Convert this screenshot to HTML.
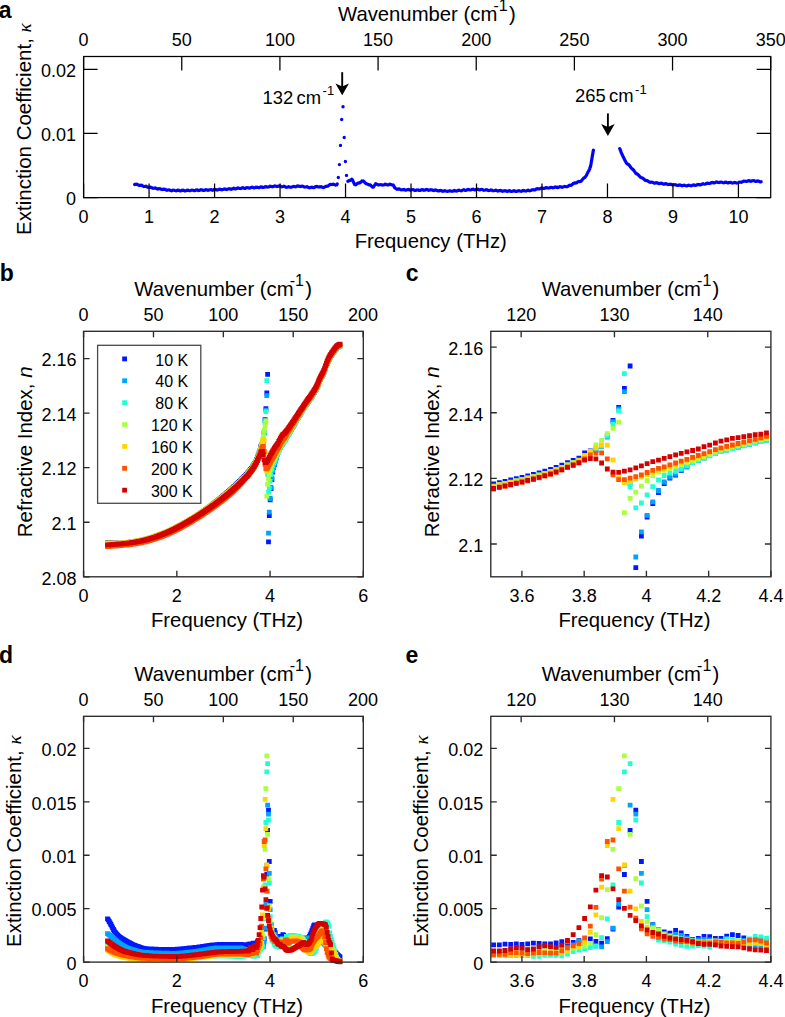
<!DOCTYPE html>
<html><head><meta charset="utf-8"><style>html,body{margin:0;padding:0;background:#fff;overflow:hidden;}svg{display:block;}</style></head><body>
<svg width="785" height="1017" viewBox="0 0 785 1017" font-family="Liberation Sans, sans-serif">
<rect width="785" height="1017" fill="#fff"/>
<path d="M134.7 184.5h.01M135.9 184.3h.01M137.0 184.2h.01M138.2 184.9h.01M139.3 185.4h.01M140.5 185.2h.01M141.6 185.2h.01M142.7 185.9h.01M143.9 186.5h.01M145.0 186.4h.01M146.1 186.3h.01M147.3 187.0h.01M148.4 187.5h.01M149.6 187.3h.01M150.7 187.2h.01M151.9 187.8h.01M153.0 188.3h.01M154.2 188.1h.01M155.4 188.0h.01M156.5 188.6h.01M157.7 189.0h.01M158.8 188.8h.01M160.0 188.6h.01M161.2 189.2h.01M162.3 189.5h.01M163.5 189.3h.01M164.7 189.2h.01M165.8 189.8h.01M167.0 190.2h.01M168.1 189.9h.01M169.3 189.9h.01M170.5 190.4h.01M171.6 190.7h.01M172.8 190.2h.01M174.0 190.1h.01M175.1 190.6h.01M176.3 190.8h.01M177.5 190.3h.01M178.7 190.2h.01M179.8 190.7h.01M181.0 190.8h.01M182.2 190.3h.01M183.3 190.2h.01M184.5 190.7h.01M185.7 190.7h.01M186.9 190.2h.01M188.0 190.2h.01M189.2 190.6h.01M190.4 190.6h.01M191.5 190.1h.01M192.7 190.1h.01M193.9 190.6h.01M195.1 190.5h.01M196.2 190.0h.01M197.4 190.0h.01M198.6 190.5h.01M199.7 190.3h.01M200.9 189.8h.01M202.1 190.0h.01M203.3 190.4h.01M204.4 190.2h.01M205.6 189.7h.01M206.8 189.9h.01M207.9 190.3h.01M209.1 190.0h.01M210.3 189.6h.01M211.4 189.8h.01M212.6 190.2h.01M213.8 189.8h.01M215.0 189.4h.01M216.1 189.7h.01M217.3 190.0h.01M218.5 189.6h.01M219.6 189.2h.01M220.8 189.5h.01M222.0 189.8h.01M223.2 189.4h.01M224.3 189.0h.01M225.5 189.3h.01M226.7 189.5h.01M227.8 189.1h.01M229.0 188.7h.01M230.2 189.0h.01M231.3 189.2h.01M232.5 188.7h.01M233.7 188.3h.01M234.8 188.7h.01M236.0 188.8h.01M237.2 188.3h.01M238.3 188.0h.01M239.5 188.4h.01M240.7 188.5h.01M241.9 188.0h.01M243.0 187.8h.01M244.2 188.2h.01M245.4 188.3h.01M246.5 187.7h.01M247.7 187.6h.01M248.9 188.0h.01M250.0 188.0h.01M251.2 187.4h.01M252.4 187.3h.01M253.6 187.8h.01M254.7 187.7h.01M255.9 187.2h.01M257.1 187.2h.01M258.2 187.6h.01M259.4 187.5h.01M260.6 187.0h.01M261.7 187.0h.01M262.9 187.4h.01M264.1 187.2h.01M265.3 186.7h.01M266.4 186.7h.01M267.6 187.1h.01M268.8 186.9h.01M269.9 186.3h.01M271.1 186.4h.01M272.3 186.8h.01M273.4 186.5h.01M274.6 186.0h.01M275.8 186.1h.01M276.9 186.6h.01M278.1 186.3h.01M279.3 185.9h.01M280.5 186.2h.01M281.6 186.7h.01M282.8 186.6h.01M283.9 186.3h.01M285.1 186.8h.01M286.3 187.3h.01M287.4 187.1h.01M288.6 186.8h.01M289.8 187.1h.01M290.9 187.3h.01M292.1 186.9h.01M293.3 186.4h.01M294.4 186.6h.01M295.6 186.8h.01M296.8 186.3h.01M297.9 185.9h.01M299.1 186.3h.01M300.3 186.6h.01M301.4 186.3h.01M302.6 186.1h.01M303.8 186.7h.01M304.9 187.1h.01M306.1 186.9h.01M307.2 186.8h.01M308.4 187.4h.01M309.6 187.7h.01M310.7 187.4h.01M311.9 187.2h.01M313.1 187.5h.01M314.2 187.5h.01M315.4 186.8h.01M316.5 186.4h.01M317.7 186.8h.01M318.9 187.1h.01M320.0 186.7h.01M321.2 186.7h.01M322.4 187.3h.01M323.5 187.5h.01M324.7 186.9h.01M325.8 186.4h.01M326.9 186.3h.01M327.9 186.1h.01M329.0 185.3h.01M330.1 184.5h.01M331.2 184.4h.01M332.3 184.5h.01M333.5 184.3h.01M334.4 184.6h.01M335.5 185.1h.01M336.5 184.9h.01M337.2 184.0h.01M338.3 177.5h.01M339.4 164.6h.01M340.5 145.4h.01M341.7 119.5h.01M343.0 106.8h.01M344.2 137.5h.01M345.4 161.5h.01M346.5 175.4h.01M347.9 181.2h.01M348.9 180.7h.01M349.9 180.5h.01M350.8 179.9h.01M351.8 179.2h.01M352.5 179.9h.01M352.9 180.9h.01M353.4 182.0h.01M354.0 183.2h.01M354.7 184.5h.01M355.7 184.8h.01M356.8 184.0h.01M357.8 183.2h.01M358.9 183.0h.01M359.9 182.8h.01M361.0 182.0h.01M362.0 181.0h.01M363.1 180.9h.01M364.2 181.7h.01M364.9 182.6h.01M365.6 183.3h.01M366.5 183.7h.01M367.6 184.1h.01M368.8 184.7h.01M369.9 184.9h.01M370.7 185.3h.01M371.5 186.1h.01M372.4 187.1h.01M373.4 187.1h.01M374.1 186.1h.01M374.8 184.9h.01M375.7 183.8h.01M376.8 184.1h.01M378.0 184.8h.01M379.1 184.9h.01M380.3 184.6h.01M381.5 184.7h.01M382.6 185.1h.01M383.8 184.9h.01M385.0 184.3h.01M386.2 184.5h.01M387.3 184.9h.01M388.5 184.7h.01M389.7 184.3h.01M390.9 184.5h.01M392.0 184.9h.01M393.1 185.0h.01M393.7 185.8h.01M394.2 186.7h.01M394.8 187.7h.01M395.9 188.6h.01M397.0 189.2h.01M398.2 189.0h.01M399.3 189.0h.01M400.5 189.6h.01M401.7 189.9h.01M402.8 189.6h.01M404.0 189.5h.01M405.2 190.0h.01M406.3 190.1h.01M407.5 189.6h.01M408.7 189.5h.01M409.9 190.0h.01M411.0 190.1h.01M412.2 189.6h.01M413.4 189.7h.01M414.6 190.3h.01M415.7 190.4h.01M416.9 189.9h.01M418.1 190.0h.01M419.2 190.4h.01M420.4 190.3h.01M421.6 189.7h.01M422.8 189.7h.01M423.9 190.2h.01M425.1 190.0h.01M426.3 189.5h.01M427.5 189.7h.01M428.6 190.2h.01M429.8 190.0h.01M431.0 189.6h.01M432.2 189.9h.01M433.3 190.5h.01M434.5 190.3h.01M435.7 190.0h.01M436.8 190.4h.01M438.0 190.9h.01M439.2 190.7h.01M440.3 190.4h.01M441.5 190.8h.01M442.7 191.3h.01M443.9 191.0h.01M445.0 190.7h.01M446.2 191.1h.01M447.4 191.4h.01M448.6 191.1h.01M449.7 190.7h.01M450.9 191.1h.01M452.1 191.3h.01M453.3 190.9h.01M454.4 190.5h.01M455.6 190.9h.01M456.8 191.0h.01M457.9 190.5h.01M459.1 190.2h.01M460.3 190.6h.01M461.5 190.7h.01M462.6 190.1h.01M463.8 189.8h.01M465.0 190.2h.01M466.1 190.3h.01M467.3 189.7h.01M468.5 189.5h.01M469.7 189.9h.01M470.8 189.9h.01M472.0 189.4h.01M473.2 189.3h.01M474.4 189.8h.01M475.5 189.7h.01M476.7 189.2h.01M477.9 189.3h.01M479.1 189.8h.01M480.2 189.8h.01M481.4 189.4h.01M482.6 189.6h.01M483.7 190.2h.01M484.9 190.1h.01M486.1 189.7h.01M487.3 190.0h.01M488.4 190.5h.01M489.6 190.4h.01M490.8 190.0h.01M492.0 190.2h.01M493.1 190.8h.01M494.3 190.6h.01M495.5 190.2h.01M496.6 190.5h.01M497.8 191.0h.01M499.0 190.8h.01M500.2 190.4h.01M501.3 190.8h.01M502.5 191.2h.01M503.7 190.9h.01M504.9 190.6h.01M506.0 191.0h.01M507.2 191.4h.01M508.4 191.0h.01M509.6 190.7h.01M510.7 191.2h.01M511.9 191.4h.01M513.1 191.0h.01M514.3 190.7h.01M515.4 191.2h.01M516.6 191.4h.01M517.8 190.9h.01M519.0 190.7h.01M520.1 191.1h.01M521.3 191.2h.01M522.5 190.7h.01M523.7 190.5h.01M524.8 190.9h.01M526.0 191.0h.01M527.2 190.4h.01M528.3 190.3h.01M529.5 190.7h.01M530.7 190.6h.01M531.8 189.9h.01M533.0 189.6h.01M534.1 189.9h.01M535.3 189.7h.01M536.4 188.9h.01M537.6 188.7h.01M538.7 188.9h.01M539.9 188.8h.01M541.1 188.1h.01M542.2 188.0h.01M543.4 188.4h.01M544.6 188.3h.01M545.8 187.7h.01M546.9 187.7h.01M548.1 188.1h.01M549.3 187.9h.01M550.4 187.4h.01M551.6 187.4h.01M552.8 187.8h.01M554.0 187.6h.01M555.1 187.0h.01M556.3 187.2h.01M557.5 187.5h.01M558.6 187.2h.01M559.8 186.7h.01M561.0 186.9h.01M562.2 187.3h.01M563.3 186.9h.01M564.5 186.4h.01M565.7 186.6h.01M566.8 186.8h.01M568.0 186.3h.01M569.1 185.5h.01M570.2 185.3h.01M571.2 185.2h.01M572.3 184.5h.01M573.3 183.5h.01M574.4 183.0h.01M575.4 183.0h.01M576.6 182.7h.01M577.7 181.9h.01M578.8 181.5h.01M579.9 181.6h.01M581.0 181.2h.01M581.9 180.2h.01M582.8 179.1h.01M583.6 178.3h.01M584.4 177.8h.01M585.2 177.1h.01M585.9 176.1h.01M586.6 174.9h.01M587.2 173.6h.01M587.8 172.5h.01M588.3 171.6h.01M588.8 170.8h.01M589.3 169.9h.01M589.7 168.9h.01M590.0 167.8h.01M590.4 166.7h.01M590.7 165.4h.01M591.0 164.1h.01M591.2 162.9h.01M591.4 161.6h.01M591.6 160.4h.01M591.8 159.2h.01M592.0 158.0h.01M592.2 156.8h.01M592.4 155.7h.01M592.6 154.5h.01M592.8 153.4h.01M593.0 152.3h.01M593.2 151.3h.01M593.4 150.2h.01M619.7 148.6h.01M620.2 149.7h.01M620.7 150.9h.01M621.1 152.2h.01M621.6 153.4h.01M622.1 154.5h.01M622.6 155.6h.01M623.0 156.5h.01M623.5 157.4h.01M623.9 158.3h.01M624.4 159.3h.01M625.0 160.4h.01M625.6 161.6h.01M626.3 162.8h.01M627.1 163.7h.01M627.9 164.3h.01M628.7 164.8h.01M629.6 165.7h.01M630.4 166.8h.01M631.2 167.9h.01M632.0 168.7h.01M632.7 169.3h.01M633.5 170.0h.01M634.2 171.0h.01M635.0 172.1h.01M635.8 173.2h.01M636.7 173.9h.01M637.5 174.3h.01M638.4 175.0h.01M639.3 176.0h.01M640.2 177.0h.01M641.2 177.6h.01M642.2 177.9h.01M643.2 178.4h.01M644.2 179.4h.01M645.2 180.2h.01M646.2 180.5h.01M647.2 180.7h.01M648.3 181.3h.01M649.4 182.1h.01M650.5 182.3h.01M651.7 182.1h.01M652.8 182.4h.01M654.0 183.0h.01M655.2 183.0h.01M656.3 182.7h.01M657.5 183.0h.01M658.7 183.5h.01M659.8 183.5h.01M661.0 183.2h.01M662.1 183.5h.01M663.3 184.0h.01M664.5 184.0h.01M665.6 183.7h.01M666.8 184.0h.01M668.0 184.5h.01M669.1 184.4h.01M670.3 184.1h.01M671.5 184.5h.01M672.6 184.9h.01M673.8 184.8h.01M675.0 184.6h.01M676.1 185.0h.01M677.3 185.4h.01M678.5 185.2h.01M679.6 185.0h.01M680.8 185.3h.01M682.0 185.7h.01M683.1 185.5h.01M684.3 185.3h.01M685.5 185.6h.01M686.6 185.9h.01M687.8 185.5h.01M689.0 185.3h.01M690.2 185.6h.01M691.3 185.7h.01M692.5 185.3h.01M693.7 185.0h.01M694.8 185.2h.01M696.0 185.3h.01M697.2 184.8h.01M698.3 184.5h.01M699.5 184.7h.01M700.6 184.7h.01M701.8 184.2h.01M703.0 183.8h.01M704.1 184.1h.01M705.3 184.1h.01M706.4 183.5h.01M707.6 183.2h.01M708.7 183.4h.01M709.9 183.4h.01M711.1 182.8h.01M712.2 182.5h.01M713.4 182.7h.01M714.5 182.7h.01M715.7 182.2h.01M716.9 182.0h.01M718.0 182.4h.01M719.2 182.5h.01M720.4 182.1h.01M721.6 182.1h.01M722.7 182.6h.01M723.9 182.7h.01M725.1 182.3h.01M726.2 182.3h.01M727.4 182.8h.01M728.6 182.8h.01M729.7 182.4h.01M730.9 182.5h.01M732.1 183.0h.01M733.2 182.9h.01M734.4 182.5h.01M735.6 182.6h.01M736.8 183.1h.01M737.9 182.9h.01M739.1 182.3h.01M740.2 182.1h.01M741.3 182.2h.01M742.4 181.7h.01M743.6 181.1h.01M744.8 181.1h.01M745.9 181.4h.01M747.1 181.2h.01M748.3 180.7h.01M749.4 180.8h.01M750.6 181.2h.01M751.8 181.0h.01M752.9 180.6h.01M754.1 180.8h.01M755.3 181.3h.01M756.4 181.2h.01M757.6 180.9h.01M758.8 181.2h.01M759.9 181.7h.01M761.1 181.7h.01" fill="none" stroke="#0000ff" stroke-width="3.4" stroke-linecap="round"/>
<path d="M105.1 540.2h4.8v4.8h-4.8zM106.0 540.2h4.8v4.8h-4.8zM106.8 540.2h4.8v4.8h-4.8zM107.7 540.3h4.8v4.8h-4.8zM108.5 540.3h4.8v4.8h-4.8zM109.4 540.4h4.8v4.8h-4.8zM110.2 540.4h4.8v4.8h-4.8zM111.1 540.5h4.8v4.8h-4.8zM111.9 540.5h4.8v4.8h-4.8zM112.8 540.6h4.8v4.8h-4.8zM113.6 540.6h4.8v4.8h-4.8zM114.5 540.7h4.8v4.8h-4.8zM115.3 540.7h4.8v4.8h-4.8zM116.2 540.8h4.8v4.8h-4.8zM117.0 540.8h4.8v4.8h-4.8zM117.9 540.8h4.8v4.8h-4.8zM118.7 540.9h4.8v4.8h-4.8zM119.6 540.8h4.8v4.8h-4.8zM120.4 540.7h4.8v4.8h-4.8zM121.3 540.6h4.8v4.8h-4.8zM122.1 540.5h4.8v4.8h-4.8zM123.0 540.4h4.8v4.8h-4.8zM123.8 540.4h4.8v4.8h-4.8zM124.7 540.3h4.8v4.8h-4.8zM125.5 540.2h4.8v4.8h-4.8zM126.4 540.1h4.8v4.8h-4.8zM127.2 539.9h4.8v4.8h-4.8zM128.1 539.8h4.8v4.8h-4.8zM128.9 539.7h4.8v4.8h-4.8zM129.8 539.6h4.8v4.8h-4.8zM130.7 539.5h4.8v4.8h-4.8zM131.5 539.3h4.8v4.8h-4.8zM132.4 539.2h4.8v4.8h-4.8zM133.2 539.1h4.8v4.8h-4.8zM134.1 538.9h4.8v4.8h-4.8zM134.9 538.7h4.8v4.8h-4.8zM135.8 538.6h4.8v4.8h-4.8zM136.6 538.4h4.8v4.8h-4.8zM137.5 538.3h4.8v4.8h-4.8zM138.3 538.1h4.8v4.8h-4.8zM139.2 537.9h4.8v4.8h-4.8zM140.0 537.7h4.8v4.8h-4.8zM140.9 537.5h4.8v4.8h-4.8zM141.7 537.3h4.8v4.8h-4.8zM142.6 537.1h4.8v4.8h-4.8zM143.4 536.9h4.8v4.8h-4.8zM144.3 536.7h4.8v4.8h-4.8zM145.1 536.4h4.8v4.8h-4.8zM146.0 536.2h4.8v4.8h-4.8zM146.8 536.0h4.8v4.8h-4.8zM147.7 535.7h4.8v4.8h-4.8zM148.5 535.5h4.8v4.8h-4.8zM149.4 535.2h4.8v4.8h-4.8zM150.2 534.9h4.8v4.8h-4.8zM151.1 534.7h4.8v4.8h-4.8zM151.9 534.4h4.8v4.8h-4.8zM152.8 534.1h4.8v4.8h-4.8zM153.6 533.8h4.8v4.8h-4.8zM154.5 533.5h4.8v4.8h-4.8zM155.4 533.2h4.8v4.8h-4.8zM156.2 532.9h4.8v4.8h-4.8zM157.1 532.6h4.8v4.8h-4.8zM157.9 532.3h4.8v4.8h-4.8zM158.8 531.9h4.8v4.8h-4.8zM159.6 531.6h4.8v4.8h-4.8zM160.5 531.3h4.8v4.8h-4.8zM161.3 530.9h4.8v4.8h-4.8zM162.2 530.6h4.8v4.8h-4.8zM163.0 530.2h4.8v4.8h-4.8zM163.9 529.9h4.8v4.8h-4.8zM164.7 529.5h4.8v4.8h-4.8zM165.6 529.1h4.8v4.8h-4.8zM166.4 528.7h4.8v4.8h-4.8zM167.3 528.3h4.8v4.8h-4.8zM168.1 527.9h4.8v4.8h-4.8zM169.0 527.5h4.8v4.8h-4.8zM169.8 527.1h4.8v4.8h-4.8zM170.7 526.7h4.8v4.8h-4.8zM171.5 526.3h4.8v4.8h-4.8zM172.4 525.9h4.8v4.8h-4.8zM173.2 525.5h4.8v4.8h-4.8zM174.1 525.0h4.8v4.8h-4.8zM174.9 524.6h4.8v4.8h-4.8zM175.8 524.2h4.8v4.8h-4.8zM176.6 523.7h4.8v4.8h-4.8zM177.5 523.3h4.8v4.8h-4.8zM178.3 522.8h4.8v4.8h-4.8zM179.2 522.4h4.8v4.8h-4.8zM180.0 521.9h4.8v4.8h-4.8zM180.9 521.4h4.8v4.8h-4.8zM181.8 521.0h4.8v4.8h-4.8zM182.6 520.5h4.8v4.8h-4.8zM183.5 520.0h4.8v4.8h-4.8zM184.3 519.5h4.8v4.8h-4.8zM185.2 519.0h4.8v4.8h-4.8zM186.0 518.5h4.8v4.8h-4.8zM186.9 518.0h4.8v4.8h-4.8zM187.7 517.5h4.8v4.8h-4.8zM188.6 517.0h4.8v4.8h-4.8zM189.4 516.5h4.8v4.8h-4.8zM190.3 516.0h4.8v4.8h-4.8zM191.1 515.5h4.8v4.8h-4.8zM192.0 514.9h4.8v4.8h-4.8zM192.8 514.4h4.8v4.8h-4.8zM193.7 513.9h4.8v4.8h-4.8zM194.5 513.3h4.8v4.8h-4.8zM195.4 512.8h4.8v4.8h-4.8zM196.2 512.3h4.8v4.8h-4.8zM197.1 511.7h4.8v4.8h-4.8zM197.9 511.2h4.8v4.8h-4.8zM198.8 510.6h4.8v4.8h-4.8zM199.6 510.0h4.8v4.8h-4.8zM200.5 509.4h4.8v4.8h-4.8zM201.3 508.8h4.8v4.8h-4.8zM202.2 508.1h4.8v4.8h-4.8zM203.0 507.5h4.8v4.8h-4.8zM203.9 506.9h4.8v4.8h-4.8zM204.7 506.3h4.8v4.8h-4.8zM205.6 505.7h4.8v4.8h-4.8zM206.5 505.0h4.8v4.8h-4.8zM207.3 504.4h4.8v4.8h-4.8zM208.2 503.8h4.8v4.8h-4.8zM209.0 503.1h4.8v4.8h-4.8zM209.9 502.5h4.8v4.8h-4.8zM210.7 501.8h4.8v4.8h-4.8zM211.6 501.2h4.8v4.8h-4.8zM212.4 500.5h4.8v4.8h-4.8zM213.3 499.8h4.8v4.8h-4.8zM214.1 499.2h4.8v4.8h-4.8zM215.0 498.5h4.8v4.8h-4.8zM215.8 497.8h4.8v4.8h-4.8zM216.7 497.1h4.8v4.8h-4.8zM217.5 496.4h4.8v4.8h-4.8zM218.4 495.7h4.8v4.8h-4.8zM219.2 495.0h4.8v4.8h-4.8zM220.1 494.3h4.8v4.8h-4.8zM220.9 493.6h4.8v4.8h-4.8zM221.8 492.9h4.8v4.8h-4.8zM222.6 492.2h4.8v4.8h-4.8zM223.5 491.5h4.8v4.8h-4.8zM224.3 490.7h4.8v4.8h-4.8zM225.2 490.0h4.8v4.8h-4.8zM226.0 489.2h4.8v4.8h-4.8zM226.9 488.5h4.8v4.8h-4.8zM227.7 487.7h4.8v4.8h-4.8zM228.6 486.9h4.8v4.8h-4.8zM229.4 486.2h4.8v4.8h-4.8zM230.3 485.4h4.8v4.8h-4.8zM231.2 484.6h4.8v4.8h-4.8zM232.0 483.9h4.8v4.8h-4.8zM232.9 483.1h4.8v4.8h-4.8zM233.7 482.3h4.8v4.8h-4.8zM234.6 481.5h4.8v4.8h-4.8zM235.4 480.7h4.8v4.8h-4.8zM236.3 479.9h4.8v4.8h-4.8zM237.1 479.1h4.8v4.8h-4.8zM238.0 478.2h4.8v4.8h-4.8zM238.8 477.4h4.8v4.8h-4.8zM239.7 476.5h4.8v4.8h-4.8zM240.5 475.7h4.8v4.8h-4.8zM241.4 474.8h4.8v4.8h-4.8zM242.2 473.9h4.8v4.8h-4.8zM243.1 473.0h4.8v4.8h-4.8zM243.9 472.0h4.8v4.8h-4.8zM244.8 471.5h4.8v4.8h-4.8zM245.6 470.3h4.8v4.8h-4.8zM246.5 469.2h4.8v4.8h-4.8zM247.3 468.2h4.8v4.8h-4.8zM248.2 467.1h4.8v4.8h-4.8zM249.0 465.9h4.8v4.8h-4.8zM249.9 464.8h4.8v4.8h-4.8zM250.7 463.6h4.8v4.8h-4.8zM251.6 462.3h4.8v4.8h-4.8zM252.4 460.9h4.8v4.8h-4.8zM253.3 459.4h4.8v4.8h-4.8zM254.1 457.3h4.8v4.8h-4.8zM255.0 455.1h4.8v4.8h-4.8zM255.8 452.7h4.8v4.8h-4.8zM256.7 450.5h4.8v4.8h-4.8zM257.6 448.5h4.8v4.8h-4.8zM258.4 444.2h4.8v4.8h-4.8zM259.3 442.6h4.8v4.8h-4.8zM260.1 441.7h4.8v4.8h-4.8zM261.0 438.4h4.8v4.8h-4.8zM261.8 430.1h4.8v4.8h-4.8zM262.7 417.2h4.8v4.8h-4.8zM263.5 406.2h4.8v4.8h-4.8zM264.4 390.6h4.8v4.8h-4.8zM265.2 371.9h4.8v4.8h-4.8zM266.1 539.5h4.8v4.8h-4.8zM266.9 513.2h4.8v4.8h-4.8zM267.8 497.4h4.8v4.8h-4.8zM268.6 486.2h4.8v4.8h-4.8zM269.5 477.2h4.8v4.8h-4.8zM270.3 469.6h4.8v4.8h-4.8zM271.2 465.0h4.8v4.8h-4.8zM272.0 462.5h4.8v4.8h-4.8zM272.9 458.8h4.8v4.8h-4.8zM273.7 455.3h4.8v4.8h-4.8zM274.6 451.9h4.8v4.8h-4.8zM275.4 450.0h4.8v4.8h-4.8zM276.3 448.2h4.8v4.8h-4.8zM277.1 446.4h4.8v4.8h-4.8zM278.0 444.6h4.8v4.8h-4.8zM278.8 442.7h4.8v4.8h-4.8zM279.7 441.6h4.8v4.8h-4.8zM280.5 440.4h4.8v4.8h-4.8zM281.4 439.2h4.8v4.8h-4.8zM282.3 438.0h4.8v4.8h-4.8zM283.1 436.6h4.8v4.8h-4.8zM284.0 435.3h4.8v4.8h-4.8zM284.8 433.4h4.8v4.8h-4.8zM285.7 432.1h4.8v4.8h-4.8zM286.5 430.7h4.8v4.8h-4.8zM287.4 429.3h4.8v4.8h-4.8zM288.2 427.9h4.8v4.8h-4.8zM289.1 426.5h4.8v4.8h-4.8zM289.9 425.1h4.8v4.8h-4.8zM290.8 423.6h4.8v4.8h-4.8zM291.6 422.2h4.8v4.8h-4.8zM292.5 420.7h4.8v4.8h-4.8zM293.3 419.2h4.8v4.8h-4.8zM294.2 417.7h4.8v4.8h-4.8zM295.0 416.3h4.8v4.8h-4.8zM295.9 414.8h4.8v4.8h-4.8zM296.7 413.3h4.8v4.8h-4.8zM297.6 411.9h4.8v4.8h-4.8zM298.4 410.4h4.8v4.8h-4.8zM299.3 409.0h4.8v4.8h-4.8zM300.1 407.5h4.8v4.8h-4.8zM301.0 406.1h4.8v4.8h-4.8zM301.8 404.8h4.8v4.8h-4.8zM302.7 403.5h4.8v4.8h-4.8zM303.5 402.3h4.8v4.8h-4.8zM304.4 401.0h4.8v4.8h-4.8zM305.2 399.8h4.8v4.8h-4.8zM306.1 398.6h4.8v4.8h-4.8zM307.0 397.4h4.8v4.8h-4.8zM307.8 396.2h4.8v4.8h-4.8zM308.7 394.9h4.8v4.8h-4.8zM309.5 393.6h4.8v4.8h-4.8zM310.4 392.3h4.8v4.8h-4.8zM311.2 391.0h4.8v4.8h-4.8zM312.1 389.6h4.8v4.8h-4.8zM312.9 388.2h4.8v4.8h-4.8zM313.8 386.6h4.8v4.8h-4.8zM314.6 384.8h4.8v4.8h-4.8zM315.5 382.7h4.8v4.8h-4.8zM316.3 380.6h4.8v4.8h-4.8zM317.2 378.5h4.8v4.8h-4.8zM318.0 376.7h4.8v4.8h-4.8zM318.9 375.1h4.8v4.8h-4.8zM319.7 373.5h4.8v4.8h-4.8zM320.6 371.8h4.8v4.8h-4.8zM321.4 370.0h4.8v4.8h-4.8zM322.3 367.8h4.8v4.8h-4.8zM323.1 365.4h4.8v4.8h-4.8zM324.0 363.0h4.8v4.8h-4.8zM324.8 360.8h4.8v4.8h-4.8zM325.7 358.8h4.8v4.8h-4.8zM326.5 356.9h4.8v4.8h-4.8zM327.4 355.3h4.8v4.8h-4.8zM328.2 353.9h4.8v4.8h-4.8zM329.1 352.6h4.8v4.8h-4.8zM329.9 351.4h4.8v4.8h-4.8zM330.8 350.1h4.8v4.8h-4.8zM331.6 348.9h4.8v4.8h-4.8zM332.5 347.7h4.8v4.8h-4.8zM333.4 346.6h4.8v4.8h-4.8zM334.2 345.6h4.8v4.8h-4.8zM335.1 345.0h4.8v4.8h-4.8zM335.9 344.4h4.8v4.8h-4.8zM336.8 343.9h4.8v4.8h-4.8zM337.6 343.6h4.8v4.8h-4.8z" fill="#0018ff"/>
<path d="M105.1 541.2h4.8v4.8h-4.8zM106.0 541.2h4.8v4.8h-4.8zM106.8 541.2h4.8v4.8h-4.8zM107.7 541.2h4.8v4.8h-4.8zM108.5 541.2h4.8v4.8h-4.8zM109.4 541.2h4.8v4.8h-4.8zM110.2 541.2h4.8v4.8h-4.8zM111.1 541.2h4.8v4.8h-4.8zM111.9 541.2h4.8v4.8h-4.8zM112.8 541.2h4.8v4.8h-4.8zM113.6 541.2h4.8v4.8h-4.8zM114.5 541.2h4.8v4.8h-4.8zM115.3 541.2h4.8v4.8h-4.8zM116.2 541.2h4.8v4.8h-4.8zM117.0 541.2h4.8v4.8h-4.8zM117.9 541.2h4.8v4.8h-4.8zM118.7 541.1h4.8v4.8h-4.8zM119.6 541.1h4.8v4.8h-4.8zM120.4 541.0h4.8v4.8h-4.8zM121.3 540.9h4.8v4.8h-4.8zM122.1 540.8h4.8v4.8h-4.8zM123.0 540.7h4.8v4.8h-4.8zM123.8 540.6h4.8v4.8h-4.8zM124.7 540.5h4.8v4.8h-4.8zM125.5 540.4h4.8v4.8h-4.8zM126.4 540.3h4.8v4.8h-4.8zM127.2 540.2h4.8v4.8h-4.8zM128.1 540.1h4.8v4.8h-4.8zM128.9 540.0h4.8v4.8h-4.8zM129.8 539.9h4.8v4.8h-4.8zM130.7 539.7h4.8v4.8h-4.8zM131.5 539.6h4.8v4.8h-4.8zM132.4 539.5h4.8v4.8h-4.8zM133.2 539.3h4.8v4.8h-4.8zM134.1 539.2h4.8v4.8h-4.8zM134.9 539.0h4.8v4.8h-4.8zM135.8 538.9h4.8v4.8h-4.8zM136.6 538.7h4.8v4.8h-4.8zM137.5 538.5h4.8v4.8h-4.8zM138.3 538.4h4.8v4.8h-4.8zM139.2 538.2h4.8v4.8h-4.8zM140.0 538.0h4.8v4.8h-4.8zM140.9 537.8h4.8v4.8h-4.8zM141.7 537.6h4.8v4.8h-4.8zM142.6 537.4h4.8v4.8h-4.8zM143.4 537.2h4.8v4.8h-4.8zM144.3 536.9h4.8v4.8h-4.8zM145.1 536.7h4.8v4.8h-4.8zM146.0 536.5h4.8v4.8h-4.8zM146.8 536.2h4.8v4.8h-4.8zM147.7 536.0h4.8v4.8h-4.8zM148.5 535.7h4.8v4.8h-4.8zM149.4 535.5h4.8v4.8h-4.8zM150.2 535.2h4.8v4.8h-4.8zM151.1 534.9h4.8v4.8h-4.8zM151.9 534.7h4.8v4.8h-4.8zM152.8 534.4h4.8v4.8h-4.8zM153.6 534.1h4.8v4.8h-4.8zM154.5 533.8h4.8v4.8h-4.8zM155.4 533.5h4.8v4.8h-4.8zM156.2 533.2h4.8v4.8h-4.8zM157.1 532.9h4.8v4.8h-4.8zM157.9 532.5h4.8v4.8h-4.8zM158.8 532.2h4.8v4.8h-4.8zM159.6 531.9h4.8v4.8h-4.8zM160.5 531.5h4.8v4.8h-4.8zM161.3 531.2h4.8v4.8h-4.8zM162.2 530.8h4.8v4.8h-4.8zM163.0 530.5h4.8v4.8h-4.8zM163.9 530.1h4.8v4.8h-4.8zM164.7 529.8h4.8v4.8h-4.8zM165.6 529.4h4.8v4.8h-4.8zM166.4 529.0h4.8v4.8h-4.8zM167.3 528.6h4.8v4.8h-4.8zM168.1 528.2h4.8v4.8h-4.8zM169.0 527.8h4.8v4.8h-4.8zM169.8 527.4h4.8v4.8h-4.8zM170.7 527.0h4.8v4.8h-4.8zM171.5 526.6h4.8v4.8h-4.8zM172.4 526.2h4.8v4.8h-4.8zM173.2 525.7h4.8v4.8h-4.8zM174.1 525.3h4.8v4.8h-4.8zM174.9 524.9h4.8v4.8h-4.8zM175.8 524.4h4.8v4.8h-4.8zM176.6 524.0h4.8v4.8h-4.8zM177.5 523.5h4.8v4.8h-4.8zM178.3 523.1h4.8v4.8h-4.8zM179.2 522.6h4.8v4.8h-4.8zM180.0 522.2h4.8v4.8h-4.8zM180.9 521.7h4.8v4.8h-4.8zM181.8 521.2h4.8v4.8h-4.8zM182.6 520.7h4.8v4.8h-4.8zM183.5 520.3h4.8v4.8h-4.8zM184.3 519.8h4.8v4.8h-4.8zM185.2 519.3h4.8v4.8h-4.8zM186.0 518.8h4.8v4.8h-4.8zM186.9 518.3h4.8v4.8h-4.8zM187.7 517.8h4.8v4.8h-4.8zM188.6 517.3h4.8v4.8h-4.8zM189.4 516.8h4.8v4.8h-4.8zM190.3 516.3h4.8v4.8h-4.8zM191.1 515.7h4.8v4.8h-4.8zM192.0 515.2h4.8v4.8h-4.8zM192.8 514.7h4.8v4.8h-4.8zM193.7 514.2h4.8v4.8h-4.8zM194.5 513.6h4.8v4.8h-4.8zM195.4 513.1h4.8v4.8h-4.8zM196.2 512.5h4.8v4.8h-4.8zM197.1 512.0h4.8v4.8h-4.8zM197.9 511.4h4.8v4.8h-4.8zM198.8 510.9h4.8v4.8h-4.8zM199.6 510.3h4.8v4.8h-4.8zM200.5 509.7h4.8v4.8h-4.8zM201.3 509.1h4.8v4.8h-4.8zM202.2 508.5h4.8v4.8h-4.8zM203.0 507.9h4.8v4.8h-4.8zM203.9 507.3h4.8v4.8h-4.8zM204.7 506.7h4.8v4.8h-4.8zM205.6 506.1h4.8v4.8h-4.8zM206.5 505.5h4.8v4.8h-4.8zM207.3 504.9h4.8v4.8h-4.8zM208.2 504.3h4.8v4.8h-4.8zM209.0 503.7h4.8v4.8h-4.8zM209.9 503.0h4.8v4.8h-4.8zM210.7 502.4h4.8v4.8h-4.8zM211.6 501.8h4.8v4.8h-4.8zM212.4 501.1h4.8v4.8h-4.8zM213.3 500.5h4.8v4.8h-4.8zM214.1 499.8h4.8v4.8h-4.8zM215.0 499.2h4.8v4.8h-4.8zM215.8 498.5h4.8v4.8h-4.8zM216.7 497.9h4.8v4.8h-4.8zM217.5 497.2h4.8v4.8h-4.8zM218.4 496.5h4.8v4.8h-4.8zM219.2 495.9h4.8v4.8h-4.8zM220.1 495.2h4.8v4.8h-4.8zM220.9 494.5h4.8v4.8h-4.8zM221.8 493.8h4.8v4.8h-4.8zM222.6 493.1h4.8v4.8h-4.8zM223.5 492.4h4.8v4.8h-4.8zM224.3 491.7h4.8v4.8h-4.8zM225.2 490.9h4.8v4.8h-4.8zM226.0 490.2h4.8v4.8h-4.8zM226.9 489.5h4.8v4.8h-4.8zM227.7 488.7h4.8v4.8h-4.8zM228.6 488.0h4.8v4.8h-4.8zM229.4 487.2h4.8v4.8h-4.8zM230.3 486.5h4.8v4.8h-4.8zM231.2 485.7h4.8v4.8h-4.8zM232.0 485.0h4.8v4.8h-4.8zM232.9 484.2h4.8v4.8h-4.8zM233.7 483.4h4.8v4.8h-4.8zM234.6 482.6h4.8v4.8h-4.8zM235.4 481.9h4.8v4.8h-4.8zM236.3 481.0h4.8v4.8h-4.8zM237.1 480.2h4.8v4.8h-4.8zM238.0 479.4h4.8v4.8h-4.8zM238.8 478.6h4.8v4.8h-4.8zM239.7 477.7h4.8v4.8h-4.8zM240.5 476.9h4.8v4.8h-4.8zM241.4 476.0h4.8v4.8h-4.8zM242.2 475.1h4.8v4.8h-4.8zM243.1 474.2h4.8v4.8h-4.8zM243.9 473.3h4.8v4.8h-4.8zM244.8 472.7h4.8v4.8h-4.8zM245.6 471.6h4.8v4.8h-4.8zM246.5 470.5h4.8v4.8h-4.8zM247.3 469.4h4.8v4.8h-4.8zM248.2 468.3h4.8v4.8h-4.8zM249.0 467.2h4.8v4.8h-4.8zM249.9 466.0h4.8v4.8h-4.8zM250.7 464.8h4.8v4.8h-4.8zM251.6 463.5h4.8v4.8h-4.8zM252.4 462.1h4.8v4.8h-4.8zM253.3 460.6h4.8v4.8h-4.8zM254.1 458.8h4.8v4.8h-4.8zM255.0 456.8h4.8v4.8h-4.8zM255.8 454.5h4.8v4.8h-4.8zM256.7 452.5h4.8v4.8h-4.8zM257.6 450.5h4.8v4.8h-4.8zM258.4 446.7h4.8v4.8h-4.8zM259.3 443.8h4.8v4.8h-4.8zM260.1 442.2h4.8v4.8h-4.8zM261.0 438.8h4.8v4.8h-4.8zM261.8 430.9h4.8v4.8h-4.8zM262.7 418.1h4.8v4.8h-4.8zM263.5 407.7h4.8v4.8h-4.8zM264.4 393.2h4.8v4.8h-4.8zM265.2 469.7h4.8v4.8h-4.8zM266.1 530.7h4.8v4.8h-4.8zM266.9 509.7h4.8v4.8h-4.8zM267.8 496.1h4.8v4.8h-4.8zM268.6 484.9h4.8v4.8h-4.8zM269.5 475.4h4.8v4.8h-4.8zM270.3 468.3h4.8v4.8h-4.8zM271.2 464.2h4.8v4.8h-4.8zM272.0 461.8h4.8v4.8h-4.8zM272.9 458.4h4.8v4.8h-4.8zM273.7 455.9h4.8v4.8h-4.8zM274.6 452.0h4.8v4.8h-4.8zM275.4 450.1h4.8v4.8h-4.8zM276.3 448.3h4.8v4.8h-4.8zM277.1 446.5h4.8v4.8h-4.8zM278.0 444.6h4.8v4.8h-4.8zM278.8 442.8h4.8v4.8h-4.8zM279.7 441.6h4.8v4.8h-4.8zM280.5 440.5h4.8v4.8h-4.8zM281.4 439.3h4.8v4.8h-4.8zM282.3 438.1h4.8v4.8h-4.8zM283.1 436.7h4.8v4.8h-4.8zM284.0 435.4h4.8v4.8h-4.8zM284.8 433.4h4.8v4.8h-4.8zM285.7 432.2h4.8v4.8h-4.8zM286.5 430.8h4.8v4.8h-4.8zM287.4 429.4h4.8v4.8h-4.8zM288.2 428.0h4.8v4.8h-4.8zM289.1 426.6h4.8v4.8h-4.8zM289.9 425.2h4.8v4.8h-4.8zM290.8 423.7h4.8v4.8h-4.8zM291.6 422.2h4.8v4.8h-4.8zM292.5 420.8h4.8v4.8h-4.8zM293.3 419.3h4.8v4.8h-4.8zM294.2 417.8h4.8v4.8h-4.8zM295.0 416.3h4.8v4.8h-4.8zM295.9 414.9h4.8v4.8h-4.8zM296.7 413.4h4.8v4.8h-4.8zM297.6 411.9h4.8v4.8h-4.8zM298.4 410.5h4.8v4.8h-4.8zM299.3 409.0h4.8v4.8h-4.8zM300.1 407.6h4.8v4.8h-4.8zM301.0 406.1h4.8v4.8h-4.8zM301.8 404.8h4.8v4.8h-4.8zM302.7 403.5h4.8v4.8h-4.8zM303.5 402.3h4.8v4.8h-4.8zM304.4 401.1h4.8v4.8h-4.8zM305.2 399.9h4.8v4.8h-4.8zM306.1 398.7h4.8v4.8h-4.8zM307.0 397.5h4.8v4.8h-4.8zM307.8 396.2h4.8v4.8h-4.8zM308.7 394.9h4.8v4.8h-4.8zM309.5 393.6h4.8v4.8h-4.8zM310.4 392.3h4.8v4.8h-4.8zM311.2 391.0h4.8v4.8h-4.8zM312.1 389.6h4.8v4.8h-4.8zM312.9 388.2h4.8v4.8h-4.8zM313.8 386.6h4.8v4.8h-4.8zM314.6 384.8h4.8v4.8h-4.8zM315.5 382.8h4.8v4.8h-4.8zM316.3 380.6h4.8v4.8h-4.8zM317.2 378.6h4.8v4.8h-4.8zM318.0 376.8h4.8v4.8h-4.8zM318.9 375.1h4.8v4.8h-4.8zM319.7 373.5h4.8v4.8h-4.8zM320.6 371.9h4.8v4.8h-4.8zM321.4 370.0h4.8v4.8h-4.8zM322.3 367.9h4.8v4.8h-4.8zM323.1 365.4h4.8v4.8h-4.8zM324.0 363.0h4.8v4.8h-4.8zM324.8 360.9h4.8v4.8h-4.8zM325.7 358.8h4.8v4.8h-4.8zM326.5 356.9h4.8v4.8h-4.8zM327.4 355.3h4.8v4.8h-4.8zM328.2 353.9h4.8v4.8h-4.8zM329.1 352.6h4.8v4.8h-4.8zM329.9 351.4h4.8v4.8h-4.8zM330.8 350.2h4.8v4.8h-4.8zM331.6 348.9h4.8v4.8h-4.8zM332.5 347.7h4.8v4.8h-4.8zM333.4 346.6h4.8v4.8h-4.8zM334.2 345.7h4.8v4.8h-4.8zM335.1 345.0h4.8v4.8h-4.8zM335.9 344.4h4.8v4.8h-4.8zM336.8 343.9h4.8v4.8h-4.8zM337.6 343.6h4.8v4.8h-4.8z" fill="#00a4ff"/>
<path d="M105.1 541.5h4.8v4.8h-4.8zM106.0 541.5h4.8v4.8h-4.8zM106.8 541.4h4.8v4.8h-4.8zM107.7 541.4h4.8v4.8h-4.8zM108.5 541.4h4.8v4.8h-4.8zM109.4 541.4h4.8v4.8h-4.8zM110.2 541.3h4.8v4.8h-4.8zM111.1 541.3h4.8v4.8h-4.8zM111.9 541.3h4.8v4.8h-4.8zM112.8 541.3h4.8v4.8h-4.8zM113.6 541.3h4.8v4.8h-4.8zM114.5 541.3h4.8v4.8h-4.8zM115.3 541.2h4.8v4.8h-4.8zM116.2 541.2h4.8v4.8h-4.8zM117.0 541.2h4.8v4.8h-4.8zM117.9 541.2h4.8v4.8h-4.8zM118.7 541.1h4.8v4.8h-4.8zM119.6 541.1h4.8v4.8h-4.8zM120.4 541.0h4.8v4.8h-4.8zM121.3 540.9h4.8v4.8h-4.8zM122.1 540.8h4.8v4.8h-4.8zM123.0 540.7h4.8v4.8h-4.8zM123.8 540.6h4.8v4.8h-4.8zM124.7 540.5h4.8v4.8h-4.8zM125.5 540.4h4.8v4.8h-4.8zM126.4 540.3h4.8v4.8h-4.8zM127.2 540.2h4.8v4.8h-4.8zM128.1 540.1h4.8v4.8h-4.8zM128.9 540.0h4.8v4.8h-4.8zM129.8 539.9h4.8v4.8h-4.8zM130.7 539.7h4.8v4.8h-4.8zM131.5 539.6h4.8v4.8h-4.8zM132.4 539.5h4.8v4.8h-4.8zM133.2 539.3h4.8v4.8h-4.8zM134.1 539.2h4.8v4.8h-4.8zM134.9 539.0h4.8v4.8h-4.8zM135.8 538.9h4.8v4.8h-4.8zM136.6 538.7h4.8v4.8h-4.8zM137.5 538.5h4.8v4.8h-4.8zM138.3 538.4h4.8v4.8h-4.8zM139.2 538.2h4.8v4.8h-4.8zM140.0 538.0h4.8v4.8h-4.8zM140.9 537.8h4.8v4.8h-4.8zM141.7 537.6h4.8v4.8h-4.8zM142.6 537.4h4.8v4.8h-4.8zM143.4 537.2h4.8v4.8h-4.8zM144.3 536.9h4.8v4.8h-4.8zM145.1 536.7h4.8v4.8h-4.8zM146.0 536.5h4.8v4.8h-4.8zM146.8 536.2h4.8v4.8h-4.8zM147.7 536.0h4.8v4.8h-4.8zM148.5 535.7h4.8v4.8h-4.8zM149.4 535.5h4.8v4.8h-4.8zM150.2 535.2h4.8v4.8h-4.8zM151.1 534.9h4.8v4.8h-4.8zM151.9 534.7h4.8v4.8h-4.8zM152.8 534.4h4.8v4.8h-4.8zM153.6 534.1h4.8v4.8h-4.8zM154.5 533.8h4.8v4.8h-4.8zM155.4 533.5h4.8v4.8h-4.8zM156.2 533.2h4.8v4.8h-4.8zM157.1 532.9h4.8v4.8h-4.8zM157.9 532.5h4.8v4.8h-4.8zM158.8 532.2h4.8v4.8h-4.8zM159.6 531.9h4.8v4.8h-4.8zM160.5 531.5h4.8v4.8h-4.8zM161.3 531.2h4.8v4.8h-4.8zM162.2 530.8h4.8v4.8h-4.8zM163.0 530.5h4.8v4.8h-4.8zM163.9 530.1h4.8v4.8h-4.8zM164.7 529.8h4.8v4.8h-4.8zM165.6 529.4h4.8v4.8h-4.8zM166.4 529.0h4.8v4.8h-4.8zM167.3 528.6h4.8v4.8h-4.8zM168.1 528.2h4.8v4.8h-4.8zM169.0 527.8h4.8v4.8h-4.8zM169.8 527.4h4.8v4.8h-4.8zM170.7 527.0h4.8v4.8h-4.8zM171.5 526.6h4.8v4.8h-4.8zM172.4 526.2h4.8v4.8h-4.8zM173.2 525.7h4.8v4.8h-4.8zM174.1 525.3h4.8v4.8h-4.8zM174.9 524.9h4.8v4.8h-4.8zM175.8 524.4h4.8v4.8h-4.8zM176.6 524.0h4.8v4.8h-4.8zM177.5 523.5h4.8v4.8h-4.8zM178.3 523.1h4.8v4.8h-4.8zM179.2 522.6h4.8v4.8h-4.8zM180.0 522.2h4.8v4.8h-4.8zM180.9 521.7h4.8v4.8h-4.8zM181.8 521.2h4.8v4.8h-4.8zM182.6 520.7h4.8v4.8h-4.8zM183.5 520.3h4.8v4.8h-4.8zM184.3 519.8h4.8v4.8h-4.8zM185.2 519.3h4.8v4.8h-4.8zM186.0 518.8h4.8v4.8h-4.8zM186.9 518.3h4.8v4.8h-4.8zM187.7 517.8h4.8v4.8h-4.8zM188.6 517.3h4.8v4.8h-4.8zM189.4 516.8h4.8v4.8h-4.8zM190.3 516.3h4.8v4.8h-4.8zM191.1 515.7h4.8v4.8h-4.8zM192.0 515.2h4.8v4.8h-4.8zM192.8 514.7h4.8v4.8h-4.8zM193.7 514.2h4.8v4.8h-4.8zM194.5 513.6h4.8v4.8h-4.8zM195.4 513.1h4.8v4.8h-4.8zM196.2 512.5h4.8v4.8h-4.8zM197.1 512.0h4.8v4.8h-4.8zM197.9 511.4h4.8v4.8h-4.8zM198.8 510.9h4.8v4.8h-4.8zM199.6 510.3h4.8v4.8h-4.8zM200.5 509.7h4.8v4.8h-4.8zM201.3 509.1h4.8v4.8h-4.8zM202.2 508.6h4.8v4.8h-4.8zM203.0 508.0h4.8v4.8h-4.8zM203.9 507.4h4.8v4.8h-4.8zM204.7 506.8h4.8v4.8h-4.8zM205.6 506.2h4.8v4.8h-4.8zM206.5 505.6h4.8v4.8h-4.8zM207.3 505.0h4.8v4.8h-4.8zM208.2 504.4h4.8v4.8h-4.8zM209.0 503.8h4.8v4.8h-4.8zM209.9 503.1h4.8v4.8h-4.8zM210.7 502.5h4.8v4.8h-4.8zM211.6 501.9h4.8v4.8h-4.8zM212.4 501.3h4.8v4.8h-4.8zM213.3 500.6h4.8v4.8h-4.8zM214.1 500.0h4.8v4.8h-4.8zM215.0 499.3h4.8v4.8h-4.8zM215.8 498.7h4.8v4.8h-4.8zM216.7 498.0h4.8v4.8h-4.8zM217.5 497.4h4.8v4.8h-4.8zM218.4 496.7h4.8v4.8h-4.8zM219.2 496.0h4.8v4.8h-4.8zM220.1 495.4h4.8v4.8h-4.8zM220.9 494.7h4.8v4.8h-4.8zM221.8 494.0h4.8v4.8h-4.8zM222.6 493.3h4.8v4.8h-4.8zM223.5 492.6h4.8v4.8h-4.8zM224.3 491.9h4.8v4.8h-4.8zM225.2 491.2h4.8v4.8h-4.8zM226.0 490.5h4.8v4.8h-4.8zM226.9 489.7h4.8v4.8h-4.8zM227.7 489.0h4.8v4.8h-4.8zM228.6 488.3h4.8v4.8h-4.8zM229.4 487.5h4.8v4.8h-4.8zM230.3 486.7h4.8v4.8h-4.8zM231.2 486.0h4.8v4.8h-4.8zM232.0 485.2h4.8v4.8h-4.8zM232.9 484.4h4.8v4.8h-4.8zM233.7 483.6h4.8v4.8h-4.8zM234.6 482.8h4.8v4.8h-4.8zM235.4 482.0h4.8v4.8h-4.8zM236.3 481.2h4.8v4.8h-4.8zM237.1 480.3h4.8v4.8h-4.8zM238.0 479.5h4.8v4.8h-4.8zM238.8 478.6h4.8v4.8h-4.8zM239.7 477.8h4.8v4.8h-4.8zM240.5 476.9h4.8v4.8h-4.8zM241.4 476.0h4.8v4.8h-4.8zM242.2 475.1h4.8v4.8h-4.8zM243.1 474.1h4.8v4.8h-4.8zM243.9 473.2h4.8v4.8h-4.8zM244.8 472.6h4.8v4.8h-4.8zM245.6 471.5h4.8v4.8h-4.8zM246.5 470.4h4.8v4.8h-4.8zM247.3 469.3h4.8v4.8h-4.8zM248.2 468.2h4.8v4.8h-4.8zM249.0 467.1h4.8v4.8h-4.8zM249.9 465.9h4.8v4.8h-4.8zM250.7 464.7h4.8v4.8h-4.8zM251.6 463.4h4.8v4.8h-4.8zM252.4 462.0h4.8v4.8h-4.8zM253.3 460.5h4.8v4.8h-4.8zM254.1 458.7h4.8v4.8h-4.8zM255.0 456.6h4.8v4.8h-4.8zM255.8 454.4h4.8v4.8h-4.8zM256.7 452.4h4.8v4.8h-4.8zM257.6 450.4h4.8v4.8h-4.8zM258.4 446.7h4.8v4.8h-4.8zM259.3 443.8h4.8v4.8h-4.8zM260.1 442.0h4.8v4.8h-4.8zM261.0 438.4h4.8v4.8h-4.8zM261.8 430.3h4.8v4.8h-4.8zM262.7 420.4h4.8v4.8h-4.8zM263.5 409.2h4.8v4.8h-4.8zM264.4 378.3h4.8v4.8h-4.8zM265.2 472.1h4.8v4.8h-4.8zM266.1 489.8h4.8v4.8h-4.8zM266.9 485.8h4.8v4.8h-4.8zM267.8 479.0h4.8v4.8h-4.8zM268.6 472.2h4.8v4.8h-4.8zM269.5 466.7h4.8v4.8h-4.8zM270.3 462.9h4.8v4.8h-4.8zM271.2 461.0h4.8v4.8h-4.8zM272.0 459.4h4.8v4.8h-4.8zM272.9 457.6h4.8v4.8h-4.8zM273.7 454.9h4.8v4.8h-4.8zM274.6 452.1h4.8v4.8h-4.8zM275.4 450.3h4.8v4.8h-4.8zM276.3 448.5h4.8v4.8h-4.8zM277.1 446.6h4.8v4.8h-4.8zM278.0 444.8h4.8v4.8h-4.8zM278.8 443.0h4.8v4.8h-4.8zM279.7 441.8h4.8v4.8h-4.8zM280.5 440.6h4.8v4.8h-4.8zM281.4 439.5h4.8v4.8h-4.8zM282.3 438.3h4.8v4.8h-4.8zM283.1 436.9h4.8v4.8h-4.8zM284.0 435.6h4.8v4.8h-4.8zM284.8 433.6h4.8v4.8h-4.8zM285.7 432.3h4.8v4.8h-4.8zM286.5 430.9h4.8v4.8h-4.8zM287.4 429.5h4.8v4.8h-4.8zM288.2 428.1h4.8v4.8h-4.8zM289.1 426.7h4.8v4.8h-4.8zM289.9 425.3h4.8v4.8h-4.8zM290.8 423.8h4.8v4.8h-4.8zM291.6 422.4h4.8v4.8h-4.8zM292.5 420.9h4.8v4.8h-4.8zM293.3 419.4h4.8v4.8h-4.8zM294.2 417.9h4.8v4.8h-4.8zM295.0 416.4h4.8v4.8h-4.8zM295.9 415.0h4.8v4.8h-4.8zM296.7 413.5h4.8v4.8h-4.8zM297.6 412.0h4.8v4.8h-4.8zM298.4 410.6h4.8v4.8h-4.8zM299.3 409.1h4.8v4.8h-4.8zM300.1 407.7h4.8v4.8h-4.8zM301.0 406.2h4.8v4.8h-4.8zM301.8 404.9h4.8v4.8h-4.8zM302.7 403.6h4.8v4.8h-4.8zM303.5 402.4h4.8v4.8h-4.8zM304.4 401.2h4.8v4.8h-4.8zM305.2 400.0h4.8v4.8h-4.8zM306.1 398.7h4.8v4.8h-4.8zM307.0 397.5h4.8v4.8h-4.8zM307.8 396.3h4.8v4.8h-4.8zM308.7 395.0h4.8v4.8h-4.8zM309.5 393.7h4.8v4.8h-4.8zM310.4 392.4h4.8v4.8h-4.8zM311.2 391.1h4.8v4.8h-4.8zM312.1 389.7h4.8v4.8h-4.8zM312.9 388.3h4.8v4.8h-4.8zM313.8 386.7h4.8v4.8h-4.8zM314.6 384.9h4.8v4.8h-4.8zM315.5 382.8h4.8v4.8h-4.8zM316.3 380.7h4.8v4.8h-4.8zM317.2 378.6h4.8v4.8h-4.8zM318.0 376.8h4.8v4.8h-4.8zM318.9 375.2h4.8v4.8h-4.8zM319.7 373.6h4.8v4.8h-4.8zM320.6 371.9h4.8v4.8h-4.8zM321.4 370.1h4.8v4.8h-4.8zM322.3 367.9h4.8v4.8h-4.8zM323.1 365.5h4.8v4.8h-4.8zM324.0 363.1h4.8v4.8h-4.8zM324.8 360.9h4.8v4.8h-4.8zM325.7 358.9h4.8v4.8h-4.8zM326.5 357.0h4.8v4.8h-4.8zM327.4 355.4h4.8v4.8h-4.8zM328.2 354.0h4.8v4.8h-4.8zM329.1 352.7h4.8v4.8h-4.8zM329.9 351.4h4.8v4.8h-4.8zM330.8 350.2h4.8v4.8h-4.8zM331.6 349.0h4.8v4.8h-4.8zM332.5 347.8h4.8v4.8h-4.8zM333.4 346.6h4.8v4.8h-4.8zM334.2 345.7h4.8v4.8h-4.8zM335.1 345.0h4.8v4.8h-4.8zM335.9 344.4h4.8v4.8h-4.8zM336.8 344.0h4.8v4.8h-4.8zM337.6 343.6h4.8v4.8h-4.8z" fill="#22ffd4"/>
<path d="M105.1 541.5h4.8v4.8h-4.8zM106.0 541.5h4.8v4.8h-4.8zM106.8 541.4h4.8v4.8h-4.8zM107.7 541.4h4.8v4.8h-4.8zM108.5 541.4h4.8v4.8h-4.8zM109.4 541.4h4.8v4.8h-4.8zM110.2 541.3h4.8v4.8h-4.8zM111.1 541.3h4.8v4.8h-4.8zM111.9 541.3h4.8v4.8h-4.8zM112.8 541.3h4.8v4.8h-4.8zM113.6 541.3h4.8v4.8h-4.8zM114.5 541.3h4.8v4.8h-4.8zM115.3 541.2h4.8v4.8h-4.8zM116.2 541.2h4.8v4.8h-4.8zM117.0 541.2h4.8v4.8h-4.8zM117.9 541.2h4.8v4.8h-4.8zM118.7 541.1h4.8v4.8h-4.8zM119.6 541.1h4.8v4.8h-4.8zM120.4 541.0h4.8v4.8h-4.8zM121.3 540.9h4.8v4.8h-4.8zM122.1 540.8h4.8v4.8h-4.8zM123.0 540.7h4.8v4.8h-4.8zM123.8 540.6h4.8v4.8h-4.8zM124.7 540.5h4.8v4.8h-4.8zM125.5 540.4h4.8v4.8h-4.8zM126.4 540.3h4.8v4.8h-4.8zM127.2 540.2h4.8v4.8h-4.8zM128.1 540.1h4.8v4.8h-4.8zM128.9 540.0h4.8v4.8h-4.8zM129.8 539.9h4.8v4.8h-4.8zM130.7 539.7h4.8v4.8h-4.8zM131.5 539.6h4.8v4.8h-4.8zM132.4 539.5h4.8v4.8h-4.8zM133.2 539.3h4.8v4.8h-4.8zM134.1 539.2h4.8v4.8h-4.8zM134.9 539.0h4.8v4.8h-4.8zM135.8 538.9h4.8v4.8h-4.8zM136.6 538.7h4.8v4.8h-4.8zM137.5 538.5h4.8v4.8h-4.8zM138.3 538.4h4.8v4.8h-4.8zM139.2 538.2h4.8v4.8h-4.8zM140.0 538.0h4.8v4.8h-4.8zM140.9 537.8h4.8v4.8h-4.8zM141.7 537.6h4.8v4.8h-4.8zM142.6 537.4h4.8v4.8h-4.8zM143.4 537.2h4.8v4.8h-4.8zM144.3 536.9h4.8v4.8h-4.8zM145.1 536.7h4.8v4.8h-4.8zM146.0 536.5h4.8v4.8h-4.8zM146.8 536.2h4.8v4.8h-4.8zM147.7 536.0h4.8v4.8h-4.8zM148.5 535.7h4.8v4.8h-4.8zM149.4 535.5h4.8v4.8h-4.8zM150.2 535.2h4.8v4.8h-4.8zM151.1 534.9h4.8v4.8h-4.8zM151.9 534.7h4.8v4.8h-4.8zM152.8 534.4h4.8v4.8h-4.8zM153.6 534.1h4.8v4.8h-4.8zM154.5 533.8h4.8v4.8h-4.8zM155.4 533.5h4.8v4.8h-4.8zM156.2 533.2h4.8v4.8h-4.8zM157.1 532.9h4.8v4.8h-4.8zM157.9 532.5h4.8v4.8h-4.8zM158.8 532.2h4.8v4.8h-4.8zM159.6 531.9h4.8v4.8h-4.8zM160.5 531.5h4.8v4.8h-4.8zM161.3 531.2h4.8v4.8h-4.8zM162.2 530.8h4.8v4.8h-4.8zM163.0 530.5h4.8v4.8h-4.8zM163.9 530.1h4.8v4.8h-4.8zM164.7 529.8h4.8v4.8h-4.8zM165.6 529.4h4.8v4.8h-4.8zM166.4 529.0h4.8v4.8h-4.8zM167.3 528.6h4.8v4.8h-4.8zM168.1 528.2h4.8v4.8h-4.8zM169.0 527.8h4.8v4.8h-4.8zM169.8 527.4h4.8v4.8h-4.8zM170.7 527.0h4.8v4.8h-4.8zM171.5 526.6h4.8v4.8h-4.8zM172.4 526.2h4.8v4.8h-4.8zM173.2 525.7h4.8v4.8h-4.8zM174.1 525.3h4.8v4.8h-4.8zM174.9 524.9h4.8v4.8h-4.8zM175.8 524.4h4.8v4.8h-4.8zM176.6 524.0h4.8v4.8h-4.8zM177.5 523.5h4.8v4.8h-4.8zM178.3 523.1h4.8v4.8h-4.8zM179.2 522.6h4.8v4.8h-4.8zM180.0 522.2h4.8v4.8h-4.8zM180.9 521.7h4.8v4.8h-4.8zM181.8 521.2h4.8v4.8h-4.8zM182.6 520.7h4.8v4.8h-4.8zM183.5 520.3h4.8v4.8h-4.8zM184.3 519.8h4.8v4.8h-4.8zM185.2 519.3h4.8v4.8h-4.8zM186.0 518.8h4.8v4.8h-4.8zM186.9 518.3h4.8v4.8h-4.8zM187.7 517.8h4.8v4.8h-4.8zM188.6 517.3h4.8v4.8h-4.8zM189.4 516.8h4.8v4.8h-4.8zM190.3 516.3h4.8v4.8h-4.8zM191.1 515.7h4.8v4.8h-4.8zM192.0 515.2h4.8v4.8h-4.8zM192.8 514.7h4.8v4.8h-4.8zM193.7 514.2h4.8v4.8h-4.8zM194.5 513.6h4.8v4.8h-4.8zM195.4 513.1h4.8v4.8h-4.8zM196.2 512.5h4.8v4.8h-4.8zM197.1 512.0h4.8v4.8h-4.8zM197.9 511.4h4.8v4.8h-4.8zM198.8 510.9h4.8v4.8h-4.8zM199.6 510.3h4.8v4.8h-4.8zM200.5 509.7h4.8v4.8h-4.8zM201.3 509.1h4.8v4.8h-4.8zM202.2 508.6h4.8v4.8h-4.8zM203.0 508.0h4.8v4.8h-4.8zM203.9 507.4h4.8v4.8h-4.8zM204.7 506.8h4.8v4.8h-4.8zM205.6 506.2h4.8v4.8h-4.8zM206.5 505.6h4.8v4.8h-4.8zM207.3 505.0h4.8v4.8h-4.8zM208.2 504.4h4.8v4.8h-4.8zM209.0 503.8h4.8v4.8h-4.8zM209.9 503.1h4.8v4.8h-4.8zM210.7 502.5h4.8v4.8h-4.8zM211.6 501.9h4.8v4.8h-4.8zM212.4 501.3h4.8v4.8h-4.8zM213.3 500.6h4.8v4.8h-4.8zM214.1 500.0h4.8v4.8h-4.8zM215.0 499.3h4.8v4.8h-4.8zM215.8 498.7h4.8v4.8h-4.8zM216.7 498.0h4.8v4.8h-4.8zM217.5 497.4h4.8v4.8h-4.8zM218.4 496.7h4.8v4.8h-4.8zM219.2 496.0h4.8v4.8h-4.8zM220.1 495.4h4.8v4.8h-4.8zM220.9 494.7h4.8v4.8h-4.8zM221.8 494.0h4.8v4.8h-4.8zM222.6 493.3h4.8v4.8h-4.8zM223.5 492.6h4.8v4.8h-4.8zM224.3 491.9h4.8v4.8h-4.8zM225.2 491.2h4.8v4.8h-4.8zM226.0 490.5h4.8v4.8h-4.8zM226.9 489.7h4.8v4.8h-4.8zM227.7 489.0h4.8v4.8h-4.8zM228.6 488.3h4.8v4.8h-4.8zM229.4 487.5h4.8v4.8h-4.8zM230.3 486.7h4.8v4.8h-4.8zM231.2 486.0h4.8v4.8h-4.8zM232.0 485.2h4.8v4.8h-4.8zM232.9 484.4h4.8v4.8h-4.8zM233.7 483.6h4.8v4.8h-4.8zM234.6 482.8h4.8v4.8h-4.8zM235.4 482.0h4.8v4.8h-4.8zM236.3 481.1h4.8v4.8h-4.8zM237.1 480.3h4.8v4.8h-4.8zM238.0 479.4h4.8v4.8h-4.8zM238.8 478.6h4.8v4.8h-4.8zM239.7 477.7h4.8v4.8h-4.8zM240.5 476.8h4.8v4.8h-4.8zM241.4 475.9h4.8v4.8h-4.8zM242.2 475.0h4.8v4.8h-4.8zM243.1 474.1h4.8v4.8h-4.8zM243.9 473.1h4.8v4.8h-4.8zM244.8 472.5h4.8v4.8h-4.8zM245.6 471.4h4.8v4.8h-4.8zM246.5 470.3h4.8v4.8h-4.8zM247.3 469.2h4.8v4.8h-4.8zM248.2 468.1h4.8v4.8h-4.8zM249.0 467.0h4.8v4.8h-4.8zM249.9 465.8h4.8v4.8h-4.8zM250.7 464.6h4.8v4.8h-4.8zM251.6 463.3h4.8v4.8h-4.8zM252.4 461.9h4.8v4.8h-4.8zM253.3 460.4h4.8v4.8h-4.8zM254.1 458.5h4.8v4.8h-4.8zM255.0 456.5h4.8v4.8h-4.8zM255.8 454.2h4.8v4.8h-4.8zM256.7 452.2h4.8v4.8h-4.8zM257.6 450.2h4.8v4.8h-4.8zM258.4 447.1h4.8v4.8h-4.8zM259.3 443.8h4.8v4.8h-4.8zM260.1 437.5h4.8v4.8h-4.8zM261.0 433.8h4.8v4.8h-4.8zM261.8 428.1h4.8v4.8h-4.8zM262.7 423.7h4.8v4.8h-4.8zM263.5 418.6h4.8v4.8h-4.8zM264.4 493.8h4.8v4.8h-4.8zM265.2 481.9h4.8v4.8h-4.8zM266.1 476.8h4.8v4.8h-4.8zM266.9 471.8h4.8v4.8h-4.8zM267.8 467.1h4.8v4.8h-4.8zM268.6 462.9h4.8v4.8h-4.8zM269.5 460.1h4.8v4.8h-4.8zM270.3 458.7h4.8v4.8h-4.8zM271.2 457.1h4.8v4.8h-4.8zM272.0 455.6h4.8v4.8h-4.8zM272.9 454.0h4.8v4.8h-4.8zM273.7 452.4h4.8v4.8h-4.8zM274.6 450.9h4.8v4.8h-4.8zM275.4 449.1h4.8v4.8h-4.8zM276.3 447.2h4.8v4.8h-4.8zM277.1 445.4h4.8v4.8h-4.8zM278.0 443.6h4.8v4.8h-4.8zM278.8 441.7h4.8v4.8h-4.8zM279.7 440.5h4.8v4.8h-4.8zM280.5 439.3h4.8v4.8h-4.8zM281.4 438.2h4.8v4.8h-4.8zM282.3 437.0h4.8v4.8h-4.8zM283.1 435.5h4.8v4.8h-4.8zM284.0 434.2h4.8v4.8h-4.8zM284.8 432.2h4.8v4.8h-4.8zM285.7 430.9h4.8v4.8h-4.8zM286.5 429.6h4.8v4.8h-4.8zM287.4 428.2h4.8v4.8h-4.8zM288.2 426.8h4.8v4.8h-4.8zM289.1 425.5h4.8v4.8h-4.8zM289.9 424.1h4.8v4.8h-4.8zM290.8 422.7h4.8v4.8h-4.8zM291.6 421.3h4.8v4.8h-4.8zM292.5 419.8h4.8v4.8h-4.8zM293.3 418.4h4.8v4.8h-4.8zM294.2 416.9h4.8v4.8h-4.8zM295.0 415.5h4.8v4.8h-4.8zM295.9 414.1h4.8v4.8h-4.8zM296.7 412.6h4.8v4.8h-4.8zM297.6 411.2h4.8v4.8h-4.8zM298.4 409.8h4.8v4.8h-4.8zM299.3 408.4h4.8v4.8h-4.8zM300.1 407.0h4.8v4.8h-4.8zM301.0 405.6h4.8v4.8h-4.8zM301.8 404.2h4.8v4.8h-4.8zM302.7 403.0h4.8v4.8h-4.8zM303.5 401.8h4.8v4.8h-4.8zM304.4 400.5h4.8v4.8h-4.8zM305.2 399.3h4.8v4.8h-4.8zM306.1 398.1h4.8v4.8h-4.8zM307.0 396.9h4.8v4.8h-4.8zM307.8 395.7h4.8v4.8h-4.8zM308.7 394.4h4.8v4.8h-4.8zM309.5 393.1h4.8v4.8h-4.8zM310.4 391.8h4.8v4.8h-4.8zM311.2 390.5h4.8v4.8h-4.8zM312.1 389.1h4.8v4.8h-4.8zM312.9 387.7h4.8v4.8h-4.8zM313.8 386.1h4.8v4.8h-4.8zM314.6 384.3h4.8v4.8h-4.8zM315.5 382.3h4.8v4.8h-4.8zM316.3 380.1h4.8v4.8h-4.8zM317.2 378.1h4.8v4.8h-4.8zM318.0 376.3h4.8v4.8h-4.8zM318.9 374.6h4.8v4.8h-4.8zM319.7 373.1h4.8v4.8h-4.8zM320.6 371.4h4.8v4.8h-4.8zM321.4 369.6h4.8v4.8h-4.8zM322.3 367.4h4.8v4.8h-4.8zM323.1 365.0h4.8v4.8h-4.8zM324.0 362.6h4.8v4.8h-4.8zM324.8 360.4h4.8v4.8h-4.8zM325.7 358.4h4.8v4.8h-4.8zM326.5 356.5h4.8v4.8h-4.8zM327.4 354.9h4.8v4.8h-4.8zM328.2 353.5h4.8v4.8h-4.8zM329.1 352.2h4.8v4.8h-4.8zM329.9 351.0h4.8v4.8h-4.8zM330.8 349.8h4.8v4.8h-4.8zM331.6 348.5h4.8v4.8h-4.8zM332.5 347.3h4.8v4.8h-4.8zM333.4 346.2h4.8v4.8h-4.8zM334.2 345.3h4.8v4.8h-4.8zM335.1 344.6h4.8v4.8h-4.8zM335.9 344.0h4.8v4.8h-4.8zM336.8 343.5h4.8v4.8h-4.8zM337.6 343.2h4.8v4.8h-4.8z" fill="#aaff44"/>
<path d="M105.1 540.4h4.8v4.8h-4.8zM106.0 540.4h4.8v4.8h-4.8zM106.8 540.4h4.8v4.8h-4.8zM107.7 540.4h4.8v4.8h-4.8zM108.5 540.4h4.8v4.8h-4.8zM109.4 540.5h4.8v4.8h-4.8zM110.2 540.5h4.8v4.8h-4.8zM111.1 540.5h4.8v4.8h-4.8zM111.9 540.5h4.8v4.8h-4.8zM112.8 540.5h4.8v4.8h-4.8zM113.6 540.5h4.8v4.8h-4.8zM114.5 540.6h4.8v4.8h-4.8zM115.3 540.6h4.8v4.8h-4.8zM116.2 540.6h4.8v4.8h-4.8zM117.0 540.6h4.8v4.8h-4.8zM117.9 540.6h4.8v4.8h-4.8zM118.7 540.6h4.8v4.8h-4.8zM119.6 540.5h4.8v4.8h-4.8zM120.4 540.4h4.8v4.8h-4.8zM121.3 540.3h4.8v4.8h-4.8zM122.1 540.3h4.8v4.8h-4.8zM123.0 540.2h4.8v4.8h-4.8zM123.8 540.1h4.8v4.8h-4.8zM124.7 540.0h4.8v4.8h-4.8zM125.5 539.9h4.8v4.8h-4.8zM126.4 539.8h4.8v4.8h-4.8zM127.2 539.7h4.8v4.8h-4.8zM128.1 539.6h4.8v4.8h-4.8zM128.9 539.4h4.8v4.8h-4.8zM129.8 539.3h4.8v4.8h-4.8zM130.7 539.2h4.8v4.8h-4.8zM131.5 539.1h4.8v4.8h-4.8zM132.4 538.9h4.8v4.8h-4.8zM133.2 538.8h4.8v4.8h-4.8zM134.1 538.6h4.8v4.8h-4.8zM134.9 538.5h4.8v4.8h-4.8zM135.8 538.3h4.8v4.8h-4.8zM136.6 538.2h4.8v4.8h-4.8zM137.5 538.0h4.8v4.8h-4.8zM138.3 537.8h4.8v4.8h-4.8zM139.2 537.6h4.8v4.8h-4.8zM140.0 537.4h4.8v4.8h-4.8zM140.9 537.2h4.8v4.8h-4.8zM141.7 537.0h4.8v4.8h-4.8zM142.6 536.8h4.8v4.8h-4.8zM143.4 536.6h4.8v4.8h-4.8zM144.3 536.4h4.8v4.8h-4.8zM145.1 536.2h4.8v4.8h-4.8zM146.0 535.9h4.8v4.8h-4.8zM146.8 535.7h4.8v4.8h-4.8zM147.7 535.5h4.8v4.8h-4.8zM148.5 535.2h4.8v4.8h-4.8zM149.4 534.9h4.8v4.8h-4.8zM150.2 534.7h4.8v4.8h-4.8zM151.1 534.4h4.8v4.8h-4.8zM151.9 534.1h4.8v4.8h-4.8zM152.8 533.8h4.8v4.8h-4.8zM153.6 533.6h4.8v4.8h-4.8zM154.5 533.3h4.8v4.8h-4.8zM155.4 533.0h4.8v4.8h-4.8zM156.2 532.6h4.8v4.8h-4.8zM157.1 532.3h4.8v4.8h-4.8zM157.9 532.0h4.8v4.8h-4.8zM158.8 531.7h4.8v4.8h-4.8zM159.6 531.3h4.8v4.8h-4.8zM160.5 531.0h4.8v4.8h-4.8zM161.3 530.7h4.8v4.8h-4.8zM162.2 530.3h4.8v4.8h-4.8zM163.0 529.9h4.8v4.8h-4.8zM163.9 529.6h4.8v4.8h-4.8zM164.7 529.2h4.8v4.8h-4.8zM165.6 528.8h4.8v4.8h-4.8zM166.4 528.5h4.8v4.8h-4.8zM167.3 528.1h4.8v4.8h-4.8zM168.1 527.7h4.8v4.8h-4.8zM169.0 527.3h4.8v4.8h-4.8zM169.8 526.9h4.8v4.8h-4.8zM170.7 526.5h4.8v4.8h-4.8zM171.5 526.0h4.8v4.8h-4.8zM172.4 525.6h4.8v4.8h-4.8zM173.2 525.2h4.8v4.8h-4.8zM174.1 524.8h4.8v4.8h-4.8zM174.9 524.3h4.8v4.8h-4.8zM175.8 523.9h4.8v4.8h-4.8zM176.6 523.4h4.8v4.8h-4.8zM177.5 523.0h4.8v4.8h-4.8zM178.3 522.5h4.8v4.8h-4.8zM179.2 522.1h4.8v4.8h-4.8zM180.0 521.6h4.8v4.8h-4.8zM180.9 521.2h4.8v4.8h-4.8zM181.8 520.7h4.8v4.8h-4.8zM182.6 520.2h4.8v4.8h-4.8zM183.5 519.7h4.8v4.8h-4.8zM184.3 519.2h4.8v4.8h-4.8zM185.2 518.7h4.8v4.8h-4.8zM186.0 518.2h4.8v4.8h-4.8zM186.9 517.7h4.8v4.8h-4.8zM187.7 517.2h4.8v4.8h-4.8zM188.6 516.7h4.8v4.8h-4.8zM189.4 516.2h4.8v4.8h-4.8zM190.3 515.7h4.8v4.8h-4.8zM191.1 515.2h4.8v4.8h-4.8zM192.0 514.7h4.8v4.8h-4.8zM192.8 514.1h4.8v4.8h-4.8zM193.7 513.6h4.8v4.8h-4.8zM194.5 513.1h4.8v4.8h-4.8zM195.4 512.5h4.8v4.8h-4.8zM196.2 512.0h4.8v4.8h-4.8zM197.1 511.4h4.8v4.8h-4.8zM197.9 510.9h4.8v4.8h-4.8zM198.8 510.3h4.8v4.8h-4.8zM199.6 509.8h4.8v4.8h-4.8zM200.5 509.2h4.8v4.8h-4.8zM201.3 508.6h4.8v4.8h-4.8zM202.2 508.0h4.8v4.8h-4.8zM203.0 507.4h4.8v4.8h-4.8zM203.9 506.8h4.8v4.8h-4.8zM204.7 506.2h4.8v4.8h-4.8zM205.6 505.6h4.8v4.8h-4.8zM206.5 505.0h4.8v4.8h-4.8zM207.3 504.4h4.8v4.8h-4.8zM208.2 503.8h4.8v4.8h-4.8zM209.0 503.2h4.8v4.8h-4.8zM209.9 502.6h4.8v4.8h-4.8zM210.7 502.0h4.8v4.8h-4.8zM211.6 501.3h4.8v4.8h-4.8zM212.4 500.7h4.8v4.8h-4.8zM213.3 500.1h4.8v4.8h-4.8zM214.1 499.4h4.8v4.8h-4.8zM215.0 498.8h4.8v4.8h-4.8zM215.8 498.1h4.8v4.8h-4.8zM216.7 497.5h4.8v4.8h-4.8zM217.5 496.8h4.8v4.8h-4.8zM218.4 496.2h4.8v4.8h-4.8zM219.2 495.5h4.8v4.8h-4.8zM220.1 494.8h4.8v4.8h-4.8zM220.9 494.1h4.8v4.8h-4.8zM221.8 493.4h4.8v4.8h-4.8zM222.6 492.8h4.8v4.8h-4.8zM223.5 492.1h4.8v4.8h-4.8zM224.3 491.3h4.8v4.8h-4.8zM225.2 490.6h4.8v4.8h-4.8zM226.0 489.9h4.8v4.8h-4.8zM226.9 489.2h4.8v4.8h-4.8zM227.7 488.4h4.8v4.8h-4.8zM228.6 487.7h4.8v4.8h-4.8zM229.4 487.0h4.8v4.8h-4.8zM230.3 486.2h4.8v4.8h-4.8zM231.2 485.5h4.8v4.8h-4.8zM232.0 484.7h4.8v4.8h-4.8zM232.9 484.0h4.8v4.8h-4.8zM233.7 483.2h4.8v4.8h-4.8zM234.6 482.4h4.8v4.8h-4.8zM235.4 481.7h4.8v4.8h-4.8zM236.3 480.9h4.8v4.8h-4.8zM237.1 480.1h4.8v4.8h-4.8zM238.0 479.3h4.8v4.8h-4.8zM238.8 478.4h4.8v4.8h-4.8zM239.7 477.6h4.8v4.8h-4.8zM240.5 476.7h4.8v4.8h-4.8zM241.4 475.9h4.8v4.8h-4.8zM242.2 475.0h4.8v4.8h-4.8zM243.1 474.1h4.8v4.8h-4.8zM243.9 473.2h4.8v4.8h-4.8zM244.8 472.7h4.8v4.8h-4.8zM245.6 471.5h4.8v4.8h-4.8zM246.5 470.4h4.8v4.8h-4.8zM247.3 469.4h4.8v4.8h-4.8zM248.2 468.3h4.8v4.8h-4.8zM249.0 467.1h4.8v4.8h-4.8zM249.9 466.0h4.8v4.8h-4.8zM250.7 464.8h4.8v4.8h-4.8zM251.6 463.5h4.8v4.8h-4.8zM252.4 462.0h4.8v4.8h-4.8zM253.3 460.6h4.8v4.8h-4.8zM254.1 458.7h4.8v4.8h-4.8zM255.0 456.7h4.8v4.8h-4.8zM255.8 454.5h4.8v4.8h-4.8zM256.7 452.5h4.8v4.8h-4.8zM257.6 450.5h4.8v4.8h-4.8zM258.4 446.3h4.8v4.8h-4.8zM259.3 443.0h4.8v4.8h-4.8zM260.1 439.8h4.8v4.8h-4.8zM261.0 437.5h4.8v4.8h-4.8zM261.8 437.7h4.8v4.8h-4.8zM262.7 450.0h4.8v4.8h-4.8zM263.5 465.2h4.8v4.8h-4.8zM264.4 469.0h4.8v4.8h-4.8zM265.2 467.9h4.8v4.8h-4.8zM266.1 466.0h4.8v4.8h-4.8zM266.9 464.2h4.8v4.8h-4.8zM267.8 462.1h4.8v4.8h-4.8zM268.6 460.0h4.8v4.8h-4.8zM269.5 458.4h4.8v4.8h-4.8zM270.3 457.1h4.8v4.8h-4.8zM271.2 455.5h4.8v4.8h-4.8zM272.0 453.9h4.8v4.8h-4.8zM272.9 452.3h4.8v4.8h-4.8zM273.7 450.7h4.8v4.8h-4.8zM274.6 449.1h4.8v4.8h-4.8zM275.4 447.4h4.8v4.8h-4.8zM276.3 445.8h4.8v4.8h-4.8zM277.1 444.2h4.8v4.8h-4.8zM278.0 442.5h4.8v4.8h-4.8zM278.8 440.9h4.8v4.8h-4.8zM279.7 439.7h4.8v4.8h-4.8zM280.5 438.5h4.8v4.8h-4.8zM281.4 437.3h4.8v4.8h-4.8zM282.3 436.1h4.8v4.8h-4.8zM283.1 434.7h4.8v4.8h-4.8zM284.0 433.4h4.8v4.8h-4.8zM284.8 431.4h4.8v4.8h-4.8zM285.7 430.1h4.8v4.8h-4.8zM286.5 428.8h4.8v4.8h-4.8zM287.4 427.4h4.8v4.8h-4.8zM288.2 426.1h4.8v4.8h-4.8zM289.1 424.8h4.8v4.8h-4.8zM289.9 423.4h4.8v4.8h-4.8zM290.8 422.0h4.8v4.8h-4.8zM291.6 420.6h4.8v4.8h-4.8zM292.5 419.2h4.8v4.8h-4.8zM293.3 417.8h4.8v4.8h-4.8zM294.2 416.3h4.8v4.8h-4.8zM295.0 414.9h4.8v4.8h-4.8zM295.9 413.5h4.8v4.8h-4.8zM296.7 412.1h4.8v4.8h-4.8zM297.6 410.7h4.8v4.8h-4.8zM298.4 409.3h4.8v4.8h-4.8zM299.3 407.9h4.8v4.8h-4.8zM300.1 406.6h4.8v4.8h-4.8zM301.0 405.2h4.8v4.8h-4.8zM301.8 403.9h4.8v4.8h-4.8zM302.7 402.6h4.8v4.8h-4.8zM303.5 401.4h4.8v4.8h-4.8zM304.4 400.2h4.8v4.8h-4.8zM305.2 399.0h4.8v4.8h-4.8zM306.1 397.8h4.8v4.8h-4.8zM307.0 396.6h4.8v4.8h-4.8zM307.8 395.3h4.8v4.8h-4.8zM308.7 394.1h4.8v4.8h-4.8zM309.5 392.8h4.8v4.8h-4.8zM310.4 391.5h4.8v4.8h-4.8zM311.2 390.2h4.8v4.8h-4.8zM312.1 388.8h4.8v4.8h-4.8zM312.9 387.4h4.8v4.8h-4.8zM313.8 385.8h4.8v4.8h-4.8zM314.6 384.0h4.8v4.8h-4.8zM315.5 381.9h4.8v4.8h-4.8zM316.3 379.8h4.8v4.8h-4.8zM317.2 377.8h4.8v4.8h-4.8zM318.0 376.0h4.8v4.8h-4.8zM318.9 374.3h4.8v4.8h-4.8zM319.7 372.7h4.8v4.8h-4.8zM320.6 371.1h4.8v4.8h-4.8zM321.4 369.3h4.8v4.8h-4.8zM322.3 367.1h4.8v4.8h-4.8zM323.1 364.7h4.8v4.8h-4.8zM324.0 362.3h4.8v4.8h-4.8zM324.8 360.1h4.8v4.8h-4.8zM325.7 358.1h4.8v4.8h-4.8zM326.5 356.2h4.8v4.8h-4.8zM327.4 354.6h4.8v4.8h-4.8zM328.2 353.2h4.8v4.8h-4.8zM329.1 351.9h4.8v4.8h-4.8zM329.9 350.7h4.8v4.8h-4.8zM330.8 349.5h4.8v4.8h-4.8zM331.6 348.3h4.8v4.8h-4.8zM332.5 347.0h4.8v4.8h-4.8zM333.4 345.9h4.8v4.8h-4.8zM334.2 345.0h4.8v4.8h-4.8zM335.1 344.3h4.8v4.8h-4.8zM335.9 343.8h4.8v4.8h-4.8zM336.8 343.3h4.8v4.8h-4.8zM337.6 343.0h4.8v4.8h-4.8z" fill="#ffd500"/>
<path d="M105.1 544.2h4.8v4.8h-4.8zM106.0 544.1h4.8v4.8h-4.8zM106.8 544.0h4.8v4.8h-4.8zM107.7 544.0h4.8v4.8h-4.8zM108.5 543.9h4.8v4.8h-4.8zM109.4 543.8h4.8v4.8h-4.8zM110.2 543.8h4.8v4.8h-4.8zM111.1 543.7h4.8v4.8h-4.8zM111.9 543.6h4.8v4.8h-4.8zM112.8 543.6h4.8v4.8h-4.8zM113.6 543.5h4.8v4.8h-4.8zM114.5 543.4h4.8v4.8h-4.8zM115.3 543.4h4.8v4.8h-4.8zM116.2 543.3h4.8v4.8h-4.8zM117.0 543.2h4.8v4.8h-4.8zM117.9 543.1h4.8v4.8h-4.8zM118.7 543.1h4.8v4.8h-4.8zM119.6 543.0h4.8v4.8h-4.8zM120.4 542.9h4.8v4.8h-4.8zM121.3 542.8h4.8v4.8h-4.8zM122.1 542.8h4.8v4.8h-4.8zM123.0 542.7h4.8v4.8h-4.8zM123.8 542.6h4.8v4.8h-4.8zM124.7 542.5h4.8v4.8h-4.8zM125.5 542.4h4.8v4.8h-4.8zM126.4 542.3h4.8v4.8h-4.8zM127.2 542.2h4.8v4.8h-4.8zM128.1 542.1h4.8v4.8h-4.8zM128.9 541.9h4.8v4.8h-4.8zM129.8 541.8h4.8v4.8h-4.8zM130.7 541.7h4.8v4.8h-4.8zM131.5 541.6h4.8v4.8h-4.8zM132.4 541.4h4.8v4.8h-4.8zM133.2 541.3h4.8v4.8h-4.8zM134.1 541.1h4.8v4.8h-4.8zM134.9 541.0h4.8v4.8h-4.8zM135.8 540.8h4.8v4.8h-4.8zM136.6 540.7h4.8v4.8h-4.8zM137.5 540.5h4.8v4.8h-4.8zM138.3 540.3h4.8v4.8h-4.8zM139.2 540.2h4.8v4.8h-4.8zM140.0 540.0h4.8v4.8h-4.8zM140.9 539.8h4.8v4.8h-4.8zM141.7 539.6h4.8v4.8h-4.8zM142.6 539.4h4.8v4.8h-4.8zM143.4 539.2h4.8v4.8h-4.8zM144.3 538.9h4.8v4.8h-4.8zM145.1 538.7h4.8v4.8h-4.8zM146.0 538.5h4.8v4.8h-4.8zM146.8 538.2h4.8v4.8h-4.8zM147.7 538.0h4.8v4.8h-4.8zM148.5 537.7h4.8v4.8h-4.8zM149.4 537.5h4.8v4.8h-4.8zM150.2 537.2h4.8v4.8h-4.8zM151.1 537.0h4.8v4.8h-4.8zM151.9 536.7h4.8v4.8h-4.8zM152.8 536.4h4.8v4.8h-4.8zM153.6 536.1h4.8v4.8h-4.8zM154.5 535.8h4.8v4.8h-4.8zM155.4 535.5h4.8v4.8h-4.8zM156.2 535.2h4.8v4.8h-4.8zM157.1 534.9h4.8v4.8h-4.8zM157.9 534.6h4.8v4.8h-4.8zM158.8 534.2h4.8v4.8h-4.8zM159.6 533.9h4.8v4.8h-4.8zM160.5 533.6h4.8v4.8h-4.8zM161.3 533.2h4.8v4.8h-4.8zM162.2 532.9h4.8v4.8h-4.8zM163.0 532.5h4.8v4.8h-4.8zM163.9 532.2h4.8v4.8h-4.8zM164.7 531.8h4.8v4.8h-4.8zM165.6 531.4h4.8v4.8h-4.8zM166.4 531.0h4.8v4.8h-4.8zM167.3 530.7h4.8v4.8h-4.8zM168.1 530.3h4.8v4.8h-4.8zM169.0 529.9h4.8v4.8h-4.8zM169.8 529.5h4.8v4.8h-4.8zM170.7 529.1h4.8v4.8h-4.8zM171.5 528.6h4.8v4.8h-4.8zM172.4 528.2h4.8v4.8h-4.8zM173.2 527.8h4.8v4.8h-4.8zM174.1 527.4h4.8v4.8h-4.8zM174.9 526.9h4.8v4.8h-4.8zM175.8 526.5h4.8v4.8h-4.8zM176.6 526.1h4.8v4.8h-4.8zM177.5 525.6h4.8v4.8h-4.8zM178.3 525.2h4.8v4.8h-4.8zM179.2 524.7h4.8v4.8h-4.8zM180.0 524.2h4.8v4.8h-4.8zM180.9 523.8h4.8v4.8h-4.8zM181.8 523.3h4.8v4.8h-4.8zM182.6 522.8h4.8v4.8h-4.8zM183.5 522.3h4.8v4.8h-4.8zM184.3 521.9h4.8v4.8h-4.8zM185.2 521.4h4.8v4.8h-4.8zM186.0 520.9h4.8v4.8h-4.8zM186.9 520.4h4.8v4.8h-4.8zM187.7 519.9h4.8v4.8h-4.8zM188.6 519.4h4.8v4.8h-4.8zM189.4 518.9h4.8v4.8h-4.8zM190.3 518.3h4.8v4.8h-4.8zM191.1 517.8h4.8v4.8h-4.8zM192.0 517.3h4.8v4.8h-4.8zM192.8 516.8h4.8v4.8h-4.8zM193.7 516.3h4.8v4.8h-4.8zM194.5 515.7h4.8v4.8h-4.8zM195.4 515.2h4.8v4.8h-4.8zM196.2 514.6h4.8v4.8h-4.8zM197.1 514.1h4.8v4.8h-4.8zM197.9 513.6h4.8v4.8h-4.8zM198.8 513.0h4.8v4.8h-4.8zM199.6 512.4h4.8v4.8h-4.8zM200.5 511.9h4.8v4.8h-4.8zM201.3 511.3h4.8v4.8h-4.8zM202.2 510.8h4.8v4.8h-4.8zM203.0 510.2h4.8v4.8h-4.8zM203.9 509.6h4.8v4.8h-4.8zM204.7 509.0h4.8v4.8h-4.8zM205.6 508.5h4.8v4.8h-4.8zM206.5 507.9h4.8v4.8h-4.8zM207.3 507.3h4.8v4.8h-4.8zM208.2 506.7h4.8v4.8h-4.8zM209.0 506.1h4.8v4.8h-4.8zM209.9 505.5h4.8v4.8h-4.8zM210.7 504.9h4.8v4.8h-4.8zM211.6 504.3h4.8v4.8h-4.8zM212.4 503.6h4.8v4.8h-4.8zM213.3 503.0h4.8v4.8h-4.8zM214.1 502.4h4.8v4.8h-4.8zM215.0 501.8h4.8v4.8h-4.8zM215.8 501.1h4.8v4.8h-4.8zM216.7 500.5h4.8v4.8h-4.8zM217.5 499.9h4.8v4.8h-4.8zM218.4 499.2h4.8v4.8h-4.8zM219.2 498.6h4.8v4.8h-4.8zM220.1 497.9h4.8v4.8h-4.8zM220.9 497.2h4.8v4.8h-4.8zM221.8 496.6h4.8v4.8h-4.8zM222.6 495.9h4.8v4.8h-4.8zM223.5 495.2h4.8v4.8h-4.8zM224.3 494.5h4.8v4.8h-4.8zM225.2 493.8h4.8v4.8h-4.8zM226.0 493.1h4.8v4.8h-4.8zM226.9 492.4h4.8v4.8h-4.8zM227.7 491.7h4.8v4.8h-4.8zM228.6 490.9h4.8v4.8h-4.8zM229.4 490.2h4.8v4.8h-4.8zM230.3 489.5h4.8v4.8h-4.8zM231.2 488.6h4.8v4.8h-4.8zM232.0 487.8h4.8v4.8h-4.8zM232.9 486.9h4.8v4.8h-4.8zM233.7 486.1h4.8v4.8h-4.8zM234.6 485.2h4.8v4.8h-4.8zM235.4 484.3h4.8v4.8h-4.8zM236.3 483.4h4.8v4.8h-4.8zM237.1 482.5h4.8v4.8h-4.8zM238.0 481.6h4.8v4.8h-4.8zM238.8 480.6h4.8v4.8h-4.8zM239.7 479.7h4.8v4.8h-4.8zM240.5 478.7h4.8v4.8h-4.8zM241.4 477.8h4.8v4.8h-4.8zM242.2 476.8h4.8v4.8h-4.8zM243.1 475.8h4.8v4.8h-4.8zM243.9 474.8h4.8v4.8h-4.8zM244.8 474.2h4.8v4.8h-4.8zM245.6 473.0h4.8v4.8h-4.8zM246.5 471.9h4.8v4.8h-4.8zM247.3 470.8h4.8v4.8h-4.8zM248.2 469.7h4.8v4.8h-4.8zM249.0 468.6h4.8v4.8h-4.8zM249.9 467.4h4.8v4.8h-4.8zM250.7 466.3h4.8v4.8h-4.8zM251.6 464.9h4.8v4.8h-4.8zM252.4 463.5h4.8v4.8h-4.8zM253.3 462.0h4.8v4.8h-4.8zM254.1 460.4h4.8v4.8h-4.8zM255.0 458.5h4.8v4.8h-4.8zM255.8 456.4h4.8v4.8h-4.8zM256.7 454.6h4.8v4.8h-4.8zM257.6 452.6h4.8v4.8h-4.8zM258.4 449.2h4.8v4.8h-4.8zM259.3 445.9h4.8v4.8h-4.8zM260.1 444.3h4.8v4.8h-4.8zM261.0 444.1h4.8v4.8h-4.8zM261.8 449.1h4.8v4.8h-4.8zM262.7 462.3h4.8v4.8h-4.8zM263.5 466.4h4.8v4.8h-4.8zM264.4 466.4h4.8v4.8h-4.8zM265.2 465.2h4.8v4.8h-4.8zM266.1 463.8h4.8v4.8h-4.8zM266.9 462.3h4.8v4.8h-4.8zM267.8 460.4h4.8v4.8h-4.8zM268.6 458.6h4.8v4.8h-4.8zM269.5 457.0h4.8v4.8h-4.8zM270.3 455.7h4.8v4.8h-4.8zM271.2 454.1h4.8v4.8h-4.8zM272.0 452.6h4.8v4.8h-4.8zM272.9 451.0h4.8v4.8h-4.8zM273.7 449.5h4.8v4.8h-4.8zM274.6 447.9h4.8v4.8h-4.8zM275.4 446.3h4.8v4.8h-4.8zM276.3 444.7h4.8v4.8h-4.8zM277.1 443.1h4.8v4.8h-4.8zM278.0 441.5h4.8v4.8h-4.8zM278.8 439.9h4.8v4.8h-4.8zM279.7 438.7h4.8v4.8h-4.8zM280.5 437.5h4.8v4.8h-4.8zM281.4 436.4h4.8v4.8h-4.8zM282.3 435.2h4.8v4.8h-4.8zM283.1 433.8h4.8v4.8h-4.8zM284.0 432.4h4.8v4.8h-4.8zM284.8 430.5h4.8v4.8h-4.8zM285.7 429.2h4.8v4.8h-4.8zM286.5 427.9h4.8v4.8h-4.8zM287.4 426.6h4.8v4.8h-4.8zM288.2 425.3h4.8v4.8h-4.8zM289.1 423.9h4.8v4.8h-4.8zM289.9 422.6h4.8v4.8h-4.8zM290.8 421.3h4.8v4.8h-4.8zM291.6 419.9h4.8v4.8h-4.8zM292.5 418.5h4.8v4.8h-4.8zM293.3 417.1h4.8v4.8h-4.8zM294.2 415.7h4.8v4.8h-4.8zM295.0 414.3h4.8v4.8h-4.8zM295.9 412.9h4.8v4.8h-4.8zM296.7 411.6h4.8v4.8h-4.8zM297.6 410.2h4.8v4.8h-4.8zM298.4 408.8h4.8v4.8h-4.8zM299.3 407.5h4.8v4.8h-4.8zM300.1 406.1h4.8v4.8h-4.8zM301.0 404.8h4.8v4.8h-4.8zM301.8 403.5h4.8v4.8h-4.8zM302.7 402.2h4.8v4.8h-4.8zM303.5 401.0h4.8v4.8h-4.8zM304.4 399.8h4.8v4.8h-4.8zM305.2 398.6h4.8v4.8h-4.8zM306.1 397.4h4.8v4.8h-4.8zM307.0 396.2h4.8v4.8h-4.8zM307.8 395.0h4.8v4.8h-4.8zM308.7 393.7h4.8v4.8h-4.8zM309.5 392.4h4.8v4.8h-4.8zM310.4 391.1h4.8v4.8h-4.8zM311.2 389.8h4.8v4.8h-4.8zM312.1 388.4h4.8v4.8h-4.8zM312.9 387.0h4.8v4.8h-4.8zM313.8 385.4h4.8v4.8h-4.8zM314.6 383.6h4.8v4.8h-4.8zM315.5 381.6h4.8v4.8h-4.8zM316.3 379.5h4.8v4.8h-4.8zM317.2 377.4h4.8v4.8h-4.8zM318.0 375.6h4.8v4.8h-4.8zM318.9 374.0h4.8v4.8h-4.8zM319.7 372.4h4.8v4.8h-4.8zM320.6 370.8h4.8v4.8h-4.8zM321.4 368.9h4.8v4.8h-4.8zM322.3 366.8h4.8v4.8h-4.8zM323.1 364.4h4.8v4.8h-4.8zM324.0 362.0h4.8v4.8h-4.8zM324.8 359.8h4.8v4.8h-4.8zM325.7 357.8h4.8v4.8h-4.8zM326.5 355.9h4.8v4.8h-4.8zM327.4 354.3h4.8v4.8h-4.8zM328.2 352.9h4.8v4.8h-4.8zM329.1 351.6h4.8v4.8h-4.8zM329.9 350.4h4.8v4.8h-4.8zM330.8 349.2h4.8v4.8h-4.8zM331.6 348.0h4.8v4.8h-4.8zM332.5 346.7h4.8v4.8h-4.8zM333.4 345.6h4.8v4.8h-4.8zM334.2 344.7h4.8v4.8h-4.8zM335.1 344.0h4.8v4.8h-4.8zM335.9 343.5h4.8v4.8h-4.8zM336.8 343.0h4.8v4.8h-4.8zM337.6 342.7h4.8v4.8h-4.8z" fill="#ff5200"/>
<path d="M105.1 542.5h4.8v4.8h-4.8zM106.0 542.5h4.8v4.8h-4.8zM106.8 542.4h4.8v4.8h-4.8zM107.7 542.3h4.8v4.8h-4.8zM108.5 542.2h4.8v4.8h-4.8zM109.4 542.2h4.8v4.8h-4.8zM110.2 542.1h4.8v4.8h-4.8zM111.1 542.0h4.8v4.8h-4.8zM111.9 542.0h4.8v4.8h-4.8zM112.8 541.9h4.8v4.8h-4.8zM113.6 541.8h4.8v4.8h-4.8zM114.5 541.8h4.8v4.8h-4.8zM115.3 541.7h4.8v4.8h-4.8zM116.2 541.6h4.8v4.8h-4.8zM117.0 541.6h4.8v4.8h-4.8zM117.9 541.5h4.8v4.8h-4.8zM118.7 541.4h4.8v4.8h-4.8zM119.6 541.3h4.8v4.8h-4.8zM120.4 541.2h4.8v4.8h-4.8zM121.3 541.2h4.8v4.8h-4.8zM122.1 541.1h4.8v4.8h-4.8zM123.0 541.0h4.8v4.8h-4.8zM123.8 540.9h4.8v4.8h-4.8zM124.7 540.8h4.8v4.8h-4.8zM125.5 540.7h4.8v4.8h-4.8zM126.4 540.6h4.8v4.8h-4.8zM127.2 540.5h4.8v4.8h-4.8zM128.1 540.4h4.8v4.8h-4.8zM128.9 540.3h4.8v4.8h-4.8zM129.8 540.1h4.8v4.8h-4.8zM130.7 540.0h4.8v4.8h-4.8zM131.5 539.9h4.8v4.8h-4.8zM132.4 539.7h4.8v4.8h-4.8zM133.2 539.6h4.8v4.8h-4.8zM134.1 539.4h4.8v4.8h-4.8zM134.9 539.3h4.8v4.8h-4.8zM135.8 539.1h4.8v4.8h-4.8zM136.6 539.0h4.8v4.8h-4.8zM137.5 538.8h4.8v4.8h-4.8zM138.3 538.6h4.8v4.8h-4.8zM139.2 538.4h4.8v4.8h-4.8zM140.0 538.3h4.8v4.8h-4.8zM140.9 538.1h4.8v4.8h-4.8zM141.7 537.9h4.8v4.8h-4.8zM142.6 537.6h4.8v4.8h-4.8zM143.4 537.4h4.8v4.8h-4.8zM144.3 537.2h4.8v4.8h-4.8zM145.1 537.0h4.8v4.8h-4.8zM146.0 536.8h4.8v4.8h-4.8zM146.8 536.5h4.8v4.8h-4.8zM147.7 536.3h4.8v4.8h-4.8zM148.5 536.0h4.8v4.8h-4.8zM149.4 535.8h4.8v4.8h-4.8zM150.2 535.5h4.8v4.8h-4.8zM151.1 535.2h4.8v4.8h-4.8zM151.9 534.9h4.8v4.8h-4.8zM152.8 534.7h4.8v4.8h-4.8zM153.6 534.4h4.8v4.8h-4.8zM154.5 534.1h4.8v4.8h-4.8zM155.4 533.8h4.8v4.8h-4.8zM156.2 533.5h4.8v4.8h-4.8zM157.1 533.1h4.8v4.8h-4.8zM157.9 532.8h4.8v4.8h-4.8zM158.8 532.5h4.8v4.8h-4.8zM159.6 532.2h4.8v4.8h-4.8zM160.5 531.8h4.8v4.8h-4.8zM161.3 531.5h4.8v4.8h-4.8zM162.2 531.1h4.8v4.8h-4.8zM163.0 530.8h4.8v4.8h-4.8zM163.9 530.4h4.8v4.8h-4.8zM164.7 530.0h4.8v4.8h-4.8zM165.6 529.7h4.8v4.8h-4.8zM166.4 529.3h4.8v4.8h-4.8zM167.3 528.9h4.8v4.8h-4.8zM168.1 528.5h4.8v4.8h-4.8zM169.0 528.1h4.8v4.8h-4.8zM169.8 527.7h4.8v4.8h-4.8zM170.7 527.3h4.8v4.8h-4.8zM171.5 526.9h4.8v4.8h-4.8zM172.4 526.4h4.8v4.8h-4.8zM173.2 526.0h4.8v4.8h-4.8zM174.1 525.6h4.8v4.8h-4.8zM174.9 525.2h4.8v4.8h-4.8zM175.8 524.7h4.8v4.8h-4.8zM176.6 524.3h4.8v4.8h-4.8zM177.5 523.8h4.8v4.8h-4.8zM178.3 523.4h4.8v4.8h-4.8zM179.2 522.9h4.8v4.8h-4.8zM180.0 522.4h4.8v4.8h-4.8zM180.9 522.0h4.8v4.8h-4.8zM181.8 521.5h4.8v4.8h-4.8zM182.6 521.0h4.8v4.8h-4.8zM183.5 520.5h4.8v4.8h-4.8zM184.3 520.0h4.8v4.8h-4.8zM185.2 519.6h4.8v4.8h-4.8zM186.0 519.1h4.8v4.8h-4.8zM186.9 518.6h4.8v4.8h-4.8zM187.7 518.1h4.8v4.8h-4.8zM188.6 517.6h4.8v4.8h-4.8zM189.4 517.0h4.8v4.8h-4.8zM190.3 516.5h4.8v4.8h-4.8zM191.1 516.0h4.8v4.8h-4.8zM192.0 515.5h4.8v4.8h-4.8zM192.8 515.0h4.8v4.8h-4.8zM193.7 514.4h4.8v4.8h-4.8zM194.5 513.9h4.8v4.8h-4.8zM195.4 513.4h4.8v4.8h-4.8zM196.2 512.8h4.8v4.8h-4.8zM197.1 512.3h4.8v4.8h-4.8zM197.9 511.7h4.8v4.8h-4.8zM198.8 511.2h4.8v4.8h-4.8zM199.6 510.6h4.8v4.8h-4.8zM200.5 510.0h4.8v4.8h-4.8zM201.3 509.5h4.8v4.8h-4.8zM202.2 508.9h4.8v4.8h-4.8zM203.0 508.3h4.8v4.8h-4.8zM203.9 507.8h4.8v4.8h-4.8zM204.7 507.2h4.8v4.8h-4.8zM205.6 506.6h4.8v4.8h-4.8zM206.5 506.0h4.8v4.8h-4.8zM207.3 505.4h4.8v4.8h-4.8zM208.2 504.8h4.8v4.8h-4.8zM209.0 504.2h4.8v4.8h-4.8zM209.9 503.6h4.8v4.8h-4.8zM210.7 503.0h4.8v4.8h-4.8zM211.6 502.4h4.8v4.8h-4.8zM212.4 501.8h4.8v4.8h-4.8zM213.3 501.2h4.8v4.8h-4.8zM214.1 500.5h4.8v4.8h-4.8zM215.0 499.9h4.8v4.8h-4.8zM215.8 499.3h4.8v4.8h-4.8zM216.7 498.6h4.8v4.8h-4.8zM217.5 498.0h4.8v4.8h-4.8zM218.4 497.3h4.8v4.8h-4.8zM219.2 496.7h4.8v4.8h-4.8zM220.1 496.0h4.8v4.8h-4.8zM220.9 495.3h4.8v4.8h-4.8zM221.8 494.7h4.8v4.8h-4.8zM222.6 494.0h4.8v4.8h-4.8zM223.5 493.3h4.8v4.8h-4.8zM224.3 492.6h4.8v4.8h-4.8zM225.2 491.9h4.8v4.8h-4.8zM226.0 491.2h4.8v4.8h-4.8zM226.9 490.5h4.8v4.8h-4.8zM227.7 489.8h4.8v4.8h-4.8zM228.6 489.0h4.8v4.8h-4.8zM229.4 488.3h4.8v4.8h-4.8zM230.3 487.6h4.8v4.8h-4.8zM231.2 486.8h4.8v4.8h-4.8zM232.0 486.0h4.8v4.8h-4.8zM232.9 485.3h4.8v4.8h-4.8zM233.7 484.5h4.8v4.8h-4.8zM234.6 483.7h4.8v4.8h-4.8zM235.4 482.9h4.8v4.8h-4.8zM236.3 482.1h4.8v4.8h-4.8zM237.1 481.3h4.8v4.8h-4.8zM238.0 480.4h4.8v4.8h-4.8zM238.8 479.6h4.8v4.8h-4.8zM239.7 478.8h4.8v4.8h-4.8zM240.5 477.9h4.8v4.8h-4.8zM241.4 477.0h4.8v4.8h-4.8zM242.2 476.1h4.8v4.8h-4.8zM243.1 475.2h4.8v4.8h-4.8zM243.9 474.3h4.8v4.8h-4.8zM244.8 473.7h4.8v4.8h-4.8zM245.6 472.6h4.8v4.8h-4.8zM246.5 471.5h4.8v4.8h-4.8zM247.3 470.4h4.8v4.8h-4.8zM248.2 469.3h4.8v4.8h-4.8zM249.0 468.2h4.8v4.8h-4.8zM249.9 467.0h4.8v4.8h-4.8zM250.7 465.8h4.8v4.8h-4.8zM251.6 464.5h4.8v4.8h-4.8zM252.4 463.1h4.8v4.8h-4.8zM253.3 461.6h4.8v4.8h-4.8zM254.1 459.9h4.8v4.8h-4.8zM255.0 458.1h4.8v4.8h-4.8zM255.8 456.0h4.8v4.8h-4.8zM256.7 454.2h4.8v4.8h-4.8zM257.6 452.2h4.8v4.8h-4.8zM258.4 450.1h4.8v4.8h-4.8zM259.3 448.9h4.8v4.8h-4.8zM260.1 449.1h4.8v4.8h-4.8zM261.0 452.5h4.8v4.8h-4.8zM261.8 457.5h4.8v4.8h-4.8zM262.7 460.1h4.8v4.8h-4.8zM263.5 460.3h4.8v4.8h-4.8zM264.4 459.4h4.8v4.8h-4.8zM265.2 458.3h4.8v4.8h-4.8zM266.1 456.6h4.8v4.8h-4.8zM266.9 455.0h4.8v4.8h-4.8zM267.8 453.0h4.8v4.8h-4.8zM268.6 451.4h4.8v4.8h-4.8zM269.5 450.1h4.8v4.8h-4.8zM270.3 448.6h4.8v4.8h-4.8zM271.2 447.2h4.8v4.8h-4.8zM272.0 445.8h4.8v4.8h-4.8zM272.9 444.6h4.8v4.8h-4.8zM273.7 443.2h4.8v4.8h-4.8zM274.6 442.2h4.8v4.8h-4.8zM275.4 440.9h4.8v4.8h-4.8zM276.3 439.0h4.8v4.8h-4.8zM277.1 437.7h4.8v4.8h-4.8zM278.0 435.9h4.8v4.8h-4.8zM278.8 434.4h4.8v4.8h-4.8zM279.7 433.3h4.8v4.8h-4.8zM280.5 432.0h4.8v4.8h-4.8zM281.4 431.4h4.8v4.8h-4.8zM282.3 430.6h4.8v4.8h-4.8zM283.1 429.6h4.8v4.8h-4.8zM284.0 428.6h4.8v4.8h-4.8zM284.8 427.4h4.8v4.8h-4.8zM285.7 426.3h4.8v4.8h-4.8zM286.5 425.1h4.8v4.8h-4.8zM287.4 423.8h4.8v4.8h-4.8zM288.2 422.6h4.8v4.8h-4.8zM289.1 421.4h4.8v4.8h-4.8zM289.9 420.1h4.8v4.8h-4.8zM290.8 418.9h4.8v4.8h-4.8zM291.6 417.6h4.8v4.8h-4.8zM292.5 416.3h4.8v4.8h-4.8zM293.3 415.0h4.8v4.8h-4.8zM294.2 413.7h4.8v4.8h-4.8zM295.0 412.4h4.8v4.8h-4.8zM295.9 411.1h4.8v4.8h-4.8zM296.7 409.8h4.8v4.8h-4.8zM297.6 408.5h4.8v4.8h-4.8zM298.4 407.2h4.8v4.8h-4.8zM299.3 406.0h4.8v4.8h-4.8zM300.1 404.7h4.8v4.8h-4.8zM301.0 403.4h4.8v4.8h-4.8zM301.8 402.2h4.8v4.8h-4.8zM302.7 400.9h4.8v4.8h-4.8zM303.5 399.7h4.8v4.8h-4.8zM304.4 398.5h4.8v4.8h-4.8zM305.2 397.3h4.8v4.8h-4.8zM306.1 396.1h4.8v4.8h-4.8zM307.0 394.9h4.8v4.8h-4.8zM307.8 393.7h4.8v4.8h-4.8zM308.7 392.5h4.8v4.8h-4.8zM309.5 391.2h4.8v4.8h-4.8zM310.4 389.9h4.8v4.8h-4.8zM311.2 388.6h4.8v4.8h-4.8zM312.1 387.3h4.8v4.8h-4.8zM312.9 385.8h4.8v4.8h-4.8zM313.8 384.3h4.8v4.8h-4.8zM314.6 382.5h4.8v4.8h-4.8zM315.5 380.4h4.8v4.8h-4.8zM316.3 378.3h4.8v4.8h-4.8zM317.2 376.3h4.8v4.8h-4.8zM318.0 374.5h4.8v4.8h-4.8zM318.9 372.9h4.8v4.8h-4.8zM319.7 371.3h4.8v4.8h-4.8zM320.6 369.7h4.8v4.8h-4.8zM321.4 367.9h4.8v4.8h-4.8zM322.3 365.7h4.8v4.8h-4.8zM323.1 363.3h4.8v4.8h-4.8zM324.0 360.9h4.8v4.8h-4.8zM324.8 358.8h4.8v4.8h-4.8zM325.7 356.7h4.8v4.8h-4.8zM326.5 354.9h4.8v4.8h-4.8zM327.4 353.3h4.8v4.8h-4.8zM328.2 351.9h4.8v4.8h-4.8zM329.1 350.6h4.8v4.8h-4.8zM329.9 349.4h4.8v4.8h-4.8zM330.8 348.2h4.8v4.8h-4.8zM331.6 347.0h4.8v4.8h-4.8zM332.5 345.8h4.8v4.8h-4.8zM333.4 344.7h4.8v4.8h-4.8zM334.2 343.8h4.8v4.8h-4.8zM335.1 343.1h4.8v4.8h-4.8zM335.9 342.6h4.8v4.8h-4.8zM336.8 342.1h4.8v4.8h-4.8zM337.6 341.8h4.8v4.8h-4.8z" fill="#d40000"/>
<path d="M491.2 481.6h4.8v4.8h-4.8zM496.9 480.2h4.8v4.8h-4.8zM502.6 478.9h4.8v4.8h-4.8zM508.3 477.6h4.8v4.8h-4.8zM513.9 476.3h4.8v4.8h-4.8zM519.6 474.9h4.8v4.8h-4.8zM525.3 473.5h4.8v4.8h-4.8zM531.0 472.1h4.8v4.8h-4.8zM536.7 470.5h4.8v4.8h-4.8zM542.4 468.8h4.8v4.8h-4.8zM548.1 467.0h4.8v4.8h-4.8zM553.7 465.0h4.8v4.8h-4.8zM559.4 462.8h4.8v4.8h-4.8zM565.1 460.3h4.8v4.8h-4.8zM570.8 458.1h4.8v4.8h-4.8zM576.5 455.7h4.8v4.8h-4.8zM582.2 450.6h4.8v4.8h-4.8zM587.9 448.6h4.8v4.8h-4.8zM593.5 447.6h4.8v4.8h-4.8zM599.2 443.6h4.8v4.8h-4.8zM604.9 433.6h4.8v4.8h-4.8zM610.6 418.1h4.8v4.8h-4.8zM616.3 404.9h4.8v4.8h-4.8zM622.0 386.1h4.8v4.8h-4.8zM627.7 363.6h4.8v4.8h-4.8zM633.4 565.2h4.8v4.8h-4.8zM639.0 533.6h4.8v4.8h-4.8zM644.7 514.6h4.8v4.8h-4.8zM650.4 501.1h4.8v4.8h-4.8zM656.1 490.3h4.8v4.8h-4.8zM661.8 481.1h4.8v4.8h-4.8zM667.5 475.6h4.8v4.8h-4.8zM673.2 472.6h4.8v4.8h-4.8zM678.8 468.1h4.8v4.8h-4.8zM684.5 464.0h4.8v4.8h-4.8zM690.2 459.8h4.8v4.8h-4.8zM695.9 457.6h4.8v4.8h-4.8zM701.6 455.4h4.8v4.8h-4.8zM707.3 453.2h4.8v4.8h-4.8zM713.0 451.0h4.8v4.8h-4.8zM718.6 448.8h4.8v4.8h-4.8zM724.3 447.4h4.8v4.8h-4.8zM730.0 446.0h4.8v4.8h-4.8zM735.7 444.6h4.8v4.8h-4.8zM741.4 443.1h4.8v4.8h-4.8zM747.1 441.7h4.8v4.8h-4.8zM752.8 440.3h4.8v4.8h-4.8zM758.4 438.9h4.8v4.8h-4.8zM764.1 437.5h4.8v4.8h-4.8z" fill="#0018ff"/>
<path d="M491.2 484.1h4.8v4.8h-4.8zM496.9 482.7h4.8v4.8h-4.8zM502.6 481.4h4.8v4.8h-4.8zM508.3 480.1h4.8v4.8h-4.8zM513.9 478.8h4.8v4.8h-4.8zM519.6 477.4h4.8v4.8h-4.8zM525.3 476.0h4.8v4.8h-4.8zM531.0 474.6h4.8v4.8h-4.8zM536.7 473.0h4.8v4.8h-4.8zM542.4 471.3h4.8v4.8h-4.8zM548.1 469.5h4.8v4.8h-4.8zM553.7 467.5h4.8v4.8h-4.8zM559.4 465.3h4.8v4.8h-4.8zM565.1 462.8h4.8v4.8h-4.8zM570.8 460.6h4.8v4.8h-4.8zM576.5 458.2h4.8v4.8h-4.8zM582.2 453.6h4.8v4.8h-4.8zM587.9 450.1h4.8v4.8h-4.8zM593.5 448.1h4.8v4.8h-4.8zM599.2 444.1h4.8v4.8h-4.8zM604.9 434.6h4.8v4.8h-4.8zM610.6 419.2h4.8v4.8h-4.8zM616.3 406.6h4.8v4.8h-4.8zM622.0 389.2h4.8v4.8h-4.8zM627.7 481.2h4.8v4.8h-4.8zM633.4 554.6h4.8v4.8h-4.8zM639.0 529.4h4.8v4.8h-4.8zM644.7 513.0h4.8v4.8h-4.8zM650.4 499.5h4.8v4.8h-4.8zM656.1 488.1h4.8v4.8h-4.8zM661.8 479.6h4.8v4.8h-4.8zM667.5 474.6h4.8v4.8h-4.8zM673.2 471.7h4.8v4.8h-4.8zM678.8 467.6h4.8v4.8h-4.8zM684.5 464.6h4.8v4.8h-4.8zM690.2 459.9h4.8v4.8h-4.8zM695.9 457.7h4.8v4.8h-4.8zM701.6 455.5h4.8v4.8h-4.8zM707.3 453.3h4.8v4.8h-4.8zM713.0 451.1h4.8v4.8h-4.8zM718.6 448.9h4.8v4.8h-4.8zM724.3 447.5h4.8v4.8h-4.8zM730.0 446.1h4.8v4.8h-4.8zM735.7 444.7h4.8v4.8h-4.8zM741.4 443.2h4.8v4.8h-4.8zM747.1 441.8h4.8v4.8h-4.8zM752.8 440.4h4.8v4.8h-4.8zM758.4 439.0h4.8v4.8h-4.8zM764.1 437.6h4.8v4.8h-4.8z" fill="#00a4ff"/>
<path d="M491.2 483.9h4.8v4.8h-4.8zM496.9 482.5h4.8v4.8h-4.8zM502.6 481.2h4.8v4.8h-4.8zM508.3 479.9h4.8v4.8h-4.8zM513.9 478.6h4.8v4.8h-4.8zM519.6 477.2h4.8v4.8h-4.8zM525.3 475.8h4.8v4.8h-4.8zM531.0 474.4h4.8v4.8h-4.8zM536.7 472.8h4.8v4.8h-4.8zM542.4 471.1h4.8v4.8h-4.8zM548.1 469.3h4.8v4.8h-4.8zM553.7 467.3h4.8v4.8h-4.8zM559.4 465.1h4.8v4.8h-4.8zM565.1 462.6h4.8v4.8h-4.8zM570.8 460.4h4.8v4.8h-4.8zM576.5 458.0h4.8v4.8h-4.8zM582.2 453.6h4.8v4.8h-4.8zM587.9 450.1h4.8v4.8h-4.8zM593.5 447.9h4.8v4.8h-4.8zM599.2 443.6h4.8v4.8h-4.8zM604.9 433.8h4.8v4.8h-4.8zM610.6 421.9h4.8v4.8h-4.8zM616.3 408.4h4.8v4.8h-4.8zM622.0 371.3h4.8v4.8h-4.8zM627.7 484.1h4.8v4.8h-4.8zM633.4 505.4h4.8v4.8h-4.8zM639.0 500.6h4.8v4.8h-4.8zM644.7 492.4h4.8v4.8h-4.8zM650.4 484.2h4.8v4.8h-4.8zM656.1 477.6h4.8v4.8h-4.8zM661.8 473.1h4.8v4.8h-4.8zM667.5 470.8h4.8v4.8h-4.8zM673.2 468.9h4.8v4.8h-4.8zM678.8 466.7h4.8v4.8h-4.8zM684.5 463.4h4.8v4.8h-4.8zM690.2 460.1h4.8v4.8h-4.8zM695.9 457.9h4.8v4.8h-4.8zM701.6 455.7h4.8v4.8h-4.8zM707.3 453.5h4.8v4.8h-4.8zM713.0 451.3h4.8v4.8h-4.8zM718.6 449.1h4.8v4.8h-4.8zM724.3 447.7h4.8v4.8h-4.8zM730.0 446.3h4.8v4.8h-4.8zM735.7 444.9h4.8v4.8h-4.8zM741.4 443.5h4.8v4.8h-4.8zM747.1 442.0h4.8v4.8h-4.8zM752.8 440.6h4.8v4.8h-4.8zM758.4 439.2h4.8v4.8h-4.8zM764.1 437.8h4.8v4.8h-4.8z" fill="#22ffd4"/>
<path d="M491.2 483.7h4.8v4.8h-4.8zM496.9 482.3h4.8v4.8h-4.8zM502.6 481.0h4.8v4.8h-4.8zM508.3 479.7h4.8v4.8h-4.8zM513.9 478.4h4.8v4.8h-4.8zM519.6 477.0h4.8v4.8h-4.8zM525.3 475.6h4.8v4.8h-4.8zM531.0 474.2h4.8v4.8h-4.8zM536.7 472.6h4.8v4.8h-4.8zM542.4 470.9h4.8v4.8h-4.8zM548.1 469.1h4.8v4.8h-4.8zM553.7 467.1h4.8v4.8h-4.8zM559.4 464.9h4.8v4.8h-4.8zM565.1 462.4h4.8v4.8h-4.8zM570.8 460.2h4.8v4.8h-4.8zM576.5 457.8h4.8v4.8h-4.8zM582.2 454.1h4.8v4.8h-4.8zM587.9 450.1h4.8v4.8h-4.8zM593.5 442.5h4.8v4.8h-4.8zM599.2 438.0h4.8v4.8h-4.8zM604.9 431.2h4.8v4.8h-4.8zM610.6 425.9h4.8v4.8h-4.8zM616.3 419.8h4.8v4.8h-4.8zM622.0 510.3h4.8v4.8h-4.8zM627.7 495.9h4.8v4.8h-4.8zM633.4 489.8h4.8v4.8h-4.8zM639.0 483.8h4.8v4.8h-4.8zM644.7 478.1h4.8v4.8h-4.8zM650.4 473.1h4.8v4.8h-4.8zM656.1 469.7h4.8v4.8h-4.8zM661.8 468.0h4.8v4.8h-4.8zM667.5 466.1h4.8v4.8h-4.8zM673.2 464.2h4.8v4.8h-4.8zM678.8 462.4h4.8v4.8h-4.8zM684.5 460.5h4.8v4.8h-4.8zM690.2 458.6h4.8v4.8h-4.8zM695.9 456.4h4.8v4.8h-4.8zM701.6 454.2h4.8v4.8h-4.8zM707.3 452.0h4.8v4.8h-4.8zM713.0 449.8h4.8v4.8h-4.8zM718.6 447.6h4.8v4.8h-4.8zM724.3 446.2h4.8v4.8h-4.8zM730.0 444.7h4.8v4.8h-4.8zM735.7 443.3h4.8v4.8h-4.8zM741.4 441.9h4.8v4.8h-4.8zM747.1 440.4h4.8v4.8h-4.8zM752.8 439.0h4.8v4.8h-4.8zM758.4 437.5h4.8v4.8h-4.8zM764.1 436.1h4.8v4.8h-4.8z" fill="#aaff44"/>
<path d="M491.2 484.0h4.8v4.8h-4.8zM496.9 482.6h4.8v4.8h-4.8zM502.6 481.3h4.8v4.8h-4.8zM508.3 480.0h4.8v4.8h-4.8zM513.9 478.7h4.8v4.8h-4.8zM519.6 477.3h4.8v4.8h-4.8zM525.3 475.9h4.8v4.8h-4.8zM531.0 474.5h4.8v4.8h-4.8zM536.7 472.9h4.8v4.8h-4.8zM542.4 471.2h4.8v4.8h-4.8zM548.1 469.4h4.8v4.8h-4.8zM553.7 467.4h4.8v4.8h-4.8zM559.4 465.2h4.8v4.8h-4.8zM565.1 462.7h4.8v4.8h-4.8zM570.8 460.5h4.8v4.8h-4.8zM576.5 458.1h4.8v4.8h-4.8zM582.2 453.1h4.8v4.8h-4.8zM587.9 449.1h4.8v4.8h-4.8zM593.5 445.3h4.8v4.8h-4.8zM599.2 442.5h4.8v4.8h-4.8zM604.9 442.8h4.8v4.8h-4.8zM610.6 457.6h4.8v4.8h-4.8zM616.3 475.8h4.8v4.8h-4.8zM622.0 480.4h4.8v4.8h-4.8zM627.7 479.1h4.8v4.8h-4.8zM633.4 476.8h4.8v4.8h-4.8zM639.0 474.6h4.8v4.8h-4.8zM644.7 472.1h4.8v4.8h-4.8zM650.4 469.6h4.8v4.8h-4.8zM656.1 467.6h4.8v4.8h-4.8zM661.8 466.1h4.8v4.8h-4.8zM667.5 464.2h4.8v4.8h-4.8zM673.2 462.2h4.8v4.8h-4.8zM678.8 460.3h4.8v4.8h-4.8zM684.5 458.3h4.8v4.8h-4.8zM690.2 456.4h4.8v4.8h-4.8zM695.9 454.4h4.8v4.8h-4.8zM701.6 452.5h4.8v4.8h-4.8zM707.3 450.5h4.8v4.8h-4.8zM713.0 448.6h4.8v4.8h-4.8zM718.6 446.6h4.8v4.8h-4.8zM724.3 445.2h4.8v4.8h-4.8zM730.0 443.7h4.8v4.8h-4.8zM735.7 442.3h4.8v4.8h-4.8zM741.4 440.9h4.8v4.8h-4.8zM747.1 439.4h4.8v4.8h-4.8zM752.8 438.0h4.8v4.8h-4.8zM758.4 436.5h4.8v4.8h-4.8zM764.1 435.1h4.8v4.8h-4.8z" fill="#ffd500"/>
<path d="M491.2 486.6h4.8v4.8h-4.8zM496.9 485.2h4.8v4.8h-4.8zM502.6 483.9h4.8v4.8h-4.8zM508.3 482.6h4.8v4.8h-4.8zM513.9 481.3h4.8v4.8h-4.8zM519.6 479.9h4.8v4.8h-4.8zM525.3 478.5h4.8v4.8h-4.8zM531.0 477.1h4.8v4.8h-4.8zM536.7 475.5h4.8v4.8h-4.8zM542.4 473.8h4.8v4.8h-4.8zM548.1 472.0h4.8v4.8h-4.8zM553.7 470.0h4.8v4.8h-4.8zM559.4 467.8h4.8v4.8h-4.8zM565.1 465.3h4.8v4.8h-4.8zM570.8 463.1h4.8v4.8h-4.8zM576.5 460.7h4.8v4.8h-4.8zM582.2 456.6h4.8v4.8h-4.8zM587.9 452.6h4.8v4.8h-4.8zM593.5 450.7h4.8v4.8h-4.8zM599.2 450.4h4.8v4.8h-4.8zM604.9 456.5h4.8v4.8h-4.8zM610.6 472.4h4.8v4.8h-4.8zM616.3 477.3h4.8v4.8h-4.8zM622.0 477.3h4.8v4.8h-4.8zM627.7 475.8h4.8v4.8h-4.8zM633.4 474.2h4.8v4.8h-4.8zM639.0 472.4h4.8v4.8h-4.8zM644.7 470.1h4.8v4.8h-4.8zM650.4 467.9h4.8v4.8h-4.8zM656.1 466.0h4.8v4.8h-4.8zM661.8 464.4h4.8v4.8h-4.8zM667.5 462.5h4.8v4.8h-4.8zM673.2 460.6h4.8v4.8h-4.8zM678.8 458.8h4.8v4.8h-4.8zM684.5 456.9h4.8v4.8h-4.8zM690.2 455.0h4.8v4.8h-4.8zM695.9 453.1h4.8v4.8h-4.8zM701.6 451.2h4.8v4.8h-4.8zM707.3 449.2h4.8v4.8h-4.8zM713.0 447.3h4.8v4.8h-4.8zM718.6 445.4h4.8v4.8h-4.8zM724.3 444.0h4.8v4.8h-4.8zM730.0 442.6h4.8v4.8h-4.8zM735.7 441.1h4.8v4.8h-4.8zM741.4 439.7h4.8v4.8h-4.8zM747.1 438.3h4.8v4.8h-4.8zM752.8 436.9h4.8v4.8h-4.8zM758.4 435.4h4.8v4.8h-4.8zM764.1 434.0h4.8v4.8h-4.8z" fill="#ff5200"/>
<path d="M491.2 486.1h4.8v4.8h-4.8zM496.9 484.7h4.8v4.8h-4.8zM502.6 483.4h4.8v4.8h-4.8zM508.3 482.1h4.8v4.8h-4.8zM513.9 480.8h4.8v4.8h-4.8zM519.6 479.4h4.8v4.8h-4.8zM525.3 478.0h4.8v4.8h-4.8zM531.0 476.6h4.8v4.8h-4.8zM536.7 475.0h4.8v4.8h-4.8zM542.4 473.3h4.8v4.8h-4.8zM548.1 471.5h4.8v4.8h-4.8zM553.7 469.5h4.8v4.8h-4.8zM559.4 467.3h4.8v4.8h-4.8zM565.1 464.8h4.8v4.8h-4.8zM570.8 462.6h4.8v4.8h-4.8zM576.5 460.2h4.8v4.8h-4.8zM582.2 457.7h4.8v4.8h-4.8zM587.9 456.2h4.8v4.8h-4.8zM593.5 456.5h4.8v4.8h-4.8zM599.2 460.6h4.8v4.8h-4.8zM604.9 466.6h4.8v4.8h-4.8zM610.6 469.7h4.8v4.8h-4.8zM616.3 469.9h4.8v4.8h-4.8zM622.0 468.8h4.8v4.8h-4.8zM627.7 467.5h4.8v4.8h-4.8zM633.4 465.5h4.8v4.8h-4.8zM639.0 463.5h4.8v4.8h-4.8zM644.7 461.2h4.8v4.8h-4.8zM650.4 459.2h4.8v4.8h-4.8zM656.1 457.7h4.8v4.8h-4.8zM661.8 455.9h4.8v4.8h-4.8zM667.5 454.2h4.8v4.8h-4.8zM673.2 452.5h4.8v4.8h-4.8zM678.8 451.0h4.8v4.8h-4.8zM684.5 449.4h4.8v4.8h-4.8zM690.2 448.1h4.8v4.8h-4.8zM695.9 446.6h4.8v4.8h-4.8zM701.6 444.3h4.8v4.8h-4.8zM707.3 442.8h4.8v4.8h-4.8zM713.0 440.6h4.8v4.8h-4.8zM718.6 438.8h4.8v4.8h-4.8zM724.3 437.4h4.8v4.8h-4.8zM730.0 435.9h4.8v4.8h-4.8zM735.7 435.2h4.8v4.8h-4.8zM741.4 434.2h4.8v4.8h-4.8zM747.1 433.3h4.8v4.8h-4.8zM752.8 432.2h4.8v4.8h-4.8zM758.4 431.8h4.8v4.8h-4.8zM764.1 430.5h4.8v4.8h-4.8z" fill="#d40000"/>
<path d="M105.1 916.4h4.8v4.8h-4.8zM106.0 917.5h4.8v4.8h-4.8zM106.8 919.1h4.8v4.8h-4.8zM107.7 920.6h4.8v4.8h-4.8zM108.5 922.1h4.8v4.8h-4.8zM109.4 923.8h4.8v4.8h-4.8zM110.2 925.5h4.8v4.8h-4.8zM111.1 927.1h4.8v4.8h-4.8zM111.9 928.6h4.8v4.8h-4.8zM112.8 929.9h4.8v4.8h-4.8zM113.6 931.0h4.8v4.8h-4.8zM114.5 932.0h4.8v4.8h-4.8zM115.3 932.9h4.8v4.8h-4.8zM116.2 933.7h4.8v4.8h-4.8zM117.0 934.4h4.8v4.8h-4.8zM117.9 935.1h4.8v4.8h-4.8zM118.7 935.8h4.8v4.8h-4.8zM119.6 936.3h4.8v4.8h-4.8zM120.4 936.8h4.8v4.8h-4.8zM121.3 937.3h4.8v4.8h-4.8zM122.1 937.8h4.8v4.8h-4.8zM123.0 938.3h4.8v4.8h-4.8zM123.8 938.8h4.8v4.8h-4.8zM124.7 939.2h4.8v4.8h-4.8zM125.5 939.7h4.8v4.8h-4.8zM126.4 940.2h4.8v4.8h-4.8zM127.2 940.6h4.8v4.8h-4.8zM128.1 941.1h4.8v4.8h-4.8zM128.9 941.5h4.8v4.8h-4.8zM129.8 942.0h4.8v4.8h-4.8zM130.7 942.4h4.8v4.8h-4.8zM131.5 942.8h4.8v4.8h-4.8zM132.4 943.1h4.8v4.8h-4.8zM133.2 943.4h4.8v4.8h-4.8zM134.1 943.7h4.8v4.8h-4.8zM134.9 944.0h4.8v4.8h-4.8zM135.8 944.3h4.8v4.8h-4.8zM136.6 944.6h4.8v4.8h-4.8zM137.5 944.9h4.8v4.8h-4.8zM138.3 945.2h4.8v4.8h-4.8zM139.2 945.5h4.8v4.8h-4.8zM140.0 945.7h4.8v4.8h-4.8zM140.9 945.9h4.8v4.8h-4.8zM141.7 946.1h4.8v4.8h-4.8zM142.6 946.2h4.8v4.8h-4.8zM143.4 946.3h4.8v4.8h-4.8zM144.3 946.3h4.8v4.8h-4.8zM145.1 946.4h4.8v4.8h-4.8zM146.0 946.5h4.8v4.8h-4.8zM146.8 946.5h4.8v4.8h-4.8zM147.7 946.5h4.8v4.8h-4.8zM148.5 946.6h4.8v4.8h-4.8zM149.4 946.6h4.8v4.8h-4.8zM150.2 946.7h4.8v4.8h-4.8zM151.1 946.7h4.8v4.8h-4.8zM151.9 946.8h4.8v4.8h-4.8zM152.8 946.8h4.8v4.8h-4.8zM153.6 946.8h4.8v4.8h-4.8zM154.5 946.9h4.8v4.8h-4.8zM155.4 946.9h4.8v4.8h-4.8zM156.2 946.9h4.8v4.8h-4.8zM157.1 946.9h4.8v4.8h-4.8zM157.9 947.0h4.8v4.8h-4.8zM158.8 947.0h4.8v4.8h-4.8zM159.6 947.0h4.8v4.8h-4.8zM160.5 947.0h4.8v4.8h-4.8zM161.3 947.0h4.8v4.8h-4.8zM162.2 947.1h4.8v4.8h-4.8zM163.0 947.1h4.8v4.8h-4.8zM163.9 947.1h4.8v4.8h-4.8zM164.7 947.1h4.8v4.8h-4.8zM165.6 947.1h4.8v4.8h-4.8zM166.4 947.1h4.8v4.8h-4.8zM167.3 947.1h4.8v4.8h-4.8zM168.1 947.1h4.8v4.8h-4.8zM169.0 947.1h4.8v4.8h-4.8zM169.8 947.1h4.8v4.8h-4.8zM170.7 947.1h4.8v4.8h-4.8zM171.5 947.0h4.8v4.8h-4.8zM172.4 947.0h4.8v4.8h-4.8zM173.2 946.9h4.8v4.8h-4.8zM174.1 946.9h4.8v4.8h-4.8zM174.9 946.8h4.8v4.8h-4.8zM175.8 946.8h4.8v4.8h-4.8zM176.6 946.7h4.8v4.8h-4.8zM177.5 946.7h4.8v4.8h-4.8zM178.3 946.6h4.8v4.8h-4.8zM179.2 946.5h4.8v4.8h-4.8zM180.0 946.4h4.8v4.8h-4.8zM180.9 946.3h4.8v4.8h-4.8zM181.8 946.3h4.8v4.8h-4.8zM182.6 946.2h4.8v4.8h-4.8zM183.5 946.1h4.8v4.8h-4.8zM184.3 946.0h4.8v4.8h-4.8zM185.2 945.9h4.8v4.8h-4.8zM186.0 945.8h4.8v4.8h-4.8zM186.9 945.7h4.8v4.8h-4.8zM187.7 945.6h4.8v4.8h-4.8zM188.6 945.6h4.8v4.8h-4.8zM189.4 945.5h4.8v4.8h-4.8zM190.3 945.4h4.8v4.8h-4.8zM191.1 945.3h4.8v4.8h-4.8zM192.0 945.2h4.8v4.8h-4.8zM192.8 945.1h4.8v4.8h-4.8zM193.7 945.0h4.8v4.8h-4.8zM194.5 945.0h4.8v4.8h-4.8zM195.4 944.9h4.8v4.8h-4.8zM196.2 944.7h4.8v4.8h-4.8zM197.1 944.6h4.8v4.8h-4.8zM197.9 944.5h4.8v4.8h-4.8zM198.8 944.4h4.8v4.8h-4.8zM199.6 944.3h4.8v4.8h-4.8zM200.5 944.1h4.8v4.8h-4.8zM201.3 944.0h4.8v4.8h-4.8zM202.2 943.9h4.8v4.8h-4.8zM203.0 943.7h4.8v4.8h-4.8zM203.9 943.6h4.8v4.8h-4.8zM204.7 943.5h4.8v4.8h-4.8zM205.6 943.3h4.8v4.8h-4.8zM206.5 943.2h4.8v4.8h-4.8zM207.3 943.1h4.8v4.8h-4.8zM208.2 943.0h4.8v4.8h-4.8zM209.0 942.8h4.8v4.8h-4.8zM209.9 942.7h4.8v4.8h-4.8zM210.7 942.6h4.8v4.8h-4.8zM211.6 942.5h4.8v4.8h-4.8zM212.4 942.4h4.8v4.8h-4.8zM213.3 942.4h4.8v4.8h-4.8zM214.1 942.3h4.8v4.8h-4.8zM215.0 942.2h4.8v4.8h-4.8zM215.8 942.2h4.8v4.8h-4.8zM216.7 942.1h4.8v4.8h-4.8zM217.5 942.1h4.8v4.8h-4.8zM218.4 942.1h4.8v4.8h-4.8zM219.2 942.1h4.8v4.8h-4.8zM220.1 942.1h4.8v4.8h-4.8zM220.9 942.1h4.8v4.8h-4.8zM221.8 942.1h4.8v4.8h-4.8zM222.6 942.1h4.8v4.8h-4.8zM223.5 942.1h4.8v4.8h-4.8zM224.3 942.1h4.8v4.8h-4.8zM225.2 942.1h4.8v4.8h-4.8zM226.0 942.1h4.8v4.8h-4.8zM226.9 942.1h4.8v4.8h-4.8zM227.7 942.1h4.8v4.8h-4.8zM228.6 942.1h4.8v4.8h-4.8zM229.4 942.1h4.8v4.8h-4.8zM230.3 942.1h4.8v4.8h-4.8zM231.2 942.1h4.8v4.8h-4.8zM232.0 942.1h4.8v4.8h-4.8zM232.9 942.1h4.8v4.8h-4.8zM233.7 942.1h4.8v4.8h-4.8zM234.6 942.1h4.8v4.8h-4.8zM235.4 942.1h4.8v4.8h-4.8zM236.3 942.1h4.8v4.8h-4.8zM237.1 942.1h4.8v4.8h-4.8zM238.0 942.1h4.8v4.8h-4.8zM238.8 942.1h4.8v4.8h-4.8zM239.7 942.2h4.8v4.8h-4.8zM240.5 942.2h4.8v4.8h-4.8zM241.4 942.2h4.8v4.8h-4.8zM242.2 942.3h4.8v4.8h-4.8zM243.1 942.4h4.8v4.8h-4.8zM243.9 942.4h4.8v4.8h-4.8zM244.8 942.5h4.8v4.8h-4.8zM245.6 942.5h4.8v4.8h-4.8zM246.5 941.8h4.8v4.8h-4.8zM247.3 942.0h4.8v4.8h-4.8zM248.2 941.5h4.8v4.8h-4.8zM249.0 942.0h4.8v4.8h-4.8zM249.9 941.5h4.8v4.8h-4.8zM250.7 940.7h4.8v4.8h-4.8zM251.6 940.9h4.8v4.8h-4.8zM252.4 941.5h4.8v4.8h-4.8zM253.3 941.5h4.8v4.8h-4.8zM254.1 940.4h4.8v4.8h-4.8zM255.0 939.2h4.8v4.8h-4.8zM255.8 940.9h4.8v4.8h-4.8zM256.7 940.1h4.8v4.8h-4.8zM257.6 938.3h4.8v4.8h-4.8zM258.4 939.6h4.8v4.8h-4.8zM259.3 936.4h4.8v4.8h-4.8zM260.1 939.1h4.8v4.8h-4.8zM261.0 940.8h4.8v4.8h-4.8zM261.8 936.2h4.8v4.8h-4.8zM262.7 926.6h4.8v4.8h-4.8zM263.5 904.8h4.8v4.8h-4.8zM264.4 872.1h4.8v4.8h-4.8zM265.2 828.1h4.8v4.8h-4.8zM266.1 807.7h4.8v4.8h-4.8zM266.9 859.1h4.8v4.8h-4.8zM267.8 899.0h4.8v4.8h-4.8zM268.6 922.2h4.8v4.8h-4.8zM269.5 927.6h4.8v4.8h-4.8zM270.3 929.6h4.8v4.8h-4.8zM271.2 930.8h4.8v4.8h-4.8zM272.0 927.9h4.8v4.8h-4.8zM272.9 930.6h4.8v4.8h-4.8zM273.7 934.1h4.8v4.8h-4.8zM274.6 936.9h4.8v4.8h-4.8zM275.4 936.0h4.8v4.8h-4.8zM276.3 933.9h4.8v4.8h-4.8zM277.1 934.2h4.8v4.8h-4.8zM278.0 936.1h4.8v4.8h-4.8zM278.8 936.1h4.8v4.8h-4.8zM279.7 933.8h4.8v4.8h-4.8zM280.5 932.2h4.8v4.8h-4.8zM281.4 933.1h4.8v4.8h-4.8zM282.3 935.6h4.8v4.8h-4.8zM283.1 938.1h4.8v4.8h-4.8zM284.0 937.6h4.8v4.8h-4.8zM284.8 937.6h4.8v4.8h-4.8zM285.7 938.6h4.8v4.8h-4.8zM286.5 936.3h4.8v4.8h-4.8zM287.4 934.7h4.8v4.8h-4.8zM288.2 934.6h4.8v4.8h-4.8zM289.1 934.6h4.8v4.8h-4.8zM289.9 934.6h4.8v4.8h-4.8zM290.8 934.6h4.8v4.8h-4.8zM291.6 934.6h4.8v4.8h-4.8zM292.5 934.6h4.8v4.8h-4.8zM293.3 934.6h4.8v4.8h-4.8zM294.2 934.6h4.8v4.8h-4.8zM295.0 934.7h4.8v4.8h-4.8zM295.9 934.8h4.8v4.8h-4.8zM296.7 935.0h4.8v4.8h-4.8zM297.6 935.1h4.8v4.8h-4.8zM298.4 935.3h4.8v4.8h-4.8zM299.3 935.5h4.8v4.8h-4.8zM300.1 935.8h4.8v4.8h-4.8zM301.0 936.0h4.8v4.8h-4.8zM301.8 936.0h4.8v4.8h-4.8zM302.7 936.0h4.8v4.8h-4.8zM303.5 935.9h4.8v4.8h-4.8zM304.4 935.8h4.8v4.8h-4.8zM305.2 935.7h4.8v4.8h-4.8zM306.1 935.3h4.8v4.8h-4.8zM307.0 934.0h4.8v4.8h-4.8zM307.8 932.3h4.8v4.8h-4.8zM308.7 930.5h4.8v4.8h-4.8zM309.5 928.3h4.8v4.8h-4.8zM310.4 925.7h4.8v4.8h-4.8zM311.2 923.6h4.8v4.8h-4.8zM312.1 922.6h4.8v4.8h-4.8zM312.9 922.6h4.8v4.8h-4.8zM313.8 922.7h4.8v4.8h-4.8zM314.6 922.8h4.8v4.8h-4.8zM315.5 923.0h4.8v4.8h-4.8zM316.3 923.2h4.8v4.8h-4.8zM317.2 923.5h4.8v4.8h-4.8zM318.0 923.8h4.8v4.8h-4.8zM318.9 924.2h4.8v4.8h-4.8zM319.7 924.8h4.8v4.8h-4.8zM320.6 925.6h4.8v4.8h-4.8zM321.4 926.6h4.8v4.8h-4.8zM322.3 927.7h4.8v4.8h-4.8zM323.1 928.9h4.8v4.8h-4.8zM324.0 930.4h4.8v4.8h-4.8zM324.8 933.0h4.8v4.8h-4.8zM325.7 936.3h4.8v4.8h-4.8zM326.5 939.5h4.8v4.8h-4.8zM327.4 942.1h4.8v4.8h-4.8zM328.2 943.8h4.8v4.8h-4.8zM329.1 945.2h4.8v4.8h-4.8zM329.9 946.4h4.8v4.8h-4.8zM330.8 947.5h4.8v4.8h-4.8zM331.6 948.5h4.8v4.8h-4.8zM332.5 949.5h4.8v4.8h-4.8zM333.4 950.5h4.8v4.8h-4.8zM334.2 951.4h4.8v4.8h-4.8zM335.1 952.3h4.8v4.8h-4.8zM335.9 953.1h4.8v4.8h-4.8zM336.8 953.9h4.8v4.8h-4.8zM337.6 954.6h4.8v4.8h-4.8z" fill="#0018ff"/>
<path d="M105.1 931.2h4.8v4.8h-4.8zM106.0 931.7h4.8v4.8h-4.8zM106.8 932.4h4.8v4.8h-4.8zM107.7 933.0h4.8v4.8h-4.8zM108.5 933.7h4.8v4.8h-4.8zM109.4 934.4h4.8v4.8h-4.8zM110.2 935.1h4.8v4.8h-4.8zM111.1 935.9h4.8v4.8h-4.8zM111.9 936.7h4.8v4.8h-4.8zM112.8 937.5h4.8v4.8h-4.8zM113.6 938.3h4.8v4.8h-4.8zM114.5 939.1h4.8v4.8h-4.8zM115.3 939.9h4.8v4.8h-4.8zM116.2 940.6h4.8v4.8h-4.8zM117.0 941.2h4.8v4.8h-4.8zM117.9 941.8h4.8v4.8h-4.8zM118.7 942.3h4.8v4.8h-4.8zM119.6 942.8h4.8v4.8h-4.8zM120.4 943.3h4.8v4.8h-4.8zM121.3 943.8h4.8v4.8h-4.8zM122.1 944.3h4.8v4.8h-4.8zM123.0 944.7h4.8v4.8h-4.8zM123.8 945.1h4.8v4.8h-4.8zM124.7 945.5h4.8v4.8h-4.8zM125.5 945.9h4.8v4.8h-4.8zM126.4 946.2h4.8v4.8h-4.8zM127.2 946.5h4.8v4.8h-4.8zM128.1 946.8h4.8v4.8h-4.8zM128.9 947.0h4.8v4.8h-4.8zM129.8 947.3h4.8v4.8h-4.8zM130.7 947.5h4.8v4.8h-4.8zM131.5 947.8h4.8v4.8h-4.8zM132.4 948.0h4.8v4.8h-4.8zM133.2 948.3h4.8v4.8h-4.8zM134.1 948.5h4.8v4.8h-4.8zM134.9 948.7h4.8v4.8h-4.8zM135.8 948.9h4.8v4.8h-4.8zM136.6 949.1h4.8v4.8h-4.8zM137.5 949.3h4.8v4.8h-4.8zM138.3 949.4h4.8v4.8h-4.8zM139.2 949.6h4.8v4.8h-4.8zM140.0 949.7h4.8v4.8h-4.8zM140.9 949.9h4.8v4.8h-4.8zM141.7 950.0h4.8v4.8h-4.8zM142.6 950.0h4.8v4.8h-4.8zM143.4 950.1h4.8v4.8h-4.8zM144.3 950.1h4.8v4.8h-4.8zM145.1 950.2h4.8v4.8h-4.8zM146.0 950.2h4.8v4.8h-4.8zM146.8 950.3h4.8v4.8h-4.8zM147.7 950.3h4.8v4.8h-4.8zM148.5 950.3h4.8v4.8h-4.8zM149.4 950.4h4.8v4.8h-4.8zM150.2 950.4h4.8v4.8h-4.8zM151.1 950.5h4.8v4.8h-4.8zM151.9 950.5h4.8v4.8h-4.8zM152.8 950.5h4.8v4.8h-4.8zM153.6 950.5h4.8v4.8h-4.8zM154.5 950.6h4.8v4.8h-4.8zM155.4 950.6h4.8v4.8h-4.8zM156.2 950.6h4.8v4.8h-4.8zM157.1 950.7h4.8v4.8h-4.8zM157.9 950.7h4.8v4.8h-4.8zM158.8 950.7h4.8v4.8h-4.8zM159.6 950.7h4.8v4.8h-4.8zM160.5 950.8h4.8v4.8h-4.8zM161.3 950.8h4.8v4.8h-4.8zM162.2 950.8h4.8v4.8h-4.8zM163.0 950.8h4.8v4.8h-4.8zM163.9 950.8h4.8v4.8h-4.8zM164.7 950.8h4.8v4.8h-4.8zM165.6 950.9h4.8v4.8h-4.8zM166.4 950.9h4.8v4.8h-4.8zM167.3 950.9h4.8v4.8h-4.8zM168.1 950.9h4.8v4.8h-4.8zM169.0 950.9h4.8v4.8h-4.8zM169.8 950.9h4.8v4.8h-4.8zM170.7 950.9h4.8v4.8h-4.8zM171.5 950.9h4.8v4.8h-4.8zM172.4 950.9h4.8v4.8h-4.8zM173.2 950.9h4.8v4.8h-4.8zM174.1 950.9h4.8v4.8h-4.8zM174.9 950.9h4.8v4.8h-4.8zM175.8 950.8h4.8v4.8h-4.8zM176.6 950.8h4.8v4.8h-4.8zM177.5 950.7h4.8v4.8h-4.8zM178.3 950.7h4.8v4.8h-4.8zM179.2 950.6h4.8v4.8h-4.8zM180.0 950.5h4.8v4.8h-4.8zM180.9 950.5h4.8v4.8h-4.8zM181.8 950.4h4.8v4.8h-4.8zM182.6 950.3h4.8v4.8h-4.8zM183.5 950.2h4.8v4.8h-4.8zM184.3 950.1h4.8v4.8h-4.8zM185.2 950.0h4.8v4.8h-4.8zM186.0 949.9h4.8v4.8h-4.8zM186.9 949.8h4.8v4.8h-4.8zM187.7 949.7h4.8v4.8h-4.8zM188.6 949.6h4.8v4.8h-4.8zM189.4 949.5h4.8v4.8h-4.8zM190.3 949.4h4.8v4.8h-4.8zM191.1 949.3h4.8v4.8h-4.8zM192.0 949.2h4.8v4.8h-4.8zM192.8 949.1h4.8v4.8h-4.8zM193.7 949.0h4.8v4.8h-4.8zM194.5 948.9h4.8v4.8h-4.8zM195.4 948.8h4.8v4.8h-4.8zM196.2 948.7h4.8v4.8h-4.8zM197.1 948.5h4.8v4.8h-4.8zM197.9 948.4h4.8v4.8h-4.8zM198.8 948.3h4.8v4.8h-4.8zM199.6 948.1h4.8v4.8h-4.8zM200.5 947.9h4.8v4.8h-4.8zM201.3 947.8h4.8v4.8h-4.8zM202.2 947.6h4.8v4.8h-4.8zM203.0 947.4h4.8v4.8h-4.8zM203.9 947.3h4.8v4.8h-4.8zM204.7 947.1h4.8v4.8h-4.8zM205.6 947.0h4.8v4.8h-4.8zM206.5 946.8h4.8v4.8h-4.8zM207.3 946.6h4.8v4.8h-4.8zM208.2 946.5h4.8v4.8h-4.8zM209.0 946.3h4.8v4.8h-4.8zM209.9 946.2h4.8v4.8h-4.8zM210.7 946.1h4.8v4.8h-4.8zM211.6 945.9h4.8v4.8h-4.8zM212.4 945.8h4.8v4.8h-4.8zM213.3 945.7h4.8v4.8h-4.8zM214.1 945.6h4.8v4.8h-4.8zM215.0 945.6h4.8v4.8h-4.8zM215.8 945.5h4.8v4.8h-4.8zM216.7 945.4h4.8v4.8h-4.8zM217.5 945.4h4.8v4.8h-4.8zM218.4 945.4h4.8v4.8h-4.8zM219.2 945.4h4.8v4.8h-4.8zM220.1 945.4h4.8v4.8h-4.8zM220.9 945.4h4.8v4.8h-4.8zM221.8 945.4h4.8v4.8h-4.8zM222.6 945.4h4.8v4.8h-4.8zM223.5 945.4h4.8v4.8h-4.8zM224.3 945.4h4.8v4.8h-4.8zM225.2 945.4h4.8v4.8h-4.8zM226.0 945.4h4.8v4.8h-4.8zM226.9 945.4h4.8v4.8h-4.8zM227.7 945.4h4.8v4.8h-4.8zM228.6 945.4h4.8v4.8h-4.8zM229.4 945.5h4.8v4.8h-4.8zM230.3 945.5h4.8v4.8h-4.8zM231.2 945.5h4.8v4.8h-4.8zM232.0 945.5h4.8v4.8h-4.8zM232.9 945.5h4.8v4.8h-4.8zM233.7 945.5h4.8v4.8h-4.8zM234.6 945.5h4.8v4.8h-4.8zM235.4 945.6h4.8v4.8h-4.8zM236.3 945.6h4.8v4.8h-4.8zM237.1 945.6h4.8v4.8h-4.8zM238.0 945.6h4.8v4.8h-4.8zM238.8 945.8h4.8v4.8h-4.8zM239.7 946.0h4.8v4.8h-4.8zM240.5 946.4h4.8v4.8h-4.8zM241.4 946.8h4.8v4.8h-4.8zM242.2 947.3h4.8v4.8h-4.8zM243.1 947.9h4.8v4.8h-4.8zM243.9 948.4h4.8v4.8h-4.8zM244.8 948.9h4.8v4.8h-4.8zM245.6 948.9h4.8v4.8h-4.8zM246.5 948.4h4.8v4.8h-4.8zM247.3 946.9h4.8v4.8h-4.8zM248.2 945.5h4.8v4.8h-4.8zM249.0 946.1h4.8v4.8h-4.8zM249.9 947.6h4.8v4.8h-4.8zM250.7 946.9h4.8v4.8h-4.8zM251.6 944.8h4.8v4.8h-4.8zM252.4 943.8h4.8v4.8h-4.8zM253.3 944.5h4.8v4.8h-4.8zM254.1 945.3h4.8v4.8h-4.8zM255.0 943.1h4.8v4.8h-4.8zM255.8 939.4h4.8v4.8h-4.8zM256.7 942.6h4.8v4.8h-4.8zM257.6 939.1h4.8v4.8h-4.8zM258.4 942.6h4.8v4.8h-4.8zM259.3 941.6h4.8v4.8h-4.8zM260.1 943.6h4.8v4.8h-4.8zM261.0 944.4h4.8v4.8h-4.8zM261.8 939.3h4.8v4.8h-4.8zM262.7 925.7h4.8v4.8h-4.8zM263.5 901.8h4.8v4.8h-4.8zM264.4 863.1h4.8v4.8h-4.8zM265.2 802.8h4.8v4.8h-4.8zM266.1 811.8h4.8v4.8h-4.8zM266.9 870.9h4.8v4.8h-4.8zM267.8 907.2h4.8v4.8h-4.8zM268.6 922.6h4.8v4.8h-4.8zM269.5 928.6h4.8v4.8h-4.8zM270.3 932.6h4.8v4.8h-4.8zM271.2 933.6h4.8v4.8h-4.8zM272.0 931.9h4.8v4.8h-4.8zM272.9 933.1h4.8v4.8h-4.8zM273.7 935.6h4.8v4.8h-4.8zM274.6 937.6h4.8v4.8h-4.8zM275.4 937.6h4.8v4.8h-4.8zM276.3 937.1h4.8v4.8h-4.8zM277.1 937.6h4.8v4.8h-4.8zM278.0 938.6h4.8v4.8h-4.8zM278.8 938.6h4.8v4.8h-4.8zM279.7 938.6h4.8v4.8h-4.8zM280.5 938.6h4.8v4.8h-4.8zM281.4 939.6h4.8v4.8h-4.8zM282.3 940.6h4.8v4.8h-4.8zM283.1 943.6h4.8v4.8h-4.8zM284.0 943.6h4.8v4.8h-4.8zM284.8 943.6h4.8v4.8h-4.8zM285.7 944.1h4.8v4.8h-4.8zM286.5 941.8h4.8v4.8h-4.8zM287.4 939.9h4.8v4.8h-4.8zM288.2 938.7h4.8v4.8h-4.8zM289.1 938.6h4.8v4.8h-4.8zM289.9 938.6h4.8v4.8h-4.8zM290.8 938.6h4.8v4.8h-4.8zM291.6 938.6h4.8v4.8h-4.8zM292.5 938.6h4.8v4.8h-4.8zM293.3 938.5h4.8v4.8h-4.8zM294.2 938.2h4.8v4.8h-4.8zM295.0 937.8h4.8v4.8h-4.8zM295.9 937.3h4.8v4.8h-4.8zM296.7 936.9h4.8v4.8h-4.8zM297.6 936.6h4.8v4.8h-4.8zM298.4 936.4h4.8v4.8h-4.8zM299.3 936.2h4.8v4.8h-4.8zM300.1 936.1h4.8v4.8h-4.8zM301.0 935.9h4.8v4.8h-4.8zM301.8 935.8h4.8v4.8h-4.8zM302.7 935.7h4.8v4.8h-4.8zM303.5 935.6h4.8v4.8h-4.8zM304.4 935.5h4.8v4.8h-4.8zM305.2 935.5h4.8v4.8h-4.8zM306.1 935.5h4.8v4.8h-4.8zM307.0 935.5h4.8v4.8h-4.8zM307.8 935.6h4.8v4.8h-4.8zM308.7 935.6h4.8v4.8h-4.8zM309.5 935.6h4.8v4.8h-4.8zM310.4 935.5h4.8v4.8h-4.8zM311.2 935.2h4.8v4.8h-4.8zM312.1 934.9h4.8v4.8h-4.8zM312.9 934.7h4.8v4.8h-4.8zM313.8 934.6h4.8v4.8h-4.8zM314.6 934.8h4.8v4.8h-4.8zM315.5 935.3h4.8v4.8h-4.8zM316.3 935.9h4.8v4.8h-4.8zM317.2 936.7h4.8v4.8h-4.8zM318.0 937.5h4.8v4.8h-4.8zM318.9 938.4h4.8v4.8h-4.8zM319.7 939.2h4.8v4.8h-4.8zM320.6 940.1h4.8v4.8h-4.8zM321.4 941.0h4.8v4.8h-4.8zM322.3 942.0h4.8v4.8h-4.8zM323.1 942.9h4.8v4.8h-4.8zM324.0 943.8h4.8v4.8h-4.8zM324.8 944.5h4.8v4.8h-4.8zM325.7 945.2h4.8v4.8h-4.8zM326.5 945.8h4.8v4.8h-4.8zM327.4 946.5h4.8v4.8h-4.8zM328.2 947.2h4.8v4.8h-4.8zM329.1 948.0h4.8v4.8h-4.8zM329.9 949.1h4.8v4.8h-4.8zM330.8 950.5h4.8v4.8h-4.8zM331.6 952.3h4.8v4.8h-4.8zM332.5 954.0h4.8v4.8h-4.8zM333.4 955.3h4.8v4.8h-4.8zM334.2 956.2h4.8v4.8h-4.8zM335.1 957.0h4.8v4.8h-4.8zM335.9 957.7h4.8v4.8h-4.8zM336.8 958.3h4.8v4.8h-4.8zM337.6 958.6h4.8v4.8h-4.8z" fill="#00a4ff"/>
<path d="M105.1 940.6h4.8v4.8h-4.8zM106.0 941.1h4.8v4.8h-4.8zM106.8 941.8h4.8v4.8h-4.8zM107.7 942.4h4.8v4.8h-4.8zM108.5 943.1h4.8v4.8h-4.8zM109.4 943.7h4.8v4.8h-4.8zM110.2 944.2h4.8v4.8h-4.8zM111.1 944.7h4.8v4.8h-4.8zM111.9 945.2h4.8v4.8h-4.8zM112.8 945.7h4.8v4.8h-4.8zM113.6 946.1h4.8v4.8h-4.8zM114.5 946.5h4.8v4.8h-4.8zM115.3 946.9h4.8v4.8h-4.8zM116.2 947.3h4.8v4.8h-4.8zM117.0 947.7h4.8v4.8h-4.8zM117.9 948.0h4.8v4.8h-4.8zM118.7 948.4h4.8v4.8h-4.8zM119.6 948.7h4.8v4.8h-4.8zM120.4 949.0h4.8v4.8h-4.8zM121.3 949.2h4.8v4.8h-4.8zM122.1 949.5h4.8v4.8h-4.8zM123.0 949.7h4.8v4.8h-4.8zM123.8 949.9h4.8v4.8h-4.8zM124.7 950.1h4.8v4.8h-4.8zM125.5 950.3h4.8v4.8h-4.8zM126.4 950.5h4.8v4.8h-4.8zM127.2 950.7h4.8v4.8h-4.8zM128.1 950.9h4.8v4.8h-4.8zM128.9 951.1h4.8v4.8h-4.8zM129.8 951.2h4.8v4.8h-4.8zM130.7 951.4h4.8v4.8h-4.8zM131.5 951.6h4.8v4.8h-4.8zM132.4 951.7h4.8v4.8h-4.8zM133.2 951.9h4.8v4.8h-4.8zM134.1 952.0h4.8v4.8h-4.8zM134.9 952.1h4.8v4.8h-4.8zM135.8 952.3h4.8v4.8h-4.8zM136.6 952.4h4.8v4.8h-4.8zM137.5 952.5h4.8v4.8h-4.8zM138.3 952.6h4.8v4.8h-4.8zM139.2 952.7h4.8v4.8h-4.8zM140.0 952.8h4.8v4.8h-4.8zM140.9 952.9h4.8v4.8h-4.8zM141.7 953.0h4.8v4.8h-4.8zM142.6 953.0h4.8v4.8h-4.8zM143.4 953.1h4.8v4.8h-4.8zM144.3 953.1h4.8v4.8h-4.8zM145.1 953.2h4.8v4.8h-4.8zM146.0 953.2h4.8v4.8h-4.8zM146.8 953.3h4.8v4.8h-4.8zM147.7 953.3h4.8v4.8h-4.8zM148.5 953.4h4.8v4.8h-4.8zM149.4 953.4h4.8v4.8h-4.8zM150.2 953.5h4.8v4.8h-4.8zM151.1 953.5h4.8v4.8h-4.8zM151.9 953.6h4.8v4.8h-4.8zM152.8 953.6h4.8v4.8h-4.8zM153.6 953.6h4.8v4.8h-4.8zM154.5 953.7h4.8v4.8h-4.8zM155.4 953.7h4.8v4.8h-4.8zM156.2 953.7h4.8v4.8h-4.8zM157.1 953.8h4.8v4.8h-4.8zM157.9 953.8h4.8v4.8h-4.8zM158.8 953.8h4.8v4.8h-4.8zM159.6 953.9h4.8v4.8h-4.8zM160.5 953.9h4.8v4.8h-4.8zM161.3 953.9h4.8v4.8h-4.8zM162.2 953.9h4.8v4.8h-4.8zM163.0 954.0h4.8v4.8h-4.8zM163.9 954.0h4.8v4.8h-4.8zM164.7 954.0h4.8v4.8h-4.8zM165.6 954.0h4.8v4.8h-4.8zM166.4 954.0h4.8v4.8h-4.8zM167.3 954.1h4.8v4.8h-4.8zM168.1 954.1h4.8v4.8h-4.8zM169.0 954.1h4.8v4.8h-4.8zM169.8 954.1h4.8v4.8h-4.8zM170.7 954.1h4.8v4.8h-4.8zM171.5 954.1h4.8v4.8h-4.8zM172.4 954.1h4.8v4.8h-4.8zM173.2 954.1h4.8v4.8h-4.8zM174.1 954.1h4.8v4.8h-4.8zM174.9 954.1h4.8v4.8h-4.8zM175.8 954.1h4.8v4.8h-4.8zM176.6 954.1h4.8v4.8h-4.8zM177.5 954.1h4.8v4.8h-4.8zM178.3 954.1h4.8v4.8h-4.8zM179.2 954.1h4.8v4.8h-4.8zM180.0 954.1h4.8v4.8h-4.8zM180.9 954.1h4.8v4.8h-4.8zM181.8 954.0h4.8v4.8h-4.8zM182.6 954.0h4.8v4.8h-4.8zM183.5 954.0h4.8v4.8h-4.8zM184.3 954.0h4.8v4.8h-4.8zM185.2 954.0h4.8v4.8h-4.8zM186.0 954.0h4.8v4.8h-4.8zM186.9 954.0h4.8v4.8h-4.8zM187.7 954.0h4.8v4.8h-4.8zM188.6 954.0h4.8v4.8h-4.8zM189.4 953.9h4.8v4.8h-4.8zM190.3 953.9h4.8v4.8h-4.8zM191.1 953.9h4.8v4.8h-4.8zM192.0 953.9h4.8v4.8h-4.8zM192.8 953.9h4.8v4.8h-4.8zM193.7 953.9h4.8v4.8h-4.8zM194.5 953.9h4.8v4.8h-4.8zM195.4 953.9h4.8v4.8h-4.8zM196.2 953.8h4.8v4.8h-4.8zM197.1 953.8h4.8v4.8h-4.8zM197.9 953.8h4.8v4.8h-4.8zM198.8 953.8h4.8v4.8h-4.8zM199.6 953.8h4.8v4.8h-4.8zM200.5 953.8h4.8v4.8h-4.8zM201.3 953.8h4.8v4.8h-4.8zM202.2 953.7h4.8v4.8h-4.8zM203.0 953.7h4.8v4.8h-4.8zM203.9 953.7h4.8v4.8h-4.8zM204.7 953.7h4.8v4.8h-4.8zM205.6 953.7h4.8v4.8h-4.8zM206.5 953.7h4.8v4.8h-4.8zM207.3 953.7h4.8v4.8h-4.8zM208.2 953.7h4.8v4.8h-4.8zM209.0 953.7h4.8v4.8h-4.8zM209.9 953.6h4.8v4.8h-4.8zM210.7 953.6h4.8v4.8h-4.8zM211.6 953.6h4.8v4.8h-4.8zM212.4 953.6h4.8v4.8h-4.8zM213.3 953.6h4.8v4.8h-4.8zM214.1 953.6h4.8v4.8h-4.8zM215.0 953.6h4.8v4.8h-4.8zM215.8 953.6h4.8v4.8h-4.8zM216.7 953.6h4.8v4.8h-4.8zM217.5 953.6h4.8v4.8h-4.8zM218.4 953.6h4.8v4.8h-4.8zM219.2 953.6h4.8v4.8h-4.8zM220.1 953.6h4.8v4.8h-4.8zM220.9 953.6h4.8v4.8h-4.8zM221.8 953.6h4.8v4.8h-4.8zM222.6 953.7h4.8v4.8h-4.8zM223.5 953.7h4.8v4.8h-4.8zM224.3 953.7h4.8v4.8h-4.8zM225.2 953.7h4.8v4.8h-4.8zM226.0 953.8h4.8v4.8h-4.8zM226.9 953.8h4.8v4.8h-4.8zM227.7 953.8h4.8v4.8h-4.8zM228.6 953.9h4.8v4.8h-4.8zM229.4 953.9h4.8v4.8h-4.8zM230.3 953.9h4.8v4.8h-4.8zM231.2 954.0h4.8v4.8h-4.8zM232.0 954.0h4.8v4.8h-4.8zM232.9 954.0h4.8v4.8h-4.8zM233.7 954.0h4.8v4.8h-4.8zM234.6 954.1h4.8v4.8h-4.8zM235.4 954.1h4.8v4.8h-4.8zM236.3 954.1h4.8v4.8h-4.8zM237.1 954.1h4.8v4.8h-4.8zM238.0 954.1h4.8v4.8h-4.8zM238.8 954.1h4.8v4.8h-4.8zM239.7 954.0h4.8v4.8h-4.8zM240.5 953.9h4.8v4.8h-4.8zM241.4 953.7h4.8v4.8h-4.8zM242.2 953.6h4.8v4.8h-4.8zM243.1 953.4h4.8v4.8h-4.8zM243.9 953.3h4.8v4.8h-4.8zM244.8 953.1h4.8v4.8h-4.8zM245.6 953.1h4.8v4.8h-4.8zM246.5 953.1h4.8v4.8h-4.8zM247.3 953.1h4.8v4.8h-4.8zM248.2 953.1h4.8v4.8h-4.8zM249.0 953.1h4.8v4.8h-4.8zM249.9 953.1h4.8v4.8h-4.8zM250.7 953.9h4.8v4.8h-4.8zM251.6 953.9h4.8v4.8h-4.8zM252.4 952.9h4.8v4.8h-4.8zM253.3 952.9h4.8v4.8h-4.8zM254.1 952.9h4.8v4.8h-4.8zM255.0 953.4h4.8v4.8h-4.8zM255.8 951.6h4.8v4.8h-4.8zM256.7 949.3h4.8v4.8h-4.8zM257.6 947.6h4.8v4.8h-4.8zM258.4 946.2h4.8v4.8h-4.8zM259.3 945.1h4.8v4.8h-4.8zM260.1 943.8h4.8v4.8h-4.8zM261.0 935.2h4.8v4.8h-4.8zM261.8 916.5h4.8v4.8h-4.8zM262.7 882.5h4.8v4.8h-4.8zM263.5 820.1h4.8v4.8h-4.8zM264.4 769.4h4.8v4.8h-4.8zM265.2 761.2h4.8v4.8h-4.8zM266.1 817.6h4.8v4.8h-4.8zM266.9 880.6h4.8v4.8h-4.8zM267.8 914.2h4.8v4.8h-4.8zM268.6 929.6h4.8v4.8h-4.8zM269.5 937.7h4.8v4.8h-4.8zM270.3 938.1h4.8v4.8h-4.8zM271.2 939.6h4.8v4.8h-4.8zM272.0 941.6h4.8v4.8h-4.8zM272.9 943.0h4.8v4.8h-4.8zM273.7 944.0h4.8v4.8h-4.8zM274.6 943.6h4.8v4.8h-4.8zM275.4 943.1h4.8v4.8h-4.8zM276.3 943.6h4.8v4.8h-4.8zM277.1 944.6h4.8v4.8h-4.8zM278.0 942.6h4.8v4.8h-4.8zM278.8 939.6h4.8v4.8h-4.8zM279.7 936.6h4.8v4.8h-4.8zM280.5 937.6h4.8v4.8h-4.8zM281.4 938.6h4.8v4.8h-4.8zM282.3 938.6h4.8v4.8h-4.8zM283.1 936.6h4.8v4.8h-4.8zM284.0 934.1h4.8v4.8h-4.8zM284.8 934.6h4.8v4.8h-4.8zM285.7 936.1h4.8v4.8h-4.8zM286.5 934.5h4.8v4.8h-4.8zM287.4 933.3h4.8v4.8h-4.8zM288.2 933.0h4.8v4.8h-4.8zM289.1 933.0h4.8v4.8h-4.8zM289.9 933.1h4.8v4.8h-4.8zM290.8 933.2h4.8v4.8h-4.8zM291.6 933.3h4.8v4.8h-4.8zM292.5 933.4h4.8v4.8h-4.8zM293.3 933.6h4.8v4.8h-4.8zM294.2 933.7h4.8v4.8h-4.8zM295.0 933.8h4.8v4.8h-4.8zM295.9 934.0h4.8v4.8h-4.8zM296.7 934.3h4.8v4.8h-4.8zM297.6 934.6h4.8v4.8h-4.8zM298.4 935.1h4.8v4.8h-4.8zM299.3 936.0h4.8v4.8h-4.8zM300.1 937.1h4.8v4.8h-4.8zM301.0 938.3h4.8v4.8h-4.8zM301.8 939.7h4.8v4.8h-4.8zM302.7 941.1h4.8v4.8h-4.8zM303.5 942.5h4.8v4.8h-4.8zM304.4 944.1h4.8v4.8h-4.8zM305.2 946.1h4.8v4.8h-4.8zM306.1 948.2h4.8v4.8h-4.8zM307.0 950.0h4.8v4.8h-4.8zM307.8 951.1h4.8v4.8h-4.8zM308.7 951.3h4.8v4.8h-4.8zM309.5 951.1h4.8v4.8h-4.8zM310.4 950.7h4.8v4.8h-4.8zM311.2 950.2h4.8v4.8h-4.8zM312.1 949.5h4.8v4.8h-4.8zM312.9 948.3h4.8v4.8h-4.8zM313.8 945.9h4.8v4.8h-4.8zM314.6 942.9h4.8v4.8h-4.8zM315.5 940.0h4.8v4.8h-4.8zM316.3 937.4h4.8v4.8h-4.8zM317.2 934.7h4.8v4.8h-4.8zM318.0 932.0h4.8v4.8h-4.8zM318.9 929.5h4.8v4.8h-4.8zM319.7 927.3h4.8v4.8h-4.8zM320.6 925.1h4.8v4.8h-4.8zM321.4 923.0h4.8v4.8h-4.8zM322.3 921.1h4.8v4.8h-4.8zM323.1 919.8h4.8v4.8h-4.8zM324.0 919.5h4.8v4.8h-4.8zM324.8 920.2h4.8v4.8h-4.8zM325.7 921.7h4.8v4.8h-4.8zM326.5 923.9h4.8v4.8h-4.8zM327.4 930.5h4.8v4.8h-4.8zM328.2 934.6h4.8v4.8h-4.8zM329.1 937.6h4.8v4.8h-4.8zM329.9 940.4h4.8v4.8h-4.8zM330.8 943.0h4.8v4.8h-4.8zM331.6 945.8h4.8v4.8h-4.8zM332.5 948.9h4.8v4.8h-4.8zM333.4 952.1h4.8v4.8h-4.8zM334.2 954.8h4.8v4.8h-4.8zM335.1 956.4h4.8v4.8h-4.8zM335.9 957.7h4.8v4.8h-4.8zM336.8 958.7h4.8v4.8h-4.8zM337.6 959.1h4.8v4.8h-4.8z" fill="#22ffd4"/>
<path d="M105.1 944.6h4.8v4.8h-4.8zM106.0 945.0h4.8v4.8h-4.8zM106.8 945.6h4.8v4.8h-4.8zM107.7 946.1h4.8v4.8h-4.8zM108.5 946.6h4.8v4.8h-4.8zM109.4 947.1h4.8v4.8h-4.8zM110.2 947.5h4.8v4.8h-4.8zM111.1 947.9h4.8v4.8h-4.8zM111.9 948.3h4.8v4.8h-4.8zM112.8 948.7h4.8v4.8h-4.8zM113.6 949.0h4.8v4.8h-4.8zM114.5 949.3h4.8v4.8h-4.8zM115.3 949.6h4.8v4.8h-4.8zM116.2 949.9h4.8v4.8h-4.8zM117.0 950.2h4.8v4.8h-4.8zM117.9 950.4h4.8v4.8h-4.8zM118.7 950.7h4.8v4.8h-4.8zM119.6 950.9h4.8v4.8h-4.8zM120.4 951.1h4.8v4.8h-4.8zM121.3 951.3h4.8v4.8h-4.8zM122.1 951.5h4.8v4.8h-4.8zM123.0 951.7h4.8v4.8h-4.8zM123.8 951.8h4.8v4.8h-4.8zM124.7 952.0h4.8v4.8h-4.8zM125.5 952.2h4.8v4.8h-4.8zM126.4 952.3h4.8v4.8h-4.8zM127.2 952.5h4.8v4.8h-4.8zM128.1 952.7h4.8v4.8h-4.8zM128.9 952.8h4.8v4.8h-4.8zM129.8 953.0h4.8v4.8h-4.8zM130.7 953.1h4.8v4.8h-4.8zM131.5 953.2h4.8v4.8h-4.8zM132.4 953.4h4.8v4.8h-4.8zM133.2 953.5h4.8v4.8h-4.8zM134.1 953.6h4.8v4.8h-4.8zM134.9 953.7h4.8v4.8h-4.8zM135.8 953.9h4.8v4.8h-4.8zM136.6 954.0h4.8v4.8h-4.8zM137.5 954.1h4.8v4.8h-4.8zM138.3 954.2h4.8v4.8h-4.8zM139.2 954.2h4.8v4.8h-4.8zM140.0 954.3h4.8v4.8h-4.8zM140.9 954.4h4.8v4.8h-4.8zM141.7 954.5h4.8v4.8h-4.8zM142.6 954.5h4.8v4.8h-4.8zM143.4 954.6h4.8v4.8h-4.8zM144.3 954.6h4.8v4.8h-4.8zM145.1 954.7h4.8v4.8h-4.8zM146.0 954.7h4.8v4.8h-4.8zM146.8 954.8h4.8v4.8h-4.8zM147.7 954.8h4.8v4.8h-4.8zM148.5 954.9h4.8v4.8h-4.8zM149.4 954.9h4.8v4.8h-4.8zM150.2 955.0h4.8v4.8h-4.8zM151.1 955.0h4.8v4.8h-4.8zM151.9 955.0h4.8v4.8h-4.8zM152.8 955.1h4.8v4.8h-4.8zM153.6 955.1h4.8v4.8h-4.8zM154.5 955.2h4.8v4.8h-4.8zM155.4 955.2h4.8v4.8h-4.8zM156.2 955.2h4.8v4.8h-4.8zM157.1 955.3h4.8v4.8h-4.8zM157.9 955.3h4.8v4.8h-4.8zM158.8 955.3h4.8v4.8h-4.8zM159.6 955.4h4.8v4.8h-4.8zM160.5 955.4h4.8v4.8h-4.8zM161.3 955.4h4.8v4.8h-4.8zM162.2 955.4h4.8v4.8h-4.8zM163.0 955.5h4.8v4.8h-4.8zM163.9 955.5h4.8v4.8h-4.8zM164.7 955.5h4.8v4.8h-4.8zM165.6 955.5h4.8v4.8h-4.8zM166.4 955.5h4.8v4.8h-4.8zM167.3 955.6h4.8v4.8h-4.8zM168.1 955.6h4.8v4.8h-4.8zM169.0 955.6h4.8v4.8h-4.8zM169.8 955.6h4.8v4.8h-4.8zM170.7 955.6h4.8v4.8h-4.8zM171.5 955.6h4.8v4.8h-4.8zM172.4 955.6h4.8v4.8h-4.8zM173.2 955.6h4.8v4.8h-4.8zM174.1 955.6h4.8v4.8h-4.8zM174.9 955.6h4.8v4.8h-4.8zM175.8 955.6h4.8v4.8h-4.8zM176.6 955.6h4.8v4.8h-4.8zM177.5 955.5h4.8v4.8h-4.8zM178.3 955.5h4.8v4.8h-4.8zM179.2 955.5h4.8v4.8h-4.8zM180.0 955.5h4.8v4.8h-4.8zM180.9 955.4h4.8v4.8h-4.8zM181.8 955.4h4.8v4.8h-4.8zM182.6 955.4h4.8v4.8h-4.8zM183.5 955.3h4.8v4.8h-4.8zM184.3 955.3h4.8v4.8h-4.8zM185.2 955.2h4.8v4.8h-4.8zM186.0 955.2h4.8v4.8h-4.8zM186.9 955.1h4.8v4.8h-4.8zM187.7 955.1h4.8v4.8h-4.8zM188.6 955.0h4.8v4.8h-4.8zM189.4 955.0h4.8v4.8h-4.8zM190.3 954.9h4.8v4.8h-4.8zM191.1 954.9h4.8v4.8h-4.8zM192.0 954.8h4.8v4.8h-4.8zM192.8 954.7h4.8v4.8h-4.8zM193.7 954.7h4.8v4.8h-4.8zM194.5 954.6h4.8v4.8h-4.8zM195.4 954.6h4.8v4.8h-4.8zM196.2 954.5h4.8v4.8h-4.8zM197.1 954.4h4.8v4.8h-4.8zM197.9 954.4h4.8v4.8h-4.8zM198.8 954.3h4.8v4.8h-4.8zM199.6 954.2h4.8v4.8h-4.8zM200.5 954.2h4.8v4.8h-4.8zM201.3 954.1h4.8v4.8h-4.8zM202.2 954.1h4.8v4.8h-4.8zM203.0 954.0h4.8v4.8h-4.8zM203.9 953.9h4.8v4.8h-4.8zM204.7 953.9h4.8v4.8h-4.8zM205.6 953.8h4.8v4.8h-4.8zM206.5 953.8h4.8v4.8h-4.8zM207.3 953.7h4.8v4.8h-4.8zM208.2 953.6h4.8v4.8h-4.8zM209.0 953.6h4.8v4.8h-4.8zM209.9 953.5h4.8v4.8h-4.8zM210.7 953.5h4.8v4.8h-4.8zM211.6 953.4h4.8v4.8h-4.8zM212.4 953.4h4.8v4.8h-4.8zM213.3 953.3h4.8v4.8h-4.8zM214.1 953.3h4.8v4.8h-4.8zM215.0 953.2h4.8v4.8h-4.8zM215.8 953.2h4.8v4.8h-4.8zM216.7 953.2h4.8v4.8h-4.8zM217.5 953.1h4.8v4.8h-4.8zM218.4 953.1h4.8v4.8h-4.8zM219.2 953.1h4.8v4.8h-4.8zM220.1 953.1h4.8v4.8h-4.8zM220.9 953.0h4.8v4.8h-4.8zM221.8 953.0h4.8v4.8h-4.8zM222.6 953.0h4.8v4.8h-4.8zM223.5 953.0h4.8v4.8h-4.8zM224.3 953.0h4.8v4.8h-4.8zM225.2 952.9h4.8v4.8h-4.8zM226.0 952.9h4.8v4.8h-4.8zM226.9 952.9h4.8v4.8h-4.8zM227.7 952.9h4.8v4.8h-4.8zM228.6 952.9h4.8v4.8h-4.8zM229.4 952.9h4.8v4.8h-4.8zM230.3 952.9h4.8v4.8h-4.8zM231.2 952.8h4.8v4.8h-4.8zM232.0 952.8h4.8v4.8h-4.8zM232.9 952.8h4.8v4.8h-4.8zM233.7 952.8h4.8v4.8h-4.8zM234.6 952.7h4.8v4.8h-4.8zM235.4 952.7h4.8v4.8h-4.8zM236.3 952.7h4.8v4.8h-4.8zM237.1 952.6h4.8v4.8h-4.8zM238.0 952.6h4.8v4.8h-4.8zM238.8 952.5h4.8v4.8h-4.8zM239.7 952.3h4.8v4.8h-4.8zM240.5 952.1h4.8v4.8h-4.8zM241.4 951.8h4.8v4.8h-4.8zM242.2 951.5h4.8v4.8h-4.8zM243.1 951.2h4.8v4.8h-4.8zM243.9 950.9h4.8v4.8h-4.8zM244.8 950.6h4.8v4.8h-4.8zM245.6 950.5h4.8v4.8h-4.8zM246.5 950.5h4.8v4.8h-4.8zM247.3 950.4h4.8v4.8h-4.8zM248.2 950.4h4.8v4.8h-4.8zM249.0 950.3h4.8v4.8h-4.8zM249.9 950.2h4.8v4.8h-4.8zM250.7 950.2h4.8v4.8h-4.8zM251.6 950.1h4.8v4.8h-4.8zM252.4 947.1h4.8v4.8h-4.8zM253.3 947.1h4.8v4.8h-4.8zM254.1 947.6h4.8v4.8h-4.8zM255.0 947.6h4.8v4.8h-4.8zM255.8 946.6h4.8v4.8h-4.8zM256.7 945.6h4.8v4.8h-4.8zM257.6 944.6h4.8v4.8h-4.8zM258.4 943.7h4.8v4.8h-4.8zM259.3 940.9h4.8v4.8h-4.8zM260.1 932.3h4.8v4.8h-4.8zM261.0 915.3h4.8v4.8h-4.8zM261.8 887.3h4.8v4.8h-4.8zM262.7 846.9h4.8v4.8h-4.8zM263.5 786.3h4.8v4.8h-4.8zM264.4 753.4h4.8v4.8h-4.8zM265.2 832.0h4.8v4.8h-4.8zM266.1 876.3h4.8v4.8h-4.8zM266.9 903.6h4.8v4.8h-4.8zM267.8 919.4h4.8v4.8h-4.8zM268.6 925.5h4.8v4.8h-4.8zM269.5 928.0h4.8v4.8h-4.8zM270.3 931.4h4.8v4.8h-4.8zM271.2 933.6h4.8v4.8h-4.8zM272.0 935.1h4.8v4.8h-4.8zM272.9 936.6h4.8v4.8h-4.8zM273.7 937.6h4.8v4.8h-4.8zM274.6 938.6h4.8v4.8h-4.8zM275.4 939.6h4.8v4.8h-4.8zM276.3 940.6h4.8v4.8h-4.8zM277.1 940.6h4.8v4.8h-4.8zM278.0 940.6h4.8v4.8h-4.8zM278.8 940.6h4.8v4.8h-4.8zM279.7 939.6h4.8v4.8h-4.8zM280.5 939.6h4.8v4.8h-4.8zM281.4 938.6h4.8v4.8h-4.8zM282.3 939.6h4.8v4.8h-4.8zM283.1 940.6h4.8v4.8h-4.8zM284.0 940.6h4.8v4.8h-4.8zM284.8 940.6h4.8v4.8h-4.8zM285.7 941.6h4.8v4.8h-4.8zM286.5 939.5h4.8v4.8h-4.8zM287.4 937.5h4.8v4.8h-4.8zM288.2 935.8h4.8v4.8h-4.8zM289.1 934.8h4.8v4.8h-4.8zM289.9 934.6h4.8v4.8h-4.8zM290.8 934.6h4.8v4.8h-4.8zM291.6 934.6h4.8v4.8h-4.8zM292.5 934.7h4.8v4.8h-4.8zM293.3 934.7h4.8v4.8h-4.8zM294.2 934.8h4.8v4.8h-4.8zM295.0 934.8h4.8v4.8h-4.8zM295.9 934.9h4.8v4.8h-4.8zM296.7 935.0h4.8v4.8h-4.8zM297.6 935.1h4.8v4.8h-4.8zM298.4 935.3h4.8v4.8h-4.8zM299.3 935.6h4.8v4.8h-4.8zM300.1 936.4h4.8v4.8h-4.8zM301.0 937.5h4.8v4.8h-4.8zM301.8 938.9h4.8v4.8h-4.8zM302.7 940.3h4.8v4.8h-4.8zM303.5 941.5h4.8v4.8h-4.8zM304.4 942.6h4.8v4.8h-4.8zM305.2 943.7h4.8v4.8h-4.8zM306.1 944.7h4.8v4.8h-4.8zM307.0 945.4h4.8v4.8h-4.8zM307.8 945.6h4.8v4.8h-4.8zM308.7 944.6h4.8v4.8h-4.8zM309.5 942.7h4.8v4.8h-4.8zM310.4 940.4h4.8v4.8h-4.8zM311.2 938.4h4.8v4.8h-4.8zM312.1 936.8h4.8v4.8h-4.8zM312.9 935.4h4.8v4.8h-4.8zM313.8 934.1h4.8v4.8h-4.8zM314.6 932.9h4.8v4.8h-4.8zM315.5 931.8h4.8v4.8h-4.8zM316.3 930.7h4.8v4.8h-4.8zM317.2 929.5h4.8v4.8h-4.8zM318.0 928.4h4.8v4.8h-4.8zM318.9 927.4h4.8v4.8h-4.8zM319.7 926.5h4.8v4.8h-4.8zM320.6 925.9h4.8v4.8h-4.8zM321.4 925.6h4.8v4.8h-4.8zM322.3 926.0h4.8v4.8h-4.8zM323.1 927.5h4.8v4.8h-4.8zM324.0 929.7h4.8v4.8h-4.8zM324.8 932.3h4.8v4.8h-4.8zM325.7 935.0h4.8v4.8h-4.8zM326.5 937.4h4.8v4.8h-4.8zM327.4 939.6h4.8v4.8h-4.8zM328.2 941.9h4.8v4.8h-4.8zM329.1 944.2h4.8v4.8h-4.8zM329.9 946.5h4.8v4.8h-4.8zM330.8 948.7h4.8v4.8h-4.8zM331.6 950.7h4.8v4.8h-4.8zM332.5 952.7h4.8v4.8h-4.8zM333.4 954.5h4.8v4.8h-4.8zM334.2 956.1h4.8v4.8h-4.8zM335.1 957.1h4.8v4.8h-4.8zM335.9 958.0h4.8v4.8h-4.8zM336.8 958.7h4.8v4.8h-4.8zM337.6 959.1h4.8v4.8h-4.8z" fill="#aaff44"/>
<path d="M105.1 947.6h4.8v4.8h-4.8zM106.0 948.1h4.8v4.8h-4.8zM106.8 948.7h4.8v4.8h-4.8zM107.7 949.3h4.8v4.8h-4.8zM108.5 949.9h4.8v4.8h-4.8zM109.4 950.4h4.8v4.8h-4.8zM110.2 950.9h4.8v4.8h-4.8zM111.1 951.4h4.8v4.8h-4.8zM111.9 951.8h4.8v4.8h-4.8zM112.8 952.2h4.8v4.8h-4.8zM113.6 952.5h4.8v4.8h-4.8zM114.5 952.8h4.8v4.8h-4.8zM115.3 953.1h4.8v4.8h-4.8zM116.2 953.4h4.8v4.8h-4.8zM117.0 953.7h4.8v4.8h-4.8zM117.9 954.0h4.8v4.8h-4.8zM118.7 954.2h4.8v4.8h-4.8zM119.6 954.5h4.8v4.8h-4.8zM120.4 954.7h4.8v4.8h-4.8zM121.3 954.9h4.8v4.8h-4.8zM122.1 955.0h4.8v4.8h-4.8zM123.0 955.2h4.8v4.8h-4.8zM123.8 955.3h4.8v4.8h-4.8zM124.7 955.5h4.8v4.8h-4.8zM125.5 955.6h4.8v4.8h-4.8zM126.4 955.7h4.8v4.8h-4.8zM127.2 955.9h4.8v4.8h-4.8zM128.1 956.0h4.8v4.8h-4.8zM128.9 956.1h4.8v4.8h-4.8zM129.8 956.3h4.8v4.8h-4.8zM130.7 956.4h4.8v4.8h-4.8zM131.5 956.5h4.8v4.8h-4.8zM132.4 956.6h4.8v4.8h-4.8zM133.2 956.7h4.8v4.8h-4.8zM134.1 956.8h4.8v4.8h-4.8zM134.9 956.9h4.8v4.8h-4.8zM135.8 957.0h4.8v4.8h-4.8zM136.6 957.1h4.8v4.8h-4.8zM137.5 957.1h4.8v4.8h-4.8zM138.3 957.2h4.8v4.8h-4.8zM139.2 957.3h4.8v4.8h-4.8zM140.0 957.3h4.8v4.8h-4.8zM140.9 957.3h4.8v4.8h-4.8zM141.7 957.4h4.8v4.8h-4.8zM142.6 957.4h4.8v4.8h-4.8zM143.4 957.4h4.8v4.8h-4.8zM144.3 957.4h4.8v4.8h-4.8zM145.1 957.4h4.8v4.8h-4.8zM146.0 957.4h4.8v4.8h-4.8zM146.8 957.4h4.8v4.8h-4.8zM147.7 957.4h4.8v4.8h-4.8zM148.5 957.4h4.8v4.8h-4.8zM149.4 957.4h4.8v4.8h-4.8zM150.2 957.4h4.8v4.8h-4.8zM151.1 957.4h4.8v4.8h-4.8zM151.9 957.4h4.8v4.8h-4.8zM152.8 957.4h4.8v4.8h-4.8zM153.6 957.4h4.8v4.8h-4.8zM154.5 957.4h4.8v4.8h-4.8zM155.4 957.4h4.8v4.8h-4.8zM156.2 957.4h4.8v4.8h-4.8zM157.1 957.4h4.8v4.8h-4.8zM157.9 957.4h4.8v4.8h-4.8zM158.8 957.4h4.8v4.8h-4.8zM159.6 957.4h4.8v4.8h-4.8zM160.5 957.4h4.8v4.8h-4.8zM161.3 957.4h4.8v4.8h-4.8zM162.2 957.4h4.8v4.8h-4.8zM163.0 957.4h4.8v4.8h-4.8zM163.9 957.4h4.8v4.8h-4.8zM164.7 957.4h4.8v4.8h-4.8zM165.6 957.4h4.8v4.8h-4.8zM166.4 957.4h4.8v4.8h-4.8zM167.3 957.4h4.8v4.8h-4.8zM168.1 957.4h4.8v4.8h-4.8zM169.0 957.4h4.8v4.8h-4.8zM169.8 957.4h4.8v4.8h-4.8zM170.7 957.4h4.8v4.8h-4.8zM171.5 957.4h4.8v4.8h-4.8zM172.4 957.4h4.8v4.8h-4.8zM173.2 957.4h4.8v4.8h-4.8zM174.1 957.4h4.8v4.8h-4.8zM174.9 957.4h4.8v4.8h-4.8zM175.8 957.3h4.8v4.8h-4.8zM176.6 957.3h4.8v4.8h-4.8zM177.5 957.3h4.8v4.8h-4.8zM178.3 957.2h4.8v4.8h-4.8zM179.2 957.2h4.8v4.8h-4.8zM180.0 957.1h4.8v4.8h-4.8zM180.9 957.0h4.8v4.8h-4.8zM181.8 957.0h4.8v4.8h-4.8zM182.6 956.9h4.8v4.8h-4.8zM183.5 956.8h4.8v4.8h-4.8zM184.3 956.7h4.8v4.8h-4.8zM185.2 956.6h4.8v4.8h-4.8zM186.0 956.5h4.8v4.8h-4.8zM186.9 956.4h4.8v4.8h-4.8zM187.7 956.3h4.8v4.8h-4.8zM188.6 956.2h4.8v4.8h-4.8zM189.4 956.1h4.8v4.8h-4.8zM190.3 956.0h4.8v4.8h-4.8zM191.1 955.9h4.8v4.8h-4.8zM192.0 955.8h4.8v4.8h-4.8zM192.8 955.6h4.8v4.8h-4.8zM193.7 955.5h4.8v4.8h-4.8zM194.5 955.4h4.8v4.8h-4.8zM195.4 955.3h4.8v4.8h-4.8zM196.2 955.2h4.8v4.8h-4.8zM197.1 955.0h4.8v4.8h-4.8zM197.9 954.9h4.8v4.8h-4.8zM198.8 954.8h4.8v4.8h-4.8zM199.6 954.7h4.8v4.8h-4.8zM200.5 954.6h4.8v4.8h-4.8zM201.3 954.5h4.8v4.8h-4.8zM202.2 954.4h4.8v4.8h-4.8zM203.0 954.2h4.8v4.8h-4.8zM203.9 954.1h4.8v4.8h-4.8zM204.7 954.0h4.8v4.8h-4.8zM205.6 953.9h4.8v4.8h-4.8zM206.5 953.8h4.8v4.8h-4.8zM207.3 953.8h4.8v4.8h-4.8zM208.2 953.7h4.8v4.8h-4.8zM209.0 953.6h4.8v4.8h-4.8zM209.9 953.5h4.8v4.8h-4.8zM210.7 953.4h4.8v4.8h-4.8zM211.6 953.4h4.8v4.8h-4.8zM212.4 953.3h4.8v4.8h-4.8zM213.3 953.3h4.8v4.8h-4.8zM214.1 953.2h4.8v4.8h-4.8zM215.0 953.2h4.8v4.8h-4.8zM215.8 953.1h4.8v4.8h-4.8zM216.7 953.1h4.8v4.8h-4.8zM217.5 953.1h4.8v4.8h-4.8zM218.4 953.1h4.8v4.8h-4.8zM219.2 953.1h4.8v4.8h-4.8zM220.1 953.1h4.8v4.8h-4.8zM220.9 953.1h4.8v4.8h-4.8zM221.8 953.1h4.8v4.8h-4.8zM222.6 953.1h4.8v4.8h-4.8zM223.5 953.1h4.8v4.8h-4.8zM224.3 953.1h4.8v4.8h-4.8zM225.2 953.1h4.8v4.8h-4.8zM226.0 953.1h4.8v4.8h-4.8zM226.9 953.1h4.8v4.8h-4.8zM227.7 953.1h4.8v4.8h-4.8zM228.6 953.1h4.8v4.8h-4.8zM229.4 953.1h4.8v4.8h-4.8zM230.3 953.1h4.8v4.8h-4.8zM231.2 953.1h4.8v4.8h-4.8zM232.0 953.1h4.8v4.8h-4.8zM232.9 953.1h4.8v4.8h-4.8zM233.7 953.1h4.8v4.8h-4.8zM234.6 953.1h4.8v4.8h-4.8zM235.4 953.1h4.8v4.8h-4.8zM236.3 953.1h4.8v4.8h-4.8zM237.1 953.1h4.8v4.8h-4.8zM238.0 953.1h4.8v4.8h-4.8zM238.8 953.1h4.8v4.8h-4.8zM239.7 953.1h4.8v4.8h-4.8zM240.5 953.1h4.8v4.8h-4.8zM241.4 953.1h4.8v4.8h-4.8zM242.2 953.1h4.8v4.8h-4.8zM243.1 953.1h4.8v4.8h-4.8zM243.9 953.1h4.8v4.8h-4.8zM244.8 953.1h4.8v4.8h-4.8zM245.6 952.9h4.8v4.8h-4.8zM246.5 952.7h4.8v4.8h-4.8zM247.3 952.5h4.8v4.8h-4.8zM248.2 952.3h4.8v4.8h-4.8zM249.0 952.1h4.8v4.8h-4.8zM249.9 951.9h4.8v4.8h-4.8zM250.7 951.6h4.8v4.8h-4.8zM251.6 951.4h4.8v4.8h-4.8zM252.4 951.2h4.8v4.8h-4.8zM253.3 951.0h4.8v4.8h-4.8zM254.1 950.8h4.8v4.8h-4.8zM255.0 950.6h4.8v4.8h-4.8zM255.8 948.6h4.8v4.8h-4.8zM256.7 945.1h4.8v4.8h-4.8zM257.6 944.8h4.8v4.8h-4.8zM258.4 939.7h4.8v4.8h-4.8zM259.3 929.9h4.8v4.8h-4.8zM260.1 912.5h4.8v4.8h-4.8zM261.0 884.7h4.8v4.8h-4.8zM261.8 843.1h4.8v4.8h-4.8zM262.7 797.0h4.8v4.8h-4.8zM263.5 826.3h4.8v4.8h-4.8zM264.4 862.6h4.8v4.8h-4.8zM265.2 888.8h4.8v4.8h-4.8zM266.1 906.5h4.8v4.8h-4.8zM266.9 918.9h4.8v4.8h-4.8zM267.8 925.0h4.8v4.8h-4.8zM268.6 930.6h4.8v4.8h-4.8zM269.5 933.6h4.8v4.8h-4.8zM270.3 935.6h4.8v4.8h-4.8zM271.2 936.6h4.8v4.8h-4.8zM272.0 937.6h4.8v4.8h-4.8zM272.9 938.6h4.8v4.8h-4.8zM273.7 939.6h4.8v4.8h-4.8zM274.6 940.6h4.8v4.8h-4.8zM275.4 940.6h4.8v4.8h-4.8zM276.3 939.6h4.8v4.8h-4.8zM277.1 939.0h4.8v4.8h-4.8zM278.0 938.6h4.8v4.8h-4.8zM278.8 939.1h4.8v4.8h-4.8zM279.7 939.1h4.8v4.8h-4.8zM280.5 939.1h4.8v4.8h-4.8zM281.4 940.1h4.8v4.8h-4.8zM282.3 942.4h4.8v4.8h-4.8zM283.1 940.9h4.8v4.8h-4.8zM284.0 940.1h4.8v4.8h-4.8zM284.8 941.1h4.8v4.8h-4.8zM285.7 942.1h4.8v4.8h-4.8zM286.5 940.3h4.8v4.8h-4.8zM287.4 938.7h4.8v4.8h-4.8zM288.2 937.3h4.8v4.8h-4.8zM289.1 936.2h4.8v4.8h-4.8zM289.9 935.6h4.8v4.8h-4.8zM290.8 935.5h4.8v4.8h-4.8zM291.6 935.5h4.8v4.8h-4.8zM292.5 935.6h4.8v4.8h-4.8zM293.3 935.7h4.8v4.8h-4.8zM294.2 935.8h4.8v4.8h-4.8zM295.0 935.9h4.8v4.8h-4.8zM295.9 936.1h4.8v4.8h-4.8zM296.7 936.8h4.8v4.8h-4.8zM297.6 937.6h4.8v4.8h-4.8zM298.4 938.6h4.8v4.8h-4.8zM299.3 940.0h4.8v4.8h-4.8zM300.1 941.5h4.8v4.8h-4.8zM301.0 943.1h4.8v4.8h-4.8zM301.8 944.5h4.8v4.8h-4.8zM302.7 945.7h4.8v4.8h-4.8zM303.5 946.8h4.8v4.8h-4.8zM304.4 948.0h4.8v4.8h-4.8zM305.2 949.0h4.8v4.8h-4.8zM306.1 949.8h4.8v4.8h-4.8zM307.0 950.3h4.8v4.8h-4.8zM307.8 950.2h4.8v4.8h-4.8zM308.7 949.5h4.8v4.8h-4.8zM309.5 948.4h4.8v4.8h-4.8zM310.4 947.2h4.8v4.8h-4.8zM311.2 946.0h4.8v4.8h-4.8zM312.1 945.1h4.8v4.8h-4.8zM312.9 944.3h4.8v4.8h-4.8zM313.8 943.6h4.8v4.8h-4.8zM314.6 942.8h4.8v4.8h-4.8zM315.5 941.9h4.8v4.8h-4.8zM316.3 940.9h4.8v4.8h-4.8zM317.2 939.4h4.8v4.8h-4.8zM318.0 937.5h4.8v4.8h-4.8zM318.9 936.1h4.8v4.8h-4.8zM319.7 935.7h4.8v4.8h-4.8zM320.6 936.6h4.8v4.8h-4.8zM321.4 938.2h4.8v4.8h-4.8zM322.3 940.0h4.8v4.8h-4.8zM323.1 941.8h4.8v4.8h-4.8zM324.0 943.2h4.8v4.8h-4.8zM324.8 944.4h4.8v4.8h-4.8zM325.7 945.6h4.8v4.8h-4.8zM326.5 946.6h4.8v4.8h-4.8zM327.4 947.4h4.8v4.8h-4.8zM328.2 948.0h4.8v4.8h-4.8zM329.1 948.3h4.8v4.8h-4.8zM329.9 948.6h4.8v4.8h-4.8zM330.8 949.0h4.8v4.8h-4.8zM331.6 949.6h4.8v4.8h-4.8zM332.5 951.7h4.8v4.8h-4.8zM333.4 955.6h4.8v4.8h-4.8zM334.2 957.0h4.8v4.8h-4.8zM335.1 957.9h4.8v4.8h-4.8zM335.9 958.5h4.8v4.8h-4.8zM336.8 959.0h4.8v4.8h-4.8zM337.6 959.1h4.8v4.8h-4.8z" fill="#ffd500"/>
<path d="M105.1 946.2h4.8v4.8h-4.8zM106.0 946.6h4.8v4.8h-4.8zM106.8 947.1h4.8v4.8h-4.8zM107.7 947.7h4.8v4.8h-4.8zM108.5 948.1h4.8v4.8h-4.8zM109.4 948.6h4.8v4.8h-4.8zM110.2 949.0h4.8v4.8h-4.8zM111.1 949.5h4.8v4.8h-4.8zM111.9 949.8h4.8v4.8h-4.8zM112.8 950.2h4.8v4.8h-4.8zM113.6 950.5h4.8v4.8h-4.8zM114.5 950.8h4.8v4.8h-4.8zM115.3 951.1h4.8v4.8h-4.8zM116.2 951.3h4.8v4.8h-4.8zM117.0 951.6h4.8v4.8h-4.8zM117.9 951.8h4.8v4.8h-4.8zM118.7 952.1h4.8v4.8h-4.8zM119.6 952.3h4.8v4.8h-4.8zM120.4 952.5h4.8v4.8h-4.8zM121.3 952.7h4.8v4.8h-4.8zM122.1 952.9h4.8v4.8h-4.8zM123.0 953.1h4.8v4.8h-4.8zM123.8 953.2h4.8v4.8h-4.8zM124.7 953.4h4.8v4.8h-4.8zM125.5 953.6h4.8v4.8h-4.8zM126.4 953.7h4.8v4.8h-4.8zM127.2 953.9h4.8v4.8h-4.8zM128.1 954.1h4.8v4.8h-4.8zM128.9 954.2h4.8v4.8h-4.8zM129.8 954.4h4.8v4.8h-4.8zM130.7 954.5h4.8v4.8h-4.8zM131.5 954.7h4.8v4.8h-4.8zM132.4 954.8h4.8v4.8h-4.8zM133.2 955.0h4.8v4.8h-4.8zM134.1 955.1h4.8v4.8h-4.8zM134.9 955.2h4.8v4.8h-4.8zM135.8 955.3h4.8v4.8h-4.8zM136.6 955.4h4.8v4.8h-4.8zM137.5 955.5h4.8v4.8h-4.8zM138.3 955.6h4.8v4.8h-4.8zM139.2 955.7h4.8v4.8h-4.8zM140.0 955.8h4.8v4.8h-4.8zM140.9 955.9h4.8v4.8h-4.8zM141.7 955.9h4.8v4.8h-4.8zM142.6 956.0h4.8v4.8h-4.8zM143.4 956.0h4.8v4.8h-4.8zM144.3 956.0h4.8v4.8h-4.8zM145.1 956.0h4.8v4.8h-4.8zM146.0 956.1h4.8v4.8h-4.8zM146.8 956.1h4.8v4.8h-4.8zM147.7 956.1h4.8v4.8h-4.8zM148.5 956.1h4.8v4.8h-4.8zM149.4 956.1h4.8v4.8h-4.8zM150.2 956.2h4.8v4.8h-4.8zM151.1 956.2h4.8v4.8h-4.8zM151.9 956.2h4.8v4.8h-4.8zM152.8 956.2h4.8v4.8h-4.8zM153.6 956.2h4.8v4.8h-4.8zM154.5 956.2h4.8v4.8h-4.8zM155.4 956.3h4.8v4.8h-4.8zM156.2 956.3h4.8v4.8h-4.8zM157.1 956.3h4.8v4.8h-4.8zM157.9 956.3h4.8v4.8h-4.8zM158.8 956.3h4.8v4.8h-4.8zM159.6 956.3h4.8v4.8h-4.8zM160.5 956.3h4.8v4.8h-4.8zM161.3 956.3h4.8v4.8h-4.8zM162.2 956.3h4.8v4.8h-4.8zM163.0 956.4h4.8v4.8h-4.8zM163.9 956.4h4.8v4.8h-4.8zM164.7 956.4h4.8v4.8h-4.8zM165.6 956.4h4.8v4.8h-4.8zM166.4 956.4h4.8v4.8h-4.8zM167.3 956.4h4.8v4.8h-4.8zM168.1 956.4h4.8v4.8h-4.8zM169.0 956.4h4.8v4.8h-4.8zM169.8 956.4h4.8v4.8h-4.8zM170.7 956.4h4.8v4.8h-4.8zM171.5 956.4h4.8v4.8h-4.8zM172.4 956.4h4.8v4.8h-4.8zM173.2 956.4h4.8v4.8h-4.8zM174.1 956.4h4.8v4.8h-4.8zM174.9 956.4h4.8v4.8h-4.8zM175.8 956.3h4.8v4.8h-4.8zM176.6 956.3h4.8v4.8h-4.8zM177.5 956.3h4.8v4.8h-4.8zM178.3 956.2h4.8v4.8h-4.8zM179.2 956.1h4.8v4.8h-4.8zM180.0 956.1h4.8v4.8h-4.8zM180.9 956.0h4.8v4.8h-4.8zM181.8 955.9h4.8v4.8h-4.8zM182.6 955.9h4.8v4.8h-4.8zM183.5 955.8h4.8v4.8h-4.8zM184.3 955.7h4.8v4.8h-4.8zM185.2 955.6h4.8v4.8h-4.8zM186.0 955.5h4.8v4.8h-4.8zM186.9 955.4h4.8v4.8h-4.8zM187.7 955.4h4.8v4.8h-4.8zM188.6 955.3h4.8v4.8h-4.8zM189.4 955.2h4.8v4.8h-4.8zM190.3 955.1h4.8v4.8h-4.8zM191.1 955.0h4.8v4.8h-4.8zM192.0 954.9h4.8v4.8h-4.8zM192.8 954.8h4.8v4.8h-4.8zM193.7 954.7h4.8v4.8h-4.8zM194.5 954.6h4.8v4.8h-4.8zM195.4 954.5h4.8v4.8h-4.8zM196.2 954.4h4.8v4.8h-4.8zM197.1 954.3h4.8v4.8h-4.8zM197.9 954.2h4.8v4.8h-4.8zM198.8 954.1h4.8v4.8h-4.8zM199.6 953.9h4.8v4.8h-4.8zM200.5 953.8h4.8v4.8h-4.8zM201.3 953.7h4.8v4.8h-4.8zM202.2 953.5h4.8v4.8h-4.8zM203.0 953.4h4.8v4.8h-4.8zM203.9 953.2h4.8v4.8h-4.8zM204.7 953.1h4.8v4.8h-4.8zM205.6 952.9h4.8v4.8h-4.8zM206.5 952.8h4.8v4.8h-4.8zM207.3 952.7h4.8v4.8h-4.8zM208.2 952.5h4.8v4.8h-4.8zM209.0 952.4h4.8v4.8h-4.8zM209.9 952.3h4.8v4.8h-4.8zM210.7 952.2h4.8v4.8h-4.8zM211.6 952.1h4.8v4.8h-4.8zM212.4 952.0h4.8v4.8h-4.8zM213.3 951.9h4.8v4.8h-4.8zM214.1 951.8h4.8v4.8h-4.8zM215.0 951.7h4.8v4.8h-4.8zM215.8 951.7h4.8v4.8h-4.8zM216.7 951.6h4.8v4.8h-4.8zM217.5 951.6h4.8v4.8h-4.8zM218.4 951.6h4.8v4.8h-4.8zM219.2 951.6h4.8v4.8h-4.8zM220.1 951.6h4.8v4.8h-4.8zM220.9 951.6h4.8v4.8h-4.8zM221.8 951.6h4.8v4.8h-4.8zM222.6 951.6h4.8v4.8h-4.8zM223.5 951.6h4.8v4.8h-4.8zM224.3 951.6h4.8v4.8h-4.8zM225.2 951.6h4.8v4.8h-4.8zM226.0 951.6h4.8v4.8h-4.8zM226.9 951.6h4.8v4.8h-4.8zM227.7 951.6h4.8v4.8h-4.8zM228.6 951.6h4.8v4.8h-4.8zM229.4 951.6h4.8v4.8h-4.8zM230.3 951.6h4.8v4.8h-4.8zM231.2 951.6h4.8v4.8h-4.8zM232.0 951.6h4.8v4.8h-4.8zM232.9 951.6h4.8v4.8h-4.8zM233.7 951.6h4.8v4.8h-4.8zM234.6 951.6h4.8v4.8h-4.8zM235.4 951.6h4.8v4.8h-4.8zM236.3 951.6h4.8v4.8h-4.8zM237.1 951.6h4.8v4.8h-4.8zM238.0 951.6h4.8v4.8h-4.8zM238.8 951.6h4.8v4.8h-4.8zM239.7 951.7h4.8v4.8h-4.8zM240.5 951.7h4.8v4.8h-4.8zM241.4 951.8h4.8v4.8h-4.8zM242.2 951.9h4.8v4.8h-4.8zM243.1 952.0h4.8v4.8h-4.8zM243.9 952.1h4.8v4.8h-4.8zM244.8 952.2h4.8v4.8h-4.8zM245.6 952.0h4.8v4.8h-4.8zM246.5 952.0h4.8v4.8h-4.8zM247.3 950.3h4.8v4.8h-4.8zM248.2 950.3h4.8v4.8h-4.8zM249.0 950.6h4.8v4.8h-4.8zM249.9 951.3h4.8v4.8h-4.8zM250.7 950.6h4.8v4.8h-4.8zM251.6 950.1h4.8v4.8h-4.8zM252.4 950.4h4.8v4.8h-4.8zM253.3 950.7h4.8v4.8h-4.8zM254.1 950.7h4.8v4.8h-4.8zM255.0 948.2h4.8v4.8h-4.8zM255.8 945.4h4.8v4.8h-4.8zM256.7 943.4h4.8v4.8h-4.8zM257.6 941.1h4.8v4.8h-4.8zM258.4 935.5h4.8v4.8h-4.8zM259.3 923.8h4.8v4.8h-4.8zM260.1 905.0h4.8v4.8h-4.8zM261.0 876.7h4.8v4.8h-4.8zM261.8 839.1h4.8v4.8h-4.8zM262.7 837.6h4.8v4.8h-4.8zM263.5 866.4h4.8v4.8h-4.8zM264.4 888.7h4.8v4.8h-4.8zM265.2 904.8h4.8v4.8h-4.8zM266.1 915.8h4.8v4.8h-4.8zM266.9 926.5h4.8v4.8h-4.8zM267.8 931.4h4.8v4.8h-4.8zM268.6 933.9h4.8v4.8h-4.8zM269.5 934.9h4.8v4.8h-4.8zM270.3 936.6h4.8v4.8h-4.8zM271.2 937.1h4.8v4.8h-4.8zM272.0 938.6h4.8v4.8h-4.8zM272.9 939.1h4.8v4.8h-4.8zM273.7 939.1h4.8v4.8h-4.8zM274.6 940.6h4.8v4.8h-4.8zM275.4 940.6h4.8v4.8h-4.8zM276.3 940.6h4.8v4.8h-4.8zM277.1 940.6h4.8v4.8h-4.8zM278.0 939.6h4.8v4.8h-4.8zM278.8 940.1h4.8v4.8h-4.8zM279.7 940.6h4.8v4.8h-4.8zM280.5 940.6h4.8v4.8h-4.8zM281.4 940.9h4.8v4.8h-4.8zM282.3 939.6h4.8v4.8h-4.8zM283.1 937.7h4.8v4.8h-4.8zM284.0 937.5h4.8v4.8h-4.8zM284.8 938.6h4.8v4.8h-4.8zM285.7 940.6h4.8v4.8h-4.8zM286.5 939.9h4.8v4.8h-4.8zM287.4 939.3h4.8v4.8h-4.8zM288.2 939.0h4.8v4.8h-4.8zM289.1 938.9h4.8v4.8h-4.8zM289.9 938.8h4.8v4.8h-4.8zM290.8 938.7h4.8v4.8h-4.8zM291.6 938.6h4.8v4.8h-4.8zM292.5 938.6h4.8v4.8h-4.8zM293.3 938.6h4.8v4.8h-4.8zM294.2 938.7h4.8v4.8h-4.8zM295.0 938.8h4.8v4.8h-4.8zM295.9 939.1h4.8v4.8h-4.8zM296.7 939.7h4.8v4.8h-4.8zM297.6 941.1h4.8v4.8h-4.8zM298.4 942.9h4.8v4.8h-4.8zM299.3 944.6h4.8v4.8h-4.8zM300.1 945.7h4.8v4.8h-4.8zM301.0 946.5h4.8v4.8h-4.8zM301.8 947.3h4.8v4.8h-4.8zM302.7 947.7h4.8v4.8h-4.8zM303.5 947.8h4.8v4.8h-4.8zM304.4 947.7h4.8v4.8h-4.8zM305.2 947.5h4.8v4.8h-4.8zM306.1 947.2h4.8v4.8h-4.8zM307.0 946.9h4.8v4.8h-4.8zM307.8 946.3h4.8v4.8h-4.8zM308.7 944.9h4.8v4.8h-4.8zM309.5 943.0h4.8v4.8h-4.8zM310.4 941.0h4.8v4.8h-4.8zM311.2 939.1h4.8v4.8h-4.8zM312.1 937.7h4.8v4.8h-4.8zM312.9 936.7h4.8v4.8h-4.8zM313.8 935.7h4.8v4.8h-4.8zM314.6 934.8h4.8v4.8h-4.8zM315.5 933.9h4.8v4.8h-4.8zM316.3 932.8h4.8v4.8h-4.8zM317.2 931.6h4.8v4.8h-4.8zM318.0 930.4h4.8v4.8h-4.8zM318.9 929.3h4.8v4.8h-4.8zM319.7 928.5h4.8v4.8h-4.8zM320.6 928.2h4.8v4.8h-4.8zM321.4 930.1h4.8v4.8h-4.8zM322.3 934.7h4.8v4.8h-4.8zM323.1 940.1h4.8v4.8h-4.8zM324.0 946.2h4.8v4.8h-4.8zM324.8 950.3h4.8v4.8h-4.8zM325.7 952.8h4.8v4.8h-4.8zM326.5 954.5h4.8v4.8h-4.8zM327.4 955.5h4.8v4.8h-4.8zM328.2 956.2h4.8v4.8h-4.8zM329.1 956.7h4.8v4.8h-4.8zM329.9 957.2h4.8v4.8h-4.8zM330.8 957.6h4.8v4.8h-4.8zM331.6 957.9h4.8v4.8h-4.8zM332.5 958.1h4.8v4.8h-4.8zM333.4 958.2h4.8v4.8h-4.8zM334.2 958.3h4.8v4.8h-4.8zM335.1 958.4h4.8v4.8h-4.8zM335.9 958.5h4.8v4.8h-4.8zM336.8 958.6h4.8v4.8h-4.8zM337.6 958.6h4.8v4.8h-4.8z" fill="#ff5200"/>
<path d="M105.1 938.6h4.8v4.8h-4.8zM106.0 939.2h4.8v4.8h-4.8zM106.8 939.9h4.8v4.8h-4.8zM107.7 940.6h4.8v4.8h-4.8zM108.5 941.3h4.8v4.8h-4.8zM109.4 941.9h4.8v4.8h-4.8zM110.2 942.5h4.8v4.8h-4.8zM111.1 943.1h4.8v4.8h-4.8zM111.9 943.7h4.8v4.8h-4.8zM112.8 944.2h4.8v4.8h-4.8zM113.6 944.7h4.8v4.8h-4.8zM114.5 945.2h4.8v4.8h-4.8zM115.3 945.7h4.8v4.8h-4.8zM116.2 946.2h4.8v4.8h-4.8zM117.0 946.6h4.8v4.8h-4.8zM117.9 947.0h4.8v4.8h-4.8zM118.7 947.5h4.8v4.8h-4.8zM119.6 947.9h4.8v4.8h-4.8zM120.4 948.2h4.8v4.8h-4.8zM121.3 948.6h4.8v4.8h-4.8zM122.1 948.9h4.8v4.8h-4.8zM123.0 949.1h4.8v4.8h-4.8zM123.8 949.4h4.8v4.8h-4.8zM124.7 949.6h4.8v4.8h-4.8zM125.5 949.9h4.8v4.8h-4.8zM126.4 950.1h4.8v4.8h-4.8zM127.2 950.3h4.8v4.8h-4.8zM128.1 950.5h4.8v4.8h-4.8zM128.9 950.7h4.8v4.8h-4.8zM129.8 950.9h4.8v4.8h-4.8zM130.7 951.1h4.8v4.8h-4.8zM131.5 951.3h4.8v4.8h-4.8zM132.4 951.5h4.8v4.8h-4.8zM133.2 951.7h4.8v4.8h-4.8zM134.1 951.9h4.8v4.8h-4.8zM134.9 952.0h4.8v4.8h-4.8zM135.8 952.2h4.8v4.8h-4.8zM136.6 952.3h4.8v4.8h-4.8zM137.5 952.4h4.8v4.8h-4.8zM138.3 952.6h4.8v4.8h-4.8zM139.2 952.7h4.8v4.8h-4.8zM140.0 952.8h4.8v4.8h-4.8zM140.9 952.9h4.8v4.8h-4.8zM141.7 953.0h4.8v4.8h-4.8zM142.6 953.0h4.8v4.8h-4.8zM143.4 953.1h4.8v4.8h-4.8zM144.3 953.1h4.8v4.8h-4.8zM145.1 953.2h4.8v4.8h-4.8zM146.0 953.2h4.8v4.8h-4.8zM146.8 953.3h4.8v4.8h-4.8zM147.7 953.3h4.8v4.8h-4.8zM148.5 953.4h4.8v4.8h-4.8zM149.4 953.4h4.8v4.8h-4.8zM150.2 953.5h4.8v4.8h-4.8zM151.1 953.5h4.8v4.8h-4.8zM151.9 953.6h4.8v4.8h-4.8zM152.8 953.6h4.8v4.8h-4.8zM153.6 953.6h4.8v4.8h-4.8zM154.5 953.7h4.8v4.8h-4.8zM155.4 953.7h4.8v4.8h-4.8zM156.2 953.7h4.8v4.8h-4.8zM157.1 953.8h4.8v4.8h-4.8zM157.9 953.8h4.8v4.8h-4.8zM158.8 953.8h4.8v4.8h-4.8zM159.6 953.9h4.8v4.8h-4.8zM160.5 953.9h4.8v4.8h-4.8zM161.3 953.9h4.8v4.8h-4.8zM162.2 954.0h4.8v4.8h-4.8zM163.0 954.0h4.8v4.8h-4.8zM163.9 954.0h4.8v4.8h-4.8zM164.7 954.0h4.8v4.8h-4.8zM165.6 954.0h4.8v4.8h-4.8zM166.4 954.0h4.8v4.8h-4.8zM167.3 954.1h4.8v4.8h-4.8zM168.1 954.1h4.8v4.8h-4.8zM169.0 954.1h4.8v4.8h-4.8zM169.8 954.1h4.8v4.8h-4.8zM170.7 954.1h4.8v4.8h-4.8zM171.5 954.1h4.8v4.8h-4.8zM172.4 954.1h4.8v4.8h-4.8zM173.2 954.1h4.8v4.8h-4.8zM174.1 954.1h4.8v4.8h-4.8zM174.9 954.1h4.8v4.8h-4.8zM175.8 954.0h4.8v4.8h-4.8zM176.6 954.0h4.8v4.8h-4.8zM177.5 953.9h4.8v4.8h-4.8zM178.3 953.9h4.8v4.8h-4.8zM179.2 953.8h4.8v4.8h-4.8zM180.0 953.8h4.8v4.8h-4.8zM180.9 953.7h4.8v4.8h-4.8zM181.8 953.6h4.8v4.8h-4.8zM182.6 953.5h4.8v4.8h-4.8zM183.5 953.4h4.8v4.8h-4.8zM184.3 953.3h4.8v4.8h-4.8zM185.2 953.3h4.8v4.8h-4.8zM186.0 953.2h4.8v4.8h-4.8zM186.9 953.1h4.8v4.8h-4.8zM187.7 953.0h4.8v4.8h-4.8zM188.6 952.9h4.8v4.8h-4.8zM189.4 952.8h4.8v4.8h-4.8zM190.3 952.7h4.8v4.8h-4.8zM191.1 952.6h4.8v4.8h-4.8zM192.0 952.5h4.8v4.8h-4.8zM192.8 952.4h4.8v4.8h-4.8zM193.7 952.3h4.8v4.8h-4.8zM194.5 952.3h4.8v4.8h-4.8zM195.4 952.2h4.8v4.8h-4.8zM196.2 952.1h4.8v4.8h-4.8zM197.1 952.0h4.8v4.8h-4.8zM197.9 951.8h4.8v4.8h-4.8zM198.8 951.7h4.8v4.8h-4.8zM199.6 951.6h4.8v4.8h-4.8zM200.5 951.5h4.8v4.8h-4.8zM201.3 951.4h4.8v4.8h-4.8zM202.2 951.3h4.8v4.8h-4.8zM203.0 951.1h4.8v4.8h-4.8zM203.9 951.0h4.8v4.8h-4.8zM204.7 950.9h4.8v4.8h-4.8zM205.6 950.8h4.8v4.8h-4.8zM206.5 950.6h4.8v4.8h-4.8zM207.3 950.5h4.8v4.8h-4.8zM208.2 950.4h4.8v4.8h-4.8zM209.0 950.3h4.8v4.8h-4.8zM209.9 950.2h4.8v4.8h-4.8zM210.7 950.1h4.8v4.8h-4.8zM211.6 950.0h4.8v4.8h-4.8zM212.4 949.9h4.8v4.8h-4.8zM213.3 949.8h4.8v4.8h-4.8zM214.1 949.7h4.8v4.8h-4.8zM215.0 949.6h4.8v4.8h-4.8zM215.8 949.6h4.8v4.8h-4.8zM216.7 949.5h4.8v4.8h-4.8zM217.5 949.5h4.8v4.8h-4.8zM218.4 949.4h4.8v4.8h-4.8zM219.2 949.4h4.8v4.8h-4.8zM220.1 949.3h4.8v4.8h-4.8zM220.9 949.3h4.8v4.8h-4.8zM221.8 949.3h4.8v4.8h-4.8zM222.6 949.3h4.8v4.8h-4.8zM223.5 949.2h4.8v4.8h-4.8zM224.3 949.2h4.8v4.8h-4.8zM225.2 949.2h4.8v4.8h-4.8zM226.0 949.2h4.8v4.8h-4.8zM226.9 949.2h4.8v4.8h-4.8zM227.7 949.1h4.8v4.8h-4.8zM228.6 949.1h4.8v4.8h-4.8zM229.4 949.1h4.8v4.8h-4.8zM230.3 949.1h4.8v4.8h-4.8zM231.2 949.1h4.8v4.8h-4.8zM232.0 949.0h4.8v4.8h-4.8zM232.9 949.0h4.8v4.8h-4.8zM233.7 949.0h4.8v4.8h-4.8zM234.6 949.0h4.8v4.8h-4.8zM235.4 949.0h4.8v4.8h-4.8zM236.3 948.9h4.8v4.8h-4.8zM237.1 948.9h4.8v4.8h-4.8zM238.0 948.9h4.8v4.8h-4.8zM238.8 948.9h4.8v4.8h-4.8zM239.7 948.8h4.8v4.8h-4.8zM240.5 948.8h4.8v4.8h-4.8zM241.4 948.8h4.8v4.8h-4.8zM242.2 948.7h4.8v4.8h-4.8zM243.1 948.7h4.8v4.8h-4.8zM243.9 948.6h4.8v4.8h-4.8zM244.8 948.6h4.8v4.8h-4.8zM245.6 948.6h4.8v4.8h-4.8zM246.5 948.1h4.8v4.8h-4.8zM247.3 946.6h4.8v4.8h-4.8zM248.2 945.2h4.8v4.8h-4.8zM249.0 945.8h4.8v4.8h-4.8zM249.9 947.3h4.8v4.8h-4.8zM250.7 946.6h4.8v4.8h-4.8zM251.6 944.5h4.8v4.8h-4.8zM252.4 943.5h4.8v4.8h-4.8zM253.3 944.2h4.8v4.8h-4.8zM254.1 945.0h4.8v4.8h-4.8zM255.0 942.8h4.8v4.8h-4.8zM255.8 938.1h4.8v4.8h-4.8zM256.7 932.2h4.8v4.8h-4.8zM257.6 925.2h4.8v4.8h-4.8zM258.4 916.1h4.8v4.8h-4.8zM259.3 904.5h4.8v4.8h-4.8zM260.1 887.7h4.8v4.8h-4.8zM261.0 873.2h4.8v4.8h-4.8zM261.8 874.6h4.8v4.8h-4.8zM262.7 886.4h4.8v4.8h-4.8zM263.5 897.3h4.8v4.8h-4.8zM264.4 906.0h4.8v4.8h-4.8zM265.2 912.9h4.8v4.8h-4.8zM266.1 918.2h4.8v4.8h-4.8zM266.9 923.5h4.8v4.8h-4.8zM267.8 927.5h4.8v4.8h-4.8zM268.6 930.1h4.8v4.8h-4.8zM269.5 931.6h4.8v4.8h-4.8zM270.3 934.0h4.8v4.8h-4.8zM271.2 935.6h4.8v4.8h-4.8zM272.0 936.5h4.8v4.8h-4.8zM272.9 937.1h4.8v4.8h-4.8zM273.7 937.9h4.8v4.8h-4.8zM274.6 939.2h4.8v4.8h-4.8zM275.4 941.1h4.8v4.8h-4.8zM276.3 941.9h4.8v4.8h-4.8zM277.1 941.9h4.8v4.8h-4.8zM278.0 942.4h4.8v4.8h-4.8zM278.8 943.6h4.8v4.8h-4.8zM279.7 944.0h4.8v4.8h-4.8zM280.5 944.2h4.8v4.8h-4.8zM281.4 944.5h4.8v4.8h-4.8zM282.3 945.5h4.8v4.8h-4.8zM283.1 946.6h4.8v4.8h-4.8zM284.0 947.4h4.8v4.8h-4.8zM284.8 947.7h4.8v4.8h-4.8zM285.7 948.1h4.8v4.8h-4.8zM286.5 948.0h4.8v4.8h-4.8zM287.4 947.9h4.8v4.8h-4.8zM288.2 947.7h4.8v4.8h-4.8zM289.1 947.4h4.8v4.8h-4.8zM289.9 947.0h4.8v4.8h-4.8zM290.8 946.5h4.8v4.8h-4.8zM291.6 946.0h4.8v4.8h-4.8zM292.5 945.5h4.8v4.8h-4.8zM293.3 945.0h4.8v4.8h-4.8zM294.2 944.5h4.8v4.8h-4.8zM295.0 944.1h4.8v4.8h-4.8zM295.9 943.6h4.8v4.8h-4.8zM296.7 943.1h4.8v4.8h-4.8zM297.6 942.5h4.8v4.8h-4.8zM298.4 942.0h4.8v4.8h-4.8zM299.3 941.2h4.8v4.8h-4.8zM300.1 940.5h4.8v4.8h-4.8zM301.0 940.1h4.8v4.8h-4.8zM301.8 940.4h4.8v4.8h-4.8zM302.7 941.2h4.8v4.8h-4.8zM303.5 942.0h4.8v4.8h-4.8zM304.4 942.2h4.8v4.8h-4.8zM305.2 941.8h4.8v4.8h-4.8zM306.1 941.1h4.8v4.8h-4.8zM307.0 940.1h4.8v4.8h-4.8zM307.8 938.9h4.8v4.8h-4.8zM308.7 937.4h4.8v4.8h-4.8zM309.5 934.5h4.8v4.8h-4.8zM310.4 931.5h4.8v4.8h-4.8zM311.2 929.5h4.8v4.8h-4.8zM312.1 927.7h4.8v4.8h-4.8zM312.9 926.0h4.8v4.8h-4.8zM313.8 924.5h4.8v4.8h-4.8zM314.6 923.2h4.8v4.8h-4.8zM315.5 922.1h4.8v4.8h-4.8zM316.3 921.4h4.8v4.8h-4.8zM317.2 921.1h4.8v4.8h-4.8zM318.0 921.1h4.8v4.8h-4.8zM318.9 921.2h4.8v4.8h-4.8zM319.7 921.3h4.8v4.8h-4.8zM320.6 921.5h4.8v4.8h-4.8zM321.4 921.8h4.8v4.8h-4.8zM322.3 922.1h4.8v4.8h-4.8zM323.1 922.6h4.8v4.8h-4.8zM324.0 925.0h4.8v4.8h-4.8zM324.8 930.0h4.8v4.8h-4.8zM325.7 934.3h4.8v4.8h-4.8zM326.5 938.0h4.8v4.8h-4.8zM327.4 940.2h4.8v4.8h-4.8zM328.2 942.3h4.8v4.8h-4.8zM329.1 950.6h4.8v4.8h-4.8zM329.9 956.5h4.8v4.8h-4.8zM330.8 957.7h4.8v4.8h-4.8zM331.6 958.1h4.8v4.8h-4.8zM332.5 958.3h4.8v4.8h-4.8zM333.4 958.5h4.8v4.8h-4.8zM334.2 958.8h4.8v4.8h-4.8zM335.1 959.0h4.8v4.8h-4.8zM335.9 959.2h4.8v4.8h-4.8zM336.8 959.3h4.8v4.8h-4.8zM337.6 959.5h4.8v4.8h-4.8z" fill="#d40000"/>
<path d="M491.2 942.5h4.8v4.8h-4.8zM496.9 942.5h4.8v4.8h-4.8zM502.6 941.8h4.8v4.8h-4.8zM508.3 942.0h4.8v4.8h-4.8zM513.9 941.5h4.8v4.8h-4.8zM519.6 942.0h4.8v4.8h-4.8zM525.3 941.5h4.8v4.8h-4.8zM531.0 940.7h4.8v4.8h-4.8zM536.7 940.9h4.8v4.8h-4.8zM542.4 941.5h4.8v4.8h-4.8zM548.1 941.5h4.8v4.8h-4.8zM553.7 940.4h4.8v4.8h-4.8zM559.4 939.2h4.8v4.8h-4.8zM565.1 940.9h4.8v4.8h-4.8zM570.8 940.1h4.8v4.8h-4.8zM576.5 938.3h4.8v4.8h-4.8zM582.2 939.6h4.8v4.8h-4.8zM587.9 936.4h4.8v4.8h-4.8zM593.5 939.1h4.8v4.8h-4.8zM599.2 940.8h4.8v4.8h-4.8zM604.9 936.2h4.8v4.8h-4.8zM610.6 926.6h4.8v4.8h-4.8zM616.3 904.8h4.8v4.8h-4.8zM622.0 872.1h4.8v4.8h-4.8zM627.7 828.1h4.8v4.8h-4.8zM633.4 807.7h4.8v4.8h-4.8zM639.0 859.1h4.8v4.8h-4.8zM644.7 899.0h4.8v4.8h-4.8zM650.4 922.2h4.8v4.8h-4.8zM656.1 927.6h4.8v4.8h-4.8zM661.8 929.6h4.8v4.8h-4.8zM667.5 930.8h4.8v4.8h-4.8zM673.2 927.9h4.8v4.8h-4.8zM678.8 930.6h4.8v4.8h-4.8zM684.5 934.1h4.8v4.8h-4.8zM690.2 936.9h4.8v4.8h-4.8zM695.9 936.0h4.8v4.8h-4.8zM701.6 933.9h4.8v4.8h-4.8zM707.3 934.2h4.8v4.8h-4.8zM713.0 936.1h4.8v4.8h-4.8zM718.6 936.1h4.8v4.8h-4.8zM724.3 933.8h4.8v4.8h-4.8zM730.0 932.2h4.8v4.8h-4.8zM735.7 933.1h4.8v4.8h-4.8zM741.4 935.6h4.8v4.8h-4.8zM747.1 938.1h4.8v4.8h-4.8zM752.8 937.6h4.8v4.8h-4.8zM758.4 937.6h4.8v4.8h-4.8zM764.1 938.6h4.8v4.8h-4.8z" fill="#0018ff"/>
<path d="M491.2 948.9h4.8v4.8h-4.8zM496.9 948.9h4.8v4.8h-4.8zM502.6 948.4h4.8v4.8h-4.8zM508.3 946.9h4.8v4.8h-4.8zM513.9 945.5h4.8v4.8h-4.8zM519.6 946.1h4.8v4.8h-4.8zM525.3 947.6h4.8v4.8h-4.8zM531.0 946.9h4.8v4.8h-4.8zM536.7 944.8h4.8v4.8h-4.8zM542.4 943.8h4.8v4.8h-4.8zM548.1 944.5h4.8v4.8h-4.8zM553.7 945.3h4.8v4.8h-4.8zM559.4 943.1h4.8v4.8h-4.8zM565.1 939.4h4.8v4.8h-4.8zM570.8 942.6h4.8v4.8h-4.8zM576.5 939.1h4.8v4.8h-4.8zM582.2 942.6h4.8v4.8h-4.8zM587.9 941.6h4.8v4.8h-4.8zM593.5 943.6h4.8v4.8h-4.8zM599.2 944.4h4.8v4.8h-4.8zM604.9 939.3h4.8v4.8h-4.8zM610.6 925.7h4.8v4.8h-4.8zM616.3 901.8h4.8v4.8h-4.8zM622.0 863.1h4.8v4.8h-4.8zM627.7 802.8h4.8v4.8h-4.8zM633.4 811.8h4.8v4.8h-4.8zM639.0 870.9h4.8v4.8h-4.8zM644.7 907.2h4.8v4.8h-4.8zM650.4 922.6h4.8v4.8h-4.8zM656.1 928.6h4.8v4.8h-4.8zM661.8 932.6h4.8v4.8h-4.8zM667.5 933.6h4.8v4.8h-4.8zM673.2 931.9h4.8v4.8h-4.8zM678.8 933.1h4.8v4.8h-4.8zM684.5 935.6h4.8v4.8h-4.8zM690.2 937.6h4.8v4.8h-4.8zM695.9 937.6h4.8v4.8h-4.8zM701.6 937.1h4.8v4.8h-4.8zM707.3 937.6h4.8v4.8h-4.8zM713.0 938.6h4.8v4.8h-4.8zM718.6 938.6h4.8v4.8h-4.8zM724.3 938.6h4.8v4.8h-4.8zM730.0 938.6h4.8v4.8h-4.8zM735.7 939.6h4.8v4.8h-4.8zM741.4 940.6h4.8v4.8h-4.8zM747.1 943.6h4.8v4.8h-4.8zM752.8 943.6h4.8v4.8h-4.8zM758.4 943.6h4.8v4.8h-4.8zM764.1 944.1h4.8v4.8h-4.8z" fill="#00a4ff"/>
<path d="M491.2 953.1h4.8v4.8h-4.8zM496.9 953.1h4.8v4.8h-4.8zM502.6 953.1h4.8v4.8h-4.8zM508.3 953.1h4.8v4.8h-4.8zM513.9 953.1h4.8v4.8h-4.8zM519.6 953.1h4.8v4.8h-4.8zM525.3 953.1h4.8v4.8h-4.8zM531.0 953.9h4.8v4.8h-4.8zM536.7 953.9h4.8v4.8h-4.8zM542.4 952.9h4.8v4.8h-4.8zM548.1 952.9h4.8v4.8h-4.8zM553.7 952.9h4.8v4.8h-4.8zM559.4 953.4h4.8v4.8h-4.8zM565.1 951.6h4.8v4.8h-4.8zM570.8 949.3h4.8v4.8h-4.8zM576.5 947.6h4.8v4.8h-4.8zM582.2 946.2h4.8v4.8h-4.8zM587.9 945.1h4.8v4.8h-4.8zM593.5 943.8h4.8v4.8h-4.8zM599.2 935.2h4.8v4.8h-4.8zM604.9 916.5h4.8v4.8h-4.8zM610.6 882.5h4.8v4.8h-4.8zM616.3 820.1h4.8v4.8h-4.8zM622.0 769.4h4.8v4.8h-4.8zM627.7 761.2h4.8v4.8h-4.8zM633.4 817.6h4.8v4.8h-4.8zM639.0 880.6h4.8v4.8h-4.8zM644.7 914.2h4.8v4.8h-4.8zM650.4 929.6h4.8v4.8h-4.8zM656.1 937.7h4.8v4.8h-4.8zM661.8 938.1h4.8v4.8h-4.8zM667.5 939.6h4.8v4.8h-4.8zM673.2 941.6h4.8v4.8h-4.8zM678.8 943.0h4.8v4.8h-4.8zM684.5 944.0h4.8v4.8h-4.8zM690.2 943.6h4.8v4.8h-4.8zM695.9 943.1h4.8v4.8h-4.8zM701.6 943.6h4.8v4.8h-4.8zM707.3 944.6h4.8v4.8h-4.8zM713.0 942.6h4.8v4.8h-4.8zM718.6 939.6h4.8v4.8h-4.8zM724.3 936.6h4.8v4.8h-4.8zM730.0 937.6h4.8v4.8h-4.8zM735.7 938.6h4.8v4.8h-4.8zM741.4 938.6h4.8v4.8h-4.8zM747.1 936.6h4.8v4.8h-4.8zM752.8 934.1h4.8v4.8h-4.8zM758.4 934.6h4.8v4.8h-4.8zM764.1 936.1h4.8v4.8h-4.8z" fill="#22ffd4"/>
<path d="M491.2 950.6h4.8v4.8h-4.8zM496.9 950.5h4.8v4.8h-4.8zM502.6 950.5h4.8v4.8h-4.8zM508.3 950.4h4.8v4.8h-4.8zM513.9 950.4h4.8v4.8h-4.8zM519.6 950.3h4.8v4.8h-4.8zM525.3 950.2h4.8v4.8h-4.8zM531.0 950.2h4.8v4.8h-4.8zM536.7 950.1h4.8v4.8h-4.8zM542.4 947.1h4.8v4.8h-4.8zM548.1 947.1h4.8v4.8h-4.8zM553.7 947.6h4.8v4.8h-4.8zM559.4 947.6h4.8v4.8h-4.8zM565.1 946.6h4.8v4.8h-4.8zM570.8 945.6h4.8v4.8h-4.8zM576.5 944.6h4.8v4.8h-4.8zM582.2 943.7h4.8v4.8h-4.8zM587.9 940.9h4.8v4.8h-4.8zM593.5 932.3h4.8v4.8h-4.8zM599.2 915.3h4.8v4.8h-4.8zM604.9 887.3h4.8v4.8h-4.8zM610.6 846.9h4.8v4.8h-4.8zM616.3 786.3h4.8v4.8h-4.8zM622.0 753.4h4.8v4.8h-4.8zM627.7 832.0h4.8v4.8h-4.8zM633.4 876.3h4.8v4.8h-4.8zM639.0 903.6h4.8v4.8h-4.8zM644.7 919.4h4.8v4.8h-4.8zM650.4 925.5h4.8v4.8h-4.8zM656.1 928.0h4.8v4.8h-4.8zM661.8 931.4h4.8v4.8h-4.8zM667.5 933.6h4.8v4.8h-4.8zM673.2 935.1h4.8v4.8h-4.8zM678.8 936.6h4.8v4.8h-4.8zM684.5 937.6h4.8v4.8h-4.8zM690.2 938.6h4.8v4.8h-4.8zM695.9 939.6h4.8v4.8h-4.8zM701.6 940.6h4.8v4.8h-4.8zM707.3 940.6h4.8v4.8h-4.8zM713.0 940.6h4.8v4.8h-4.8zM718.6 940.6h4.8v4.8h-4.8zM724.3 939.6h4.8v4.8h-4.8zM730.0 939.6h4.8v4.8h-4.8zM735.7 938.6h4.8v4.8h-4.8zM741.4 939.6h4.8v4.8h-4.8zM747.1 940.6h4.8v4.8h-4.8zM752.8 940.6h4.8v4.8h-4.8zM758.4 940.6h4.8v4.8h-4.8zM764.1 941.6h4.8v4.8h-4.8z" fill="#aaff44"/>
<path d="M491.2 953.1h4.8v4.8h-4.8zM496.9 952.9h4.8v4.8h-4.8zM502.6 952.7h4.8v4.8h-4.8zM508.3 952.5h4.8v4.8h-4.8zM513.9 952.3h4.8v4.8h-4.8zM519.6 952.1h4.8v4.8h-4.8zM525.3 951.9h4.8v4.8h-4.8zM531.0 951.6h4.8v4.8h-4.8zM536.7 951.4h4.8v4.8h-4.8zM542.4 951.2h4.8v4.8h-4.8zM548.1 951.0h4.8v4.8h-4.8zM553.7 950.8h4.8v4.8h-4.8zM559.4 950.6h4.8v4.8h-4.8zM565.1 948.6h4.8v4.8h-4.8zM570.8 945.1h4.8v4.8h-4.8zM576.5 944.8h4.8v4.8h-4.8zM582.2 939.7h4.8v4.8h-4.8zM587.9 929.9h4.8v4.8h-4.8zM593.5 912.5h4.8v4.8h-4.8zM599.2 884.7h4.8v4.8h-4.8zM604.9 843.1h4.8v4.8h-4.8zM610.6 797.0h4.8v4.8h-4.8zM616.3 826.3h4.8v4.8h-4.8zM622.0 862.6h4.8v4.8h-4.8zM627.7 888.8h4.8v4.8h-4.8zM633.4 906.5h4.8v4.8h-4.8zM639.0 918.9h4.8v4.8h-4.8zM644.7 925.0h4.8v4.8h-4.8zM650.4 930.6h4.8v4.8h-4.8zM656.1 933.6h4.8v4.8h-4.8zM661.8 935.6h4.8v4.8h-4.8zM667.5 936.6h4.8v4.8h-4.8zM673.2 937.6h4.8v4.8h-4.8zM678.8 938.6h4.8v4.8h-4.8zM684.5 939.6h4.8v4.8h-4.8zM690.2 940.6h4.8v4.8h-4.8zM695.9 940.6h4.8v4.8h-4.8zM701.6 939.6h4.8v4.8h-4.8zM707.3 939.0h4.8v4.8h-4.8zM713.0 938.6h4.8v4.8h-4.8zM718.6 939.1h4.8v4.8h-4.8zM724.3 939.1h4.8v4.8h-4.8zM730.0 939.1h4.8v4.8h-4.8zM735.7 940.1h4.8v4.8h-4.8zM741.4 942.4h4.8v4.8h-4.8zM747.1 940.9h4.8v4.8h-4.8zM752.8 940.1h4.8v4.8h-4.8zM758.4 941.1h4.8v4.8h-4.8zM764.1 942.1h4.8v4.8h-4.8z" fill="#ffd500"/>
<path d="M491.2 952.2h4.8v4.8h-4.8zM496.9 952.0h4.8v4.8h-4.8zM502.6 952.0h4.8v4.8h-4.8zM508.3 950.3h4.8v4.8h-4.8zM513.9 950.3h4.8v4.8h-4.8zM519.6 950.6h4.8v4.8h-4.8zM525.3 951.3h4.8v4.8h-4.8zM531.0 950.6h4.8v4.8h-4.8zM536.7 950.1h4.8v4.8h-4.8zM542.4 950.4h4.8v4.8h-4.8zM548.1 950.7h4.8v4.8h-4.8zM553.7 950.7h4.8v4.8h-4.8zM559.4 948.2h4.8v4.8h-4.8zM565.1 945.4h4.8v4.8h-4.8zM570.8 943.4h4.8v4.8h-4.8zM576.5 941.1h4.8v4.8h-4.8zM582.2 935.5h4.8v4.8h-4.8zM587.9 923.8h4.8v4.8h-4.8zM593.5 905.0h4.8v4.8h-4.8zM599.2 876.7h4.8v4.8h-4.8zM604.9 839.1h4.8v4.8h-4.8zM610.6 837.6h4.8v4.8h-4.8zM616.3 866.4h4.8v4.8h-4.8zM622.0 888.7h4.8v4.8h-4.8zM627.7 904.8h4.8v4.8h-4.8zM633.4 915.8h4.8v4.8h-4.8zM639.0 926.5h4.8v4.8h-4.8zM644.7 931.4h4.8v4.8h-4.8zM650.4 933.9h4.8v4.8h-4.8zM656.1 934.9h4.8v4.8h-4.8zM661.8 936.6h4.8v4.8h-4.8zM667.5 937.1h4.8v4.8h-4.8zM673.2 938.6h4.8v4.8h-4.8zM678.8 939.1h4.8v4.8h-4.8zM684.5 939.1h4.8v4.8h-4.8zM690.2 940.6h4.8v4.8h-4.8zM695.9 940.6h4.8v4.8h-4.8zM701.6 940.6h4.8v4.8h-4.8zM707.3 940.6h4.8v4.8h-4.8zM713.0 939.6h4.8v4.8h-4.8zM718.6 940.1h4.8v4.8h-4.8zM724.3 940.6h4.8v4.8h-4.8zM730.0 940.6h4.8v4.8h-4.8zM735.7 940.9h4.8v4.8h-4.8zM741.4 939.6h4.8v4.8h-4.8zM747.1 937.7h4.8v4.8h-4.8zM752.8 937.5h4.8v4.8h-4.8zM758.4 938.6h4.8v4.8h-4.8zM764.1 940.6h4.8v4.8h-4.8z" fill="#ff5200"/>
<path d="M491.2 948.6h4.8v4.8h-4.8zM496.9 948.6h4.8v4.8h-4.8zM502.6 948.1h4.8v4.8h-4.8zM508.3 946.6h4.8v4.8h-4.8zM513.9 945.2h4.8v4.8h-4.8zM519.6 945.8h4.8v4.8h-4.8zM525.3 947.3h4.8v4.8h-4.8zM531.0 946.6h4.8v4.8h-4.8zM536.7 944.5h4.8v4.8h-4.8zM542.4 943.5h4.8v4.8h-4.8zM548.1 944.2h4.8v4.8h-4.8zM553.7 945.0h4.8v4.8h-4.8zM559.4 942.8h4.8v4.8h-4.8zM565.1 938.1h4.8v4.8h-4.8zM570.8 932.2h4.8v4.8h-4.8zM576.5 925.2h4.8v4.8h-4.8zM582.2 916.1h4.8v4.8h-4.8zM587.9 904.5h4.8v4.8h-4.8zM593.5 887.7h4.8v4.8h-4.8zM599.2 873.2h4.8v4.8h-4.8zM604.9 874.6h4.8v4.8h-4.8zM610.6 886.4h4.8v4.8h-4.8zM616.3 897.3h4.8v4.8h-4.8zM622.0 906.0h4.8v4.8h-4.8zM627.7 912.9h4.8v4.8h-4.8zM633.4 918.2h4.8v4.8h-4.8zM639.0 923.5h4.8v4.8h-4.8zM644.7 927.5h4.8v4.8h-4.8zM650.4 930.1h4.8v4.8h-4.8zM656.1 931.6h4.8v4.8h-4.8zM661.8 934.0h4.8v4.8h-4.8zM667.5 935.6h4.8v4.8h-4.8zM673.2 936.5h4.8v4.8h-4.8zM678.8 937.1h4.8v4.8h-4.8zM684.5 937.9h4.8v4.8h-4.8zM690.2 939.2h4.8v4.8h-4.8zM695.9 941.1h4.8v4.8h-4.8zM701.6 941.9h4.8v4.8h-4.8zM707.3 941.9h4.8v4.8h-4.8zM713.0 942.4h4.8v4.8h-4.8zM718.6 943.6h4.8v4.8h-4.8zM724.3 944.0h4.8v4.8h-4.8zM730.0 944.2h4.8v4.8h-4.8zM735.7 944.5h4.8v4.8h-4.8zM741.4 945.5h4.8v4.8h-4.8zM747.1 946.6h4.8v4.8h-4.8zM752.8 947.4h4.8v4.8h-4.8zM758.4 947.7h4.8v4.8h-4.8zM764.1 948.1h4.8v4.8h-4.8z" fill="#d40000"/>
<rect x="97.6" y="345.3" width="103.2" height="158" fill="#fff" stroke="#4a4a4a" stroke-width="1.3"/>
<rect x="122.20" y="356.50" width="4.8" height="4.8" fill="#0018ff"/>
<text x="171.8" y="365.60" font-size="16" text-anchor="middle">10 K</text>
<rect x="122.20" y="378.38" width="4.8" height="4.8" fill="#00a4ff"/>
<text x="171.8" y="387.48" font-size="16" text-anchor="middle">40 K</text>
<rect x="122.20" y="400.26" width="4.8" height="4.8" fill="#22ffd4"/>
<text x="171.8" y="409.36" font-size="16" text-anchor="middle">80 K</text>
<rect x="122.20" y="422.14" width="4.8" height="4.8" fill="#aaff44"/>
<text x="171.8" y="431.24" font-size="16" text-anchor="middle">120 K</text>
<rect x="122.20" y="444.02" width="4.8" height="4.8" fill="#ffd500"/>
<text x="171.8" y="453.12" font-size="16" text-anchor="middle">160 K</text>
<rect x="122.20" y="465.90" width="4.8" height="4.8" fill="#ff5200"/>
<text x="171.8" y="475.00" font-size="16" text-anchor="middle">200 K</text>
<rect x="122.20" y="487.78" width="4.8" height="4.8" fill="#d40000"/>
<text x="171.8" y="496.88" font-size="16" text-anchor="middle">300 K</text>
<path d="M83.60,197.60V183.60M149.08,197.60V183.60M214.57,197.60V183.60M280.05,197.60V183.60M345.53,197.60V183.60M411.02,197.60V183.60M476.50,197.60V183.60M541.98,197.60V183.60M607.47,197.60V183.60M672.95,197.60V183.60M738.43,197.60V183.60M83.60,56.50V70.50M181.76,56.50V70.50M279.91,56.50V70.50M378.07,56.50V70.50M476.23,56.50V70.50M574.39,56.50V70.50M672.54,56.50V70.50M770.70,56.50V70.50M83.60,197.60H97.60M770.70,197.60H756.70M83.60,133.46H97.60M770.70,133.46H756.70M83.60,69.33H97.60M770.70,69.33H756.70" stroke="#000" stroke-width="1.25" fill="none"/>
<rect x="83.60" y="56.50" width="687.10" height="141.10" stroke="#000" stroke-width="1.25" fill="none"/>
<text x="83.60" y="222.70" font-size="18" text-anchor="middle" font-weight="normal" font-style="normal" >0</text>
<text x="149.08" y="222.70" font-size="18" text-anchor="middle" font-weight="normal" font-style="normal" >1</text>
<text x="214.57" y="222.70" font-size="18" text-anchor="middle" font-weight="normal" font-style="normal" >2</text>
<text x="280.05" y="222.70" font-size="18" text-anchor="middle" font-weight="normal" font-style="normal" >3</text>
<text x="345.53" y="222.70" font-size="18" text-anchor="middle" font-weight="normal" font-style="normal" >4</text>
<text x="411.02" y="222.70" font-size="18" text-anchor="middle" font-weight="normal" font-style="normal" >5</text>
<text x="476.50" y="222.70" font-size="18" text-anchor="middle" font-weight="normal" font-style="normal" >6</text>
<text x="541.98" y="222.70" font-size="18" text-anchor="middle" font-weight="normal" font-style="normal" >7</text>
<text x="607.47" y="222.70" font-size="18" text-anchor="middle" font-weight="normal" font-style="normal" >8</text>
<text x="672.95" y="222.70" font-size="18" text-anchor="middle" font-weight="normal" font-style="normal" >9</text>
<text x="738.43" y="222.70" font-size="18" text-anchor="middle" font-weight="normal" font-style="normal" >10</text>
<text x="83.60" y="45.70" font-size="18" text-anchor="middle" font-weight="normal" font-style="normal" >0</text>
<text x="181.76" y="45.70" font-size="18" text-anchor="middle" font-weight="normal" font-style="normal" >50</text>
<text x="279.91" y="45.70" font-size="18" text-anchor="middle" font-weight="normal" font-style="normal" >100</text>
<text x="378.07" y="45.70" font-size="18" text-anchor="middle" font-weight="normal" font-style="normal" >150</text>
<text x="476.23" y="45.70" font-size="18" text-anchor="middle" font-weight="normal" font-style="normal" >200</text>
<text x="574.39" y="45.70" font-size="18" text-anchor="middle" font-weight="normal" font-style="normal" >250</text>
<text x="672.54" y="45.70" font-size="18" text-anchor="middle" font-weight="normal" font-style="normal" >300</text>
<text x="770.70" y="45.70" font-size="18" text-anchor="middle" font-weight="normal" font-style="normal" >350</text>
<text x="76.00" y="205.40" font-size="18" text-anchor="end" font-weight="normal" font-style="normal" >0</text>
<text x="76.00" y="141.26" font-size="18" text-anchor="end" font-weight="normal" font-style="normal" >0.01</text>
<text x="76.00" y="77.13" font-size="18" text-anchor="end" font-weight="normal" font-style="normal" >0.02</text>
<text x="430.75" y="248.00" font-size="20.3" text-anchor="middle" font-weight="normal" font-style="normal" >Frequency (THz)</text>
<text x="426.85" y="21.00" font-size="20.3" text-anchor="middle">Wavenumber (cm<tspan font-size="16" dx="-3.9" dy="-10.3">-1</tspan><tspan dx="1.3" dy="10.3">)</tspan></text>
<text transform="translate(31.00,129.00) rotate(-90)" font-size="20.5" text-anchor="middle">Extinction Coefficient, <tspan font-style="italic" font-family="Liberation Serif" font-size="19.5">&#954;</tspan></text>
<path d="M83.60,576.80V570.80M176.83,576.80V570.80M270.07,576.80V570.80M363.30,576.80V570.80M83.60,331.30V337.30M153.48,331.30V337.30M223.35,331.30V337.30M293.23,331.30V337.30M363.11,331.30V337.30M83.60,576.80H89.60M363.30,576.80H357.30M83.60,522.24H89.60M363.30,522.24H357.30M83.60,467.69H89.60M363.30,467.69H357.30M83.60,413.13H89.60M363.30,413.13H357.30M83.60,358.58H89.60M363.30,358.58H357.30" stroke="#2b2b2b" stroke-width="1.35" fill="none"/>
<rect x="83.60" y="331.30" width="279.70" height="245.50" stroke="#2b2b2b" stroke-width="1.35" fill="none"/>
<text x="83.60" y="601.90" font-size="18" text-anchor="middle" font-weight="normal" font-style="normal" >0</text>
<text x="176.83" y="601.90" font-size="18" text-anchor="middle" font-weight="normal" font-style="normal" >2</text>
<text x="270.07" y="601.90" font-size="18" text-anchor="middle" font-weight="normal" font-style="normal" >4</text>
<text x="363.30" y="601.90" font-size="18" text-anchor="middle" font-weight="normal" font-style="normal" >6</text>
<text x="83.60" y="320.50" font-size="18" text-anchor="middle" font-weight="normal" font-style="normal" >0</text>
<text x="153.48" y="320.50" font-size="18" text-anchor="middle" font-weight="normal" font-style="normal" >50</text>
<text x="223.35" y="320.50" font-size="18" text-anchor="middle" font-weight="normal" font-style="normal" >100</text>
<text x="293.23" y="320.50" font-size="18" text-anchor="middle" font-weight="normal" font-style="normal" >150</text>
<text x="363.11" y="320.50" font-size="18" text-anchor="middle" font-weight="normal" font-style="normal" >200</text>
<text x="76.60" y="584.60" font-size="18" text-anchor="end" font-weight="normal" font-style="normal" >2.08</text>
<text x="76.60" y="530.04" font-size="18" text-anchor="end" font-weight="normal" font-style="normal" >2.1</text>
<text x="76.60" y="475.49" font-size="18" text-anchor="end" font-weight="normal" font-style="normal" >2.12</text>
<text x="76.60" y="420.93" font-size="18" text-anchor="end" font-weight="normal" font-style="normal" >2.14</text>
<text x="76.60" y="366.38" font-size="18" text-anchor="end" font-weight="normal" font-style="normal" >2.16</text>
<text x="227.05" y="627.20" font-size="20.3" text-anchor="middle" font-weight="normal" font-style="normal" >Frequency (THz)</text>
<text x="223.15" y="295.80" font-size="20.3" text-anchor="middle">Wavenumber (cm<tspan font-size="16" dx="-3.9" dy="-10.3">-1</tspan><tspan dx="1.3" dy="10.3">)</tspan></text>
<text transform="translate(31.70,451.80) rotate(-90)" font-size="20.5" text-anchor="middle">Refractive Index, <tspan font-style="italic">n</tspan></text>
<path d="M521.92,576.80V570.80M584.17,576.80V570.80M646.41,576.80V570.80M708.66,576.80V570.80M770.90,576.80V570.80M521.15,331.30V337.30M614.45,331.30V337.30M707.75,331.30V337.30M490.80,543.98H496.80M770.90,543.98H764.90M490.80,478.34H496.80M770.90,478.34H764.90M490.80,412.70H496.80M770.90,412.70H764.90M490.80,347.05H496.80M770.90,347.05H764.90" stroke="#2b2b2b" stroke-width="1.35" fill="none"/>
<rect x="490.80" y="331.30" width="280.10" height="245.50" stroke="#2b2b2b" stroke-width="1.35" fill="none"/>
<text x="521.92" y="601.90" font-size="18" text-anchor="middle" font-weight="normal" font-style="normal" >3.6</text>
<text x="584.17" y="601.90" font-size="18" text-anchor="middle" font-weight="normal" font-style="normal" >3.8</text>
<text x="646.41" y="601.90" font-size="18" text-anchor="middle" font-weight="normal" font-style="normal" >4</text>
<text x="708.66" y="601.90" font-size="18" text-anchor="middle" font-weight="normal" font-style="normal" >4.2</text>
<text x="770.90" y="601.90" font-size="18" text-anchor="middle" font-weight="normal" font-style="normal" >4.4</text>
<text x="521.15" y="320.50" font-size="18" text-anchor="middle" font-weight="normal" font-style="normal" >120</text>
<text x="614.45" y="320.50" font-size="18" text-anchor="middle" font-weight="normal" font-style="normal" >130</text>
<text x="707.75" y="320.50" font-size="18" text-anchor="middle" font-weight="normal" font-style="normal" >140</text>
<text x="483.20" y="551.78" font-size="18" text-anchor="end" font-weight="normal" font-style="normal" >2.1</text>
<text x="483.20" y="486.14" font-size="18" text-anchor="end" font-weight="normal" font-style="normal" >2.12</text>
<text x="483.20" y="420.50" font-size="18" text-anchor="end" font-weight="normal" font-style="normal" >2.14</text>
<text x="483.20" y="354.85" font-size="18" text-anchor="end" font-weight="normal" font-style="normal" >2.16</text>
<text x="634.45" y="627.20" font-size="20.3" text-anchor="middle" font-weight="normal" font-style="normal" >Frequency (THz)</text>
<text x="630.55" y="295.80" font-size="20.3" text-anchor="middle">Wavenumber (cm<tspan font-size="16" dx="-3.9" dy="-10.3">-1</tspan><tspan dx="1.3" dy="10.3">)</tspan></text>
<text transform="translate(439.20,451.80) rotate(-90)" font-size="20.5" text-anchor="middle">Refractive Index, <tspan font-style="italic">n</tspan></text>
<path d="M83.60,962.10V956.10M176.83,962.10V956.10M270.07,962.10V956.10M363.30,962.10V956.10M83.60,716.30V722.30M153.48,716.30V722.30M223.35,716.30V722.30M293.23,716.30V722.30M363.11,716.30V722.30M83.60,962.10H89.60M363.30,962.10H357.30M83.60,908.67H89.60M363.30,908.67H357.30M83.60,855.23H89.60M363.30,855.23H357.30M83.60,801.80H89.60M363.30,801.80H357.30M83.60,748.36H89.60M363.30,748.36H357.30" stroke="#2b2b2b" stroke-width="1.35" fill="none"/>
<rect x="83.60" y="716.30" width="279.70" height="245.80" stroke="#2b2b2b" stroke-width="1.35" fill="none"/>
<text x="83.60" y="987.20" font-size="18" text-anchor="middle" font-weight="normal" font-style="normal" >0</text>
<text x="176.83" y="987.20" font-size="18" text-anchor="middle" font-weight="normal" font-style="normal" >2</text>
<text x="270.07" y="987.20" font-size="18" text-anchor="middle" font-weight="normal" font-style="normal" >4</text>
<text x="363.30" y="987.20" font-size="18" text-anchor="middle" font-weight="normal" font-style="normal" >6</text>
<text x="83.60" y="705.50" font-size="18" text-anchor="middle" font-weight="normal" font-style="normal" >0</text>
<text x="153.48" y="705.50" font-size="18" text-anchor="middle" font-weight="normal" font-style="normal" >50</text>
<text x="223.35" y="705.50" font-size="18" text-anchor="middle" font-weight="normal" font-style="normal" >100</text>
<text x="293.23" y="705.50" font-size="18" text-anchor="middle" font-weight="normal" font-style="normal" >150</text>
<text x="363.11" y="705.50" font-size="18" text-anchor="middle" font-weight="normal" font-style="normal" >200</text>
<text x="76.60" y="969.90" font-size="18" text-anchor="end" font-weight="normal" font-style="normal" >0</text>
<text x="76.60" y="916.47" font-size="18" text-anchor="end" font-weight="normal" font-style="normal" >0.005</text>
<text x="76.60" y="863.03" font-size="18" text-anchor="end" font-weight="normal" font-style="normal" >0.01</text>
<text x="76.60" y="809.60" font-size="18" text-anchor="end" font-weight="normal" font-style="normal" >0.015</text>
<text x="76.60" y="756.16" font-size="18" text-anchor="end" font-weight="normal" font-style="normal" >0.02</text>
<text x="227.05" y="1012.50" font-size="20.3" text-anchor="middle" font-weight="normal" font-style="normal" >Frequency (THz)</text>
<text x="223.15" y="680.80" font-size="20.3" text-anchor="middle">Wavenumber (cm<tspan font-size="16" dx="-3.9" dy="-10.3">-1</tspan><tspan dx="1.3" dy="10.3">)</tspan></text>
<text transform="translate(21.00,841.10) rotate(-90)" font-size="20.5" text-anchor="middle">Extinction Coefficient, <tspan font-style="italic" font-family="Liberation Serif" font-size="19.5">&#954;</tspan></text>
<path d="M521.92,962.10V956.10M584.17,962.10V956.10M646.41,962.10V956.10M708.66,962.10V956.10M770.90,962.10V956.10M521.15,716.30V722.30M614.45,716.30V722.30M707.75,716.30V722.30M490.80,962.10H496.80M770.90,962.10H764.90M490.80,908.67H496.80M770.90,908.67H764.90M490.80,855.23H496.80M770.90,855.23H764.90M490.80,801.80H496.80M770.90,801.80H764.90M490.80,748.36H496.80M770.90,748.36H764.90" stroke="#2b2b2b" stroke-width="1.35" fill="none"/>
<rect x="490.80" y="716.30" width="280.10" height="245.80" stroke="#2b2b2b" stroke-width="1.35" fill="none"/>
<text x="521.92" y="987.20" font-size="18" text-anchor="middle" font-weight="normal" font-style="normal" >3.6</text>
<text x="584.17" y="987.20" font-size="18" text-anchor="middle" font-weight="normal" font-style="normal" >3.8</text>
<text x="646.41" y="987.20" font-size="18" text-anchor="middle" font-weight="normal" font-style="normal" >4</text>
<text x="708.66" y="987.20" font-size="18" text-anchor="middle" font-weight="normal" font-style="normal" >4.2</text>
<text x="770.90" y="987.20" font-size="18" text-anchor="middle" font-weight="normal" font-style="normal" >4.4</text>
<text x="521.15" y="705.50" font-size="18" text-anchor="middle" font-weight="normal" font-style="normal" >120</text>
<text x="614.45" y="705.50" font-size="18" text-anchor="middle" font-weight="normal" font-style="normal" >130</text>
<text x="707.75" y="705.50" font-size="18" text-anchor="middle" font-weight="normal" font-style="normal" >140</text>
<text x="483.20" y="969.90" font-size="18" text-anchor="end" font-weight="normal" font-style="normal" >0</text>
<text x="483.20" y="916.47" font-size="18" text-anchor="end" font-weight="normal" font-style="normal" >0.005</text>
<text x="483.20" y="863.03" font-size="18" text-anchor="end" font-weight="normal" font-style="normal" >0.01</text>
<text x="483.20" y="809.60" font-size="18" text-anchor="end" font-weight="normal" font-style="normal" >0.015</text>
<text x="483.20" y="756.16" font-size="18" text-anchor="end" font-weight="normal" font-style="normal" >0.02</text>
<text x="634.45" y="1012.50" font-size="20.3" text-anchor="middle" font-weight="normal" font-style="normal" >Frequency (THz)</text>
<text x="630.55" y="680.80" font-size="20.3" text-anchor="middle">Wavenumber (cm<tspan font-size="16" dx="-3.9" dy="-10.3">-1</tspan><tspan dx="1.3" dy="10.3">)</tspan></text>
<text transform="translate(428.20,841.10) rotate(-90)" font-size="20.5" text-anchor="middle">Extinction Coefficient, <tspan font-style="italic" font-family="Liberation Serif" font-size="19.5">&#954;</tspan></text>
<text x="-1.20" y="18.30" font-size="23" text-anchor="start" font-weight="bold" font-style="normal" >a</text>
<text x="-0.30" y="281.30" font-size="23" text-anchor="start" font-weight="bold" font-style="normal" >b</text>
<text x="405.80" y="281.30" font-size="23" text-anchor="start" font-weight="bold" font-style="normal" >c</text>
<text x="-1.00" y="663.20" font-size="23" text-anchor="start" font-weight="bold" font-style="normal" >d</text>
<text x="405.50" y="663.20" font-size="23" text-anchor="start" font-weight="bold" font-style="normal" >e</text>
<text x="262.6" y="103.6" font-size="18.4">132<tspan dx="3.2">cm</tspan><tspan font-size="13" dx="1.6" dy="-8.3">-1</tspan></text>
<text x="575.1" y="102.0" font-size="18.4">265<tspan dx="3.2">cm</tspan><tspan font-size="13" dx="1.6" dy="-8.3">-1</tspan></text>
<path d="M342.20,72.20V89.30" stroke="#000" stroke-width="1.9"/>
<path d="M342.20,95.30L335.45,83.40L342.20,86.40L348.95,83.40Z" fill="#000"/>
<path d="M607.90,113.40V130.00" stroke="#000" stroke-width="1.9"/>
<path d="M607.90,136.00L601.15,124.10L607.90,127.10L614.65,124.10Z" fill="#000"/>
</svg>
</body></html>
